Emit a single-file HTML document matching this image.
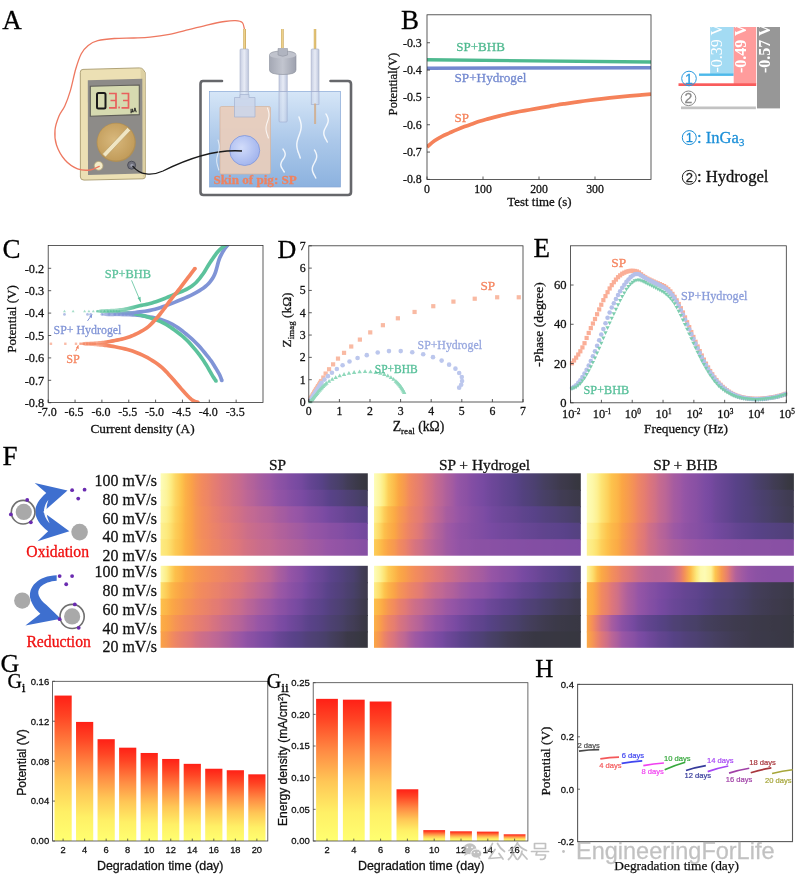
<!DOCTYPE html>
<html><head><meta charset="utf-8"><title>Figure</title>
<style>
html,body{margin:0;padding:0;background:#fff;}
body{width:799px;height:882px;overflow:hidden;font-family:"Liberation Serif",serif;}
svg{display:block;position:absolute;left:0;top:0;filter:blur(0.45px);}
text{white-space:pre;}
</style></head><body>
<svg width="799" height="882" viewBox="0 0 799 882">
<rect width="799" height="882" fill="#fff"/>
<defs><linearGradient id="water" x1="0" y1="0" x2="0" y2="1"><stop offset="0" stop-color="#d6e6f7"/><stop offset="0.5" stop-color="#adc9ea"/><stop offset="1" stop-color="#8cb2df"/></linearGradient><radialGradient id="bluec" cx="0.4" cy="0.4" r="0.7"><stop offset="0" stop-color="#d2dcfa"/><stop offset="1" stop-color="#9db0ec"/></radialGradient><linearGradient id="tube" x1="0" y1="0" x2="1" y2="0"><stop offset="0" stop-color="#c3cbe0"/><stop offset="0.5" stop-color="#e6eaf5"/><stop offset="1" stop-color="#b9c2da"/></linearGradient><linearGradient id="gold" x1="0" y1="0" x2="1" y2="0"><stop offset="0" stop-color="#c9a24a"/><stop offset="0.5" stop-color="#f0d690"/><stop offset="1" stop-color="#c09540"/></linearGradient><linearGradient id="cap" x1="0" y1="0" x2="1" y2="0"><stop offset="0" stop-color="#a4a8b4"/><stop offset="0.5" stop-color="#c2c5cf"/><stop offset="1" stop-color="#9da1ae"/></linearGradient><radialGradient id="dial" cx="0.45" cy="0.45" r="0.6"><stop offset="0" stop-color="#d8b87c"/><stop offset="1" stop-color="#c09a58"/></radialGradient></defs>
<text x="2.2" y="29" font-family='"Liberation Serif", serif' font-size="27" fill="#000" text-anchor="start" font-weight="normal"  stroke="#000" stroke-width="0.28">A</text>
<path d="M80.3 72.3 Q80.3 69.5 83 69.4 L139.3 67.9 Q142 67.9 143.3 69.6 L145.2 72.6 L145.4 176.3 Q145.4 178.7 143 178.8 L84 180.1 Q80.5 180.1 80.4 177 Z" fill="#ece0b4" stroke="#a89a6c" stroke-width="0.9"/>
<path d="M140.5 68.3 L145 72.8 L145.2 176 L142.8 178.2 Z" fill="#ddd0a2"/>
<path d="M87.8 80.2 L142.3 78.8 L142.5 173.6 L88 175 Z" fill="#8d8b88"/>
<path d="M90.3 86.3 L139.3 85 L139.3 114.6 L90.3 116.2 Z" fill="#d6dab0" stroke="#5f5e58" stroke-width="1.1"/>
<rect x="97" y="93" width="8.5" height="15.5" rx="1.5" fill="none" stroke="#1a1a1a" stroke-width="2"/>
<path d="M109 93.5 H116 V100.5 H110.5 M116 100.5 V107.8 H109" fill="none" stroke="#e8605c" stroke-width="1.7"/>
<rect x="118.3" y="106.6" width="1.6" height="1.8" fill="#e8605c"/>
<path d="M121.5 93.5 H128.5 V100.5 H123 M128.5 100.5 V107.8 H121.5" fill="none" stroke="#e8605c" stroke-width="1.7"/>
<text x="130.5" y="111.5" font-family='"Liberation Sans", sans-serif' font-size="4.6" fill="#222" text-anchor="start" font-weight="bold"  stroke="#222" stroke-width="0.28">µA</text>
<circle cx="116.2" cy="142.4" r="19.6" fill="#b08f55"/>
<circle cx="116" cy="142" r="18.6" fill="url(#dial)"/>
<path d="M102.5 154 L127.5 127.5 L130.5 130.5 L105.5 157 Z" fill="#f0e6c4" stroke="#b09460" stroke-width="0.5"/>
<circle cx="98.6" cy="165.8" r="4.4" fill="#f3ebc8" stroke="#b5a678" stroke-width="0.8"/>
<path d="M99.3 166.3C97.75 166.92 93.63 169.58 90 170C86.37 170.42 81.67 170.47 77.5 168.8C73.33 167.13 68.5 163.97 65 160C61.5 156.03 58.17 150 56.5 145C54.83 140 54.58 134.83 55 130C55.42 125.17 57.37 120 59 116C60.63 112 62.92 110.18 64.8 106C66.68 101.82 68.47 97.1 70.3 90.9C72.13 84.7 73.97 75 75.8 68.8C77.63 62.6 79.23 57.6 81.3 53.7C83.37 49.8 85.45 47.57 88.2 45.4C90.95 43.23 93.45 41.85 97.8 40.7C102.15 39.55 108.33 38.95 114.3 38.5C120.27 38.05 127.63 38.22 133.6 38C139.57 37.78 144.13 37.8 150.1 37.2C156.07 36.6 162.97 35.65 169.4 34.4C175.83 33.15 182.27 31.3 188.7 29.7C195.13 28.1 202.03 26.17 208 24.8C213.97 23.43 219.92 22.2 224.5 21.5C229.08 20.8 232.52 20.42 235.5 20.6C238.48 20.78 240.9 21.12 242.4 22.6C243.9 24.08 244.15 28.35 244.5 29.5" fill="none" stroke="#ee7860" stroke-width="1.3" stroke-linecap="round"/>
<circle cx="131.6" cy="165.2" r="4" fill="#70717c" stroke="#484a55" stroke-width="0.9"/><circle cx="132" cy="165.4" r="1.7" fill="#9a9cab"/>
<path d="M222 81 H203 Q200.5 81 200.5 84 V192 Q200.5 195 203.5 195 H348 Q351 195 351 192 V84 Q351 81 348 81 H330.5" fill="none" stroke="#66676b" stroke-width="2.6" stroke-linecap="round"/>
<rect x="209.5" y="91.5" width="131" height="95.5" fill="url(#water)" stroke="#86a7d6" stroke-width="0.7"/>
<rect x="220" y="106.5" width="50.5" height="67.5" rx="1.5" fill="#e9cdbb" fill-opacity="0.92" stroke="#d4b39d" stroke-width="0.7"/>
<rect x="243.3" y="29" width="2.6" height="20.5" fill="url(#gold)"/>
<rect x="240" y="49" width="8.6" height="42.5" rx="1" fill="url(#tube)" fill-opacity="0.95" stroke="#a8b1ca" stroke-width="0.6"/><rect x="240" y="91.5" width="8.6" height="7.5" fill="url(#tube)" fill-opacity="0.5" stroke="#a8b1ca" stroke-width="0.5"/>
<path d="M234.5 97.5 H240 V94.5 H249 V97.5 H255 V117 H234.5 Z" fill="#ccd6ea" fill-opacity="0.88" stroke="#a4b1d0" stroke-width="0.7" stroke-linejoin="round"/>
<circle cx="244.7" cy="150.5" r="15" fill="url(#bluec)" stroke="#7d96dc" stroke-width="0.8"/>
<path d="M132.5 165.8 C140 175.5 152 176 163 171 C185 160 215 149 242 151" fill="none" stroke="#1a1a1a" stroke-width="1.3"/>
<rect x="281.2" y="29" width="2.4" height="19" fill="url(#gold)"/>
<rect x="279" y="73" width="8.2" height="18.5" fill="url(#tube)" fill-opacity="0.95" stroke="#a5aec8" stroke-width="0.6"/><rect x="279" y="91.5" width="8.2" height="30.5" rx="1" fill="url(#tube)" fill-opacity="0.5" stroke="#9eacd0" stroke-width="0.6"/>
<path d="M269.5 55 Q269.5 51 283 51 Q296 51 296 55 V70 Q296 74.5 283 74.5 Q269.5 74.5 269.5 70 Z" fill="url(#cap)" stroke="#8a8e9a" stroke-width="0.6"/>
<ellipse cx="282.8" cy="55" rx="13.2" ry="3.6" fill="#c0c3cd"/>
<path d="M278 48.5 H287.5 V55 Q282.8 57.5 278 55 Z" fill="#b0b4c0" stroke="#8a8e9a" stroke-width="0.5"/>
<rect x="313.8" y="29" width="2.4" height="20.5" fill="url(#gold)"/>
<rect x="311.2" y="49" width="7.8" height="42.5" rx="1" fill="url(#tube)" fill-opacity="0.95" stroke="#a5aec8" stroke-width="0.6"/><rect x="311.2" y="91.5" width="7.8" height="13" fill="url(#tube)" fill-opacity="0.5" stroke="#9eacd0" stroke-width="0.6"/>
<rect x="314.1" y="103.5" width="2" height="20.5" fill="#d0b094" fill-opacity="0.95"/>
<path d="M299 117C299.2 117.57 299.86 119.28 300.2 120.42C300.53 121.56 300.85 122.69 301.01 123.83C301.17 124.97 301.24 126.11 301.17 127.25C301.11 128.39 300.9 129.53 300.63 130.67C300.37 131.81 299.96 132.94 299.57 134.08C299.18 135.22 298.7 136.36 298.32 137.5C297.94 138.64 297.54 139.78 297.29 140.92C297.04 142.06 296.85 143.19 296.81 144.33C296.77 145.47 296.86 146.61 297.04 147.75C297.22 148.89 297.55 150.03 297.9 151.17C298.25 152.31 298.72 153.44 299.12 154.58C299.51 155.72 300.1 157.43 300.29 158" fill="none" stroke="#fff" stroke-opacity="0.85" stroke-width="1.45" stroke-linecap="round"/>
<path d="M326 114C326.2 114.39 326.86 115.56 327.2 116.33C327.53 117.11 327.85 117.89 328.01 118.67C328.17 119.44 328.24 120.22 328.17 121C328.11 121.78 327.9 122.56 327.63 123.33C327.37 124.11 326.96 124.89 326.57 125.67C326.18 126.44 325.7 127.22 325.32 128C324.94 128.78 324.54 129.56 324.29 130.33C324.04 131.11 323.85 131.89 323.81 132.67C323.77 133.44 323.86 134.22 324.04 135C324.22 135.78 324.55 136.56 324.9 137.33C325.25 138.11 325.72 138.89 326.12 139.67C326.51 140.44 327.1 141.61 327.29 142" fill="none" stroke="#fff" stroke-opacity="0.85" stroke-width="1.45" stroke-linecap="round"/>
<path d="M283 149C283.2 149.32 283.86 150.28 284.2 150.92C284.53 151.56 284.85 152.19 285.01 152.83C285.17 153.47 285.24 154.11 285.17 154.75C285.11 155.39 284.9 156.03 284.63 156.67C284.37 157.31 283.96 157.94 283.57 158.58C283.18 159.22 282.7 159.86 282.32 160.5C281.94 161.14 281.54 161.78 281.29 162.42C281.04 163.06 280.85 163.69 280.81 164.33C280.77 164.97 280.86 165.61 281.04 166.25C281.22 166.89 281.55 167.53 281.9 168.17C282.25 168.81 282.72 169.44 283.12 170.08C283.51 170.72 284.1 171.68 284.29 172" fill="none" stroke="#fff" stroke-opacity="0.85" stroke-width="1.45" stroke-linecap="round"/>
<path d="M314.5 150C314.7 150.39 315.36 151.56 315.7 152.33C316.03 153.11 316.35 153.89 316.51 154.67C316.67 155.44 316.74 156.22 316.67 157C316.61 157.78 316.4 158.56 316.13 159.33C315.87 160.11 315.46 160.89 315.07 161.67C314.68 162.44 314.2 163.22 313.82 164C313.44 164.78 313.04 165.56 312.79 166.33C312.54 167.11 312.35 167.89 312.31 168.67C312.27 169.44 312.36 170.22 312.54 171C312.72 171.78 313.05 172.56 313.4 173.33C313.75 174.11 314.22 174.89 314.62 175.67C315.01 176.44 315.6 177.61 315.79 178" fill="none" stroke="#fff" stroke-opacity="0.85" stroke-width="1.45" stroke-linecap="round"/>
<path d="M267.5 108C267.64 108.42 268.09 109.67 268.32 110.5C268.55 111.33 268.76 112.17 268.87 113C268.98 113.83 269.02 114.67 268.98 115.5C268.94 116.33 268.8 117.17 268.61 118C268.43 118.83 268.15 119.67 267.89 120.5C267.63 121.33 267.3 122.17 267.04 123C266.78 123.83 266.51 124.67 266.33 125.5C266.16 126.33 266.04 127.17 266.01 128C265.98 128.83 266.04 129.67 266.16 130.5C266.29 131.33 266.51 132.17 266.75 133C266.99 133.83 267.31 134.67 267.58 135.5C267.85 136.33 268.25 137.58 268.38 138" fill="none" stroke="#fff" stroke-opacity="0.8" stroke-width="1.1" stroke-linecap="round"/>
<path d="M218 140C218.12 140.42 218.51 141.67 218.71 142.5C218.91 143.33 219.09 144.17 219.19 145C219.28 145.83 219.32 146.67 219.28 147.5C219.25 148.33 219.12 149.17 218.97 150C218.81 150.83 218.56 151.67 218.34 152.5C218.11 153.33 217.82 154.17 217.6 155C217.37 155.83 217.14 156.67 216.99 157.5C216.84 158.33 216.73 159.17 216.71 160C216.68 160.83 216.73 161.67 216.84 162.5C216.95 163.33 217.15 164.17 217.35 165C217.55 165.83 217.83 166.67 218.07 167.5C218.3 168.33 218.65 169.58 218.76 170" fill="none" stroke="#fff" stroke-opacity="0.65" stroke-width="1.1" stroke-linecap="round"/>
<text x="213.5" y="184.3" font-family='"Liberation Serif", serif' font-size="13.1" fill="#f0825f" text-anchor="start" font-weight="bold"  stroke="#f0825f" stroke-width="0.28">Skin of pig: SP</text>
<text x="401" y="29.3" font-family='"Liberation Serif", serif' font-size="27" fill="#000" text-anchor="start" font-weight="normal"  stroke="#000" stroke-width="0.28">B</text>
<clipPath id="clipB"><rect x="427" y="14.8" width="224" height="164.7"/></clipPath>
<g clip-path="url(#clipB)">
<path d="M427 147C428.25 145.97 432 142.58 434.5 140.8C437.01 139.02 439.5 137.62 442.01 136.3C444.52 134.98 447.06 134.02 449.57 132.9C452.08 131.78 454.57 130.65 457.07 129.6C459.57 128.55 462.07 127.55 464.58 126.6C467.08 125.65 469.58 124.78 472.08 123.9C474.58 123.02 477.07 122.1 479.58 121.3C482.09 120.5 484.63 119.8 487.14 119.1C489.65 118.4 492.15 117.73 494.65 117.1C497.15 116.47 499.65 115.9 502.15 115.3C504.65 114.7 507.15 114.05 509.66 113.5C512.16 112.95 514.65 112.48 517.16 112C519.67 111.52 522.01 111.08 524.72 110.6C527.43 110.12 530.55 109.6 533.4 109.1C536.25 108.6 539.09 108.07 541.8 107.6C544.51 107.13 547.12 106.73 549.64 106.3C552.16 105.87 554.42 105.42 556.92 105C559.42 104.58 560.85 104.37 564.65 103.8C568.45 103.23 574.69 102.3 579.71 101.6C584.73 100.9 589.76 100.22 594.78 99.6C599.79 98.98 604.78 98.43 609.78 97.9C614.79 97.37 619.79 96.87 624.79 96.4C629.79 95.93 635.43 95.47 639.8 95.1C644.17 94.73 649.13 94.35 651 94.2" fill="none" stroke="#f5825a" stroke-width="3.7"/>
<path d="M427 59.8 L651 62.0" fill="none" stroke="#4eb98f" stroke-width="3.4"/>
<path d="M427 68.2 L651 67.8" fill="none" stroke="#7288cf" stroke-width="3.4"/>
</g>
<rect x="427" y="14.8" width="224" height="164.7" fill="none" stroke="#333" stroke-width="0.8"/>
<path d="M427 42.75 h3" stroke="#333" stroke-width="0.8"/>
<text x="421.8" y="46.75" font-family='"Liberation Serif", serif' font-size="11.9" fill="#111" text-anchor="end" font-weight="normal"  stroke="#111" stroke-width="0.28">-0.3</text>
<path d="M427 70.08 h3" stroke="#333" stroke-width="0.8"/>
<text x="421.8" y="74.08" font-family='"Liberation Serif", serif' font-size="11.9" fill="#111" text-anchor="end" font-weight="normal"  stroke="#111" stroke-width="0.28">-0.4</text>
<path d="M427 97.41 h3" stroke="#333" stroke-width="0.8"/>
<text x="421.8" y="101.41" font-family='"Liberation Serif", serif' font-size="11.9" fill="#111" text-anchor="end" font-weight="normal"  stroke="#111" stroke-width="0.28">-0.5</text>
<path d="M427 124.74 h3" stroke="#333" stroke-width="0.8"/>
<text x="421.8" y="128.74" font-family='"Liberation Serif", serif' font-size="11.9" fill="#111" text-anchor="end" font-weight="normal"  stroke="#111" stroke-width="0.28">-0.6</text>
<path d="M427 152.07 h3" stroke="#333" stroke-width="0.8"/>
<text x="421.8" y="156.07" font-family='"Liberation Serif", serif' font-size="11.9" fill="#111" text-anchor="end" font-weight="normal"  stroke="#111" stroke-width="0.28">-0.7</text>
<path d="M427 179.4 h3" stroke="#333" stroke-width="0.8"/>
<text x="421.8" y="183.4" font-family='"Liberation Serif", serif' font-size="11.9" fill="#111" text-anchor="end" font-weight="normal"  stroke="#111" stroke-width="0.28">-0.8</text>
<path d="M427 179.5 v-3" stroke="#333" stroke-width="0.8"/>
<text x="427" y="193" font-family='"Liberation Serif", serif' font-size="11.8" fill="#111" text-anchor="middle" font-weight="normal"  stroke="#111" stroke-width="0.28">0</text>
<path d="M483 179.5 v-3" stroke="#333" stroke-width="0.8"/>
<text x="483" y="193" font-family='"Liberation Serif", serif' font-size="11.8" fill="#111" text-anchor="middle" font-weight="normal"  stroke="#111" stroke-width="0.28">100</text>
<path d="M539 179.5 v-3" stroke="#333" stroke-width="0.8"/>
<text x="539" y="193" font-family='"Liberation Serif", serif' font-size="11.8" fill="#111" text-anchor="middle" font-weight="normal"  stroke="#111" stroke-width="0.28">200</text>
<path d="M595 179.5 v-3" stroke="#333" stroke-width="0.8"/>
<text x="595" y="193" font-family='"Liberation Serif", serif' font-size="11.8" fill="#111" text-anchor="middle" font-weight="normal"  stroke="#111" stroke-width="0.28">300</text>
<text x="539.5" y="206.3" font-family='"Liberation Serif", serif' font-size="12.9" fill="#111" text-anchor="middle" font-weight="normal"  stroke="#111" stroke-width="0.28">Test time (s)</text>
<text x="397.3" y="84" font-family='"Liberation Serif", serif' font-size="12.7" fill="#111" text-anchor="middle" font-weight="normal" transform="rotate(-90 397.3 84)"  stroke="#111" stroke-width="0.28">Potential(V)</text>
<text x="456.3" y="50.8" font-family='"Liberation Serif", serif' font-size="13" fill="#4eb98f" text-anchor="start" font-weight="normal"  stroke="#4eb98f" stroke-width="0.28">SP+BHB</text>
<text x="454.5" y="81.5" font-family='"Liberation Serif", serif' font-size="13.2" fill="#7288cf" text-anchor="start" font-weight="normal"  stroke="#7288cf" stroke-width="0.28">SP+Hydrogel</text>
<text x="454.5" y="122.2" font-family='"Liberation Serif", serif' font-size="13" fill="#f5825a" text-anchor="start" font-weight="normal"  stroke="#f5825a" stroke-width="0.28">SP</text>
<rect x="710.1" y="27" width="23.6" height="47" fill="#a3dbf3"/>
<rect x="699" y="73.5" width="34.7" height="2.4" fill="#4db9ea"/>
<rect x="733.7" y="27" width="22.5" height="57" fill="#ff9c9c"/>
<rect x="678.5" y="83.3" width="77.7" height="2.7" fill="#f95c5c"/>
<rect x="757" y="27" width="23" height="81.4" fill="#979797"/>
<rect x="681" y="106.5" width="74.9" height="2.7" fill="#c2c2c2"/>
<clipPath id="clipBar"><rect x="700" y="27" width="90" height="90"/></clipPath>
<g clip-path="url(#clipBar)">
<text x="722.4" y="72.6" font-family='"Liberation Serif", serif' font-size="16" fill="#fff" text-anchor="start" font-weight="normal" transform="rotate(-90 722.4 72.6)" >-0.39 V</text>
<text x="746.1" y="73" font-family='"Liberation Serif", serif' font-size="16" fill="#fff" text-anchor="start" font-weight="bold" transform="rotate(-90 746.1 73)" >-0.49 V</text>
<text x="770.3" y="73" font-family='"Liberation Serif", serif' font-size="16" fill="#fff" text-anchor="start" font-weight="bold" transform="rotate(-90 770.3 73)" >-0.57 V</text>
</g>
<circle cx="689" cy="78.5" r="7.3" fill="none" stroke="#2a9be0" stroke-width="1"/>
<text x="689" y="83.6" font-family='"Liberation Sans", sans-serif' font-size="14" fill="#2a9be0" text-anchor="middle" font-weight="normal"  stroke="#2a9be0" stroke-width="0.28">1</text>
<circle cx="688.5" cy="98.3" r="7.3" fill="none" stroke="#8a8a8a" stroke-width="1"/>
<text x="688.5" y="103.4" font-family='"Liberation Sans", sans-serif' font-size="14" fill="#8a8a8a" text-anchor="middle" font-weight="normal"  stroke="#8a8a8a" stroke-width="0.28">2</text>
<circle cx="689.3" cy="137.6" r="7" fill="none" stroke="#1b8fd8" stroke-width="1"/>
<text x="689.3" y="142.3" font-family='"Liberation Sans", sans-serif' font-size="13" fill="#1b8fd8" text-anchor="middle" font-weight="normal"  stroke="#1b8fd8" stroke-width="0.28">1</text>
<text x="697" y="142.6" font-family='"Liberation Serif", serif' font-size="16.6" fill="#1b8fd8" stroke="#1b8fd8" stroke-width="0.28">: InGa<tspan font-size="10.8" dy="3">3</tspan></text>
<circle cx="689.3" cy="177.4" r="7" fill="none" stroke="#222" stroke-width="1"/>
<text x="689.3" y="182.1" font-family='"Liberation Sans", sans-serif' font-size="13" fill="#222" text-anchor="middle" font-weight="normal"  stroke="#222" stroke-width="0.28">2</text>
<text x="697" y="182.4" font-family='"Liberation Serif", serif' font-size="16.6" fill="#111" text-anchor="start" font-weight="normal"  stroke="#111" stroke-width="0.28">: Hydrogel</text>
<text x="2.5" y="257.5" font-family='"Liberation Serif", serif' font-size="27" fill="#000" text-anchor="start" font-weight="normal"  stroke="#000" stroke-width="0.28">C</text>
<clipPath id="clipC"><rect x="48.2" y="245.4" width="214.8" height="157.2"/></clipPath>
<g clip-path="url(#clipC)" fill="none" stroke-linecap="round" stroke-linejoin="round">
<linearGradient id="tg1" gradientUnits="userSpaceOnUse" x1="80.3" y1="0" x2="108" y2="0"><stop offset="0" stop-color="#f58560" stop-opacity="0.38"/><stop offset="0.55" stop-color="#f58560" stop-opacity="0.6"/><stop offset="1" stop-color="#f58560" stop-opacity="1"/></linearGradient>
<path d="M80.27 344.6L81.22 344.69L82.53 344.97L84.07 345.38L85.73 345.7L87.38 345.78L88.91 345.85L90.33 345.93L91.76 346.02L93.19 346.12L94.61 346.23L96 346.33L97.35 346.44L98.63 346.55L99.83 346.64L100.99 346.74L102.17 346.84L103.41 346.97L104.78 347.14L106.24 347.32L107.73 347.5L109.27 347.71L110.92 347.95L112.69 348.25L114.65 348.62L116.85 349.05L119.25 349.54L121.79 350.07L124.38 350.67L126.95 351.33L129.45 352.07L131.91 352.87L134.37 353.72L136.82 354.64L139.26 355.63L141.7 356.73L144.15 357.94L146.66 359.3L149.24 360.81L151.83 362.43L154.36 364.1L156.76 365.79L158.95 367.45L160.89 369.07L162.65 370.71L164.3 372.38L165.91 374.1L167.54 375.9L169.23 377.75L171 379.7L172.81 381.77L174.63 383.89L176.41 386L178.12 388L179.71 389.82L181.18 391.47L182.56 393.02L183.86 394.46L185.08 395.8L186.22 397.01L187.29 398.1L188.23 399.03L189.05 399.82L189.81 400.5L190.56 401.11L191.33 401.67L192.19 402.21L193.18 402.72L194.24 403.15L195.26 403.5L196.18 403.78L196.92 404L197.43 404.16L198.57 400.64L198 400.46L197.25 400.24L196.4 399.98L195.53 399.68L194.72 399.35L194.01 398.99L193.4 398.6L192.81 398.18L192.22 397.7L191.57 397.11L190.81 396.39L189.91 395.5L188.89 394.45L187.79 393.28L186.59 391.97L185.31 390.55L183.94 389.01L182.49 387.38L180.93 385.58L179.23 383.6L177.45 381.49L175.61 379.35L173.77 377.24L171.97 375.25L170.27 373.4L168.63 371.6L166.97 369.82L165.23 368.05L163.34 366.3L161.25 364.55L158.94 362.8L156.45 361.04L153.83 359.31L151.15 357.65L148.47 356.08L145.85 354.66L143.28 353.38L140.72 352.23L138.17 351.19L135.62 350.24L133.09 349.36L130.55 348.53L127.93 347.77L125.25 347.08L122.59 346.46L120 345.91L117.57 345.42L115.35 344.98L113.34 344.6L111.49 344.29L109.79 344.04L108.2 343.83L106.69 343.64L105.22 343.46L103.82 343.3L102.53 343.16L101.32 343.05L100.13 342.95L98.92 342.86L97.65 342.76L96.29 342.65L94.89 342.54L93.46 342.43L92.01 342.33L90.55 342.23L89.09 342.15L87.54 342.08L85.86 342.04L84.17 342.25L82.6 342.56L81.28 342.77L80.33 342.8Z" fill="url(#tg1)" stroke="none"/>
<circle cx="198" cy="402.4" r="1.85" fill="#f58560" stroke="none"/>
<linearGradient id="tg2" gradientUnits="userSpaceOnUse" x1="101.9" y1="0" x2="137" y2="0"><stop offset="0" stop-color="#8094d6" stop-opacity="0.38"/><stop offset="0.55" stop-color="#8094d6" stop-opacity="0.6"/><stop offset="1" stop-color="#8094d6" stop-opacity="1"/></linearGradient>
<path d="M101.89 315.3L103.01 315.4L104.58 315.73L106.43 316.16L108.4 316.32L110.31 316.34L111.99 316.35L113.38 316.35L114.58 316.34L115.71 316.32L116.89 316.32L118.27 316.32L119.97 316.35L122.06 316.39L124.44 316.42L127.01 316.47L129.66 316.55L132.31 316.67L134.85 316.84L137.36 317.08L139.93 317.36L142.49 317.68L145.02 318.03L147.46 318.42L149.77 318.82L151.92 319.23L153.93 319.65L155.85 320.09L157.72 320.58L159.59 321.12L161.5 321.75L163.46 322.45L165.42 323.19L167.37 323.99L169.31 324.87L171.24 325.83L173.17 326.9L175.1 328.08L177.05 329.38L179 330.78L180.97 332.27L182.95 333.82L184.93 335.43L186.91 337.08L188.89 338.76L190.86 340.51L192.83 342.33L194.79 344.24L196.75 346.26L198.79 348.52L200.95 351.03L203.11 353.64L205.18 356.21L207.05 358.59L208.63 360.62L209.83 362.23L210.73 363.54L211.44 364.64L212.06 365.68L212.69 366.76L213.42 367.97L214.24 369.28L215.07 370.62L215.88 371.96L216.65 373.27L217.35 374.51L217.94 375.62L218.44 376.68L218.87 377.74L219.25 378.76L219.57 379.7L219.84 380.51L220.06 381.12L223.54 379.88L223.34 379.3L223.07 378.5L222.73 377.52L222.32 376.4L221.83 375.2L221.26 373.98L220.6 372.73L219.86 371.42L219.06 370.06L218.22 368.69L217.38 367.33L216.58 366.03L215.87 364.87L215.24 363.79L214.59 362.69L213.81 361.48L212.83 360.07L211.57 358.38L209.97 356.31L208.07 353.9L205.98 351.3L203.78 348.64L201.57 346.07L199.45 343.74L197.41 341.63L195.37 339.65L193.34 337.77L191.31 335.97L189.29 334.24L187.27 332.57L185.25 330.93L183.23 329.34L181.2 327.8L179.15 326.34L177.1 324.97L175.03 323.7L172.96 322.56L170.89 321.53L168.83 320.6L166.78 319.75L164.74 318.97L162.7 318.25L160.68 317.59L158.71 317.01L156.73 316.5L154.73 316.03L152.64 315.6L150.43 315.18L148.06 314.77L145.56 314.37L142.98 314.01L140.36 313.68L137.73 313.39L135.15 313.16L132.52 312.98L129.8 312.85L127.1 312.78L124.51 312.72L122.12 312.69L120.03 312.65L118.31 312.62L116.89 312.62L115.68 312.63L114.54 312.64L113.37 312.65L112.01 312.65L110.34 312.64L108.43 312.62L106.47 312.74L104.61 313.13L103.03 313.42L101.91 313.5Z" fill="url(#tg2)" stroke="none"/>
<circle cx="221.8" cy="380.5" r="1.85" fill="#8094d6" stroke="none"/>
<linearGradient id="tg3" gradientUnits="userSpaceOnUse" x1="96.1" y1="0" x2="137" y2="0"><stop offset="0" stop-color="#5cc29c" stop-opacity="0.38"/><stop offset="0.55" stop-color="#5cc29c" stop-opacity="0.6"/><stop offset="1" stop-color="#5cc29c" stop-opacity="1"/></linearGradient>
<path d="M96.08 312.1L97.04 312.19L98.38 312.47L99.96 312.87L101.65 313.16L103.29 313.21L104.75 313.25L106.07 313.28L107.35 313.31L108.58 313.34L109.76 313.38L110.88 313.41L111.93 313.45L112.81 313.49L113.53 313.52L114.18 313.56L114.88 313.6L115.74 313.67L116.88 313.75L118.3 313.84L119.93 313.93L121.69 314.03L123.54 314.16L125.42 314.33L127.27 314.54L129.16 314.8L131.15 315.1L133.18 315.44L135.2 315.8L137.19 316.19L139.09 316.6L140.89 317.03L142.61 317.47L144.29 317.93L145.98 318.43L147.71 318.97L149.53 319.56L151.44 320.19L153.41 320.83L155.39 321.51L157.38 322.25L159.34 323.05L161.28 323.96L163.21 324.97L165.16 326.09L167.11 327.29L169.07 328.57L171.05 329.91L173.02 331.31L175.01 332.74L176.98 334.2L178.95 335.72L180.91 337.31L182.86 339.01L184.81 340.83L186.81 342.85L188.88 345.07L190.96 347.41L192.99 349.78L194.91 352.09L196.65 354.25L198.19 356.25L199.59 358.16L200.88 360.01L202.09 361.83L203.27 363.65L204.43 365.48L205.59 367.36L206.71 369.29L207.8 371.22L208.84 373.08L209.81 374.82L210.72 376.35L211.55 377.7L212.32 378.88L213.01 379.92L213.61 380.8L214.1 381.5L214.47 382.04L217.53 379.96L217.15 379.4L216.66 378.69L216.07 377.84L215.41 376.85L214.67 375.71L213.88 374.45L213.02 372.98L212.07 371.27L211.03 369.41L209.92 367.45L208.76 365.46L207.57 363.52L206.38 361.66L205.18 359.8L203.94 357.93L202.6 356.01L201.15 354.02L199.55 351.95L197.77 349.74L195.82 347.39L193.75 344.98L191.62 342.58L189.48 340.29L187.39 338.17L185.34 336.26L183.29 334.48L181.25 332.82L179.22 331.25L177.19 329.75L175.18 328.29L173.15 326.87L171.13 325.49L169.09 324.16L167.04 322.91L164.99 321.73L162.92 320.64L160.83 319.66L158.72 318.8L156.63 318.03L154.58 317.32L152.6 316.67L150.67 316.04L148.83 315.44L147.05 314.89L145.31 314.37L143.56 313.89L141.77 313.43L139.91 313L137.94 312.57L135.89 312.17L133.81 311.79L131.73 311.44L129.69 311.13L127.73 310.86L125.78 310.64L123.83 310.47L121.93 310.34L120.14 310.23L118.52 310.14L117.12 310.05L116 309.97L115.13 309.91L114.41 309.87L113.72 309.83L112.98 309.79L112.07 309.75L111.01 309.71L109.87 309.68L108.68 309.64L107.44 309.61L106.16 309.58L104.85 309.55L103.38 309.51L101.73 309.49L100.04 309.71L98.44 310.04L97.09 310.26L96.12 310.3Z" fill="url(#tg3)" stroke="none"/>
<circle cx="216" cy="381" r="1.85" fill="#5cc29c" stroke="none"/>
<linearGradient id="tg4" gradientUnits="userSpaceOnUse" x1="101.9" y1="0" x2="137" y2="0"><stop offset="0" stop-color="#8094d6" stop-opacity="0.38"/><stop offset="0.55" stop-color="#8094d6" stop-opacity="0.6"/><stop offset="1" stop-color="#8094d6" stop-opacity="1"/></linearGradient>
<path d="M101.91 315.3L103.03 315.38L104.6 315.68L106.46 316.08L108.43 316.2L110.35 316.18L112.03 316.15L113.4 316.13L114.59 316.11L115.74 316.09L116.98 316.04L118.4 315.97L120.14 315.84L122.25 315.67L124.65 315.45L127.24 315.2L129.93 314.93L132.62 314.64L135.21 314.34L137.72 314.05L140.24 313.77L142.78 313.47L145.34 313.12L147.91 312.71L150.49 312.21L153.05 311.61L155.6 310.95L158.14 310.22L160.67 309.43L163.19 308.61L165.71 307.75L168.24 306.84L170.77 305.87L173.3 304.86L175.81 303.83L178.32 302.77L180.82 301.7L183.35 300.63L185.94 299.55L188.53 298.43L191.1 297.28L193.6 296.08L195.99 294.82L198.25 293.54L200.46 292.23L202.59 290.87L204.64 289.45L206.58 287.94L208.37 286.34L210 284.7L211.47 283.01L212.82 281.25L214.06 279.39L215.2 277.41L216.29 275.26L217.27 272.81L218.1 270.12L218.83 267.37L219.5 264.69L220.16 262.23L220.84 260.13L221.57 258.33L222.32 256.68L223.08 255.19L223.83 253.82L224.54 252.57L225.19 251.44L225.77 250.48L226.29 249.71L226.78 249.06L227.23 248.48L227.67 247.94L228.07 247.42L228.39 247L228.62 246.7L228.81 246.47L228.96 246.29L229.1 246.13L229.22 245.98L226.38 243.62L226.28 243.74L226.15 243.89L225.96 244.11L225.73 244.39L225.45 244.75L225.13 245.18L224.77 245.64L224.34 246.17L223.84 246.81L223.27 247.58L222.65 248.5L222.01 249.56L221.33 250.73L220.6 252.02L219.81 253.46L218.99 255.07L218.17 256.87L217.36 258.87L216.61 261.18L215.92 263.76L215.25 266.44L214.54 269.1L213.78 271.58L212.91 273.74L211.95 275.66L210.92 277.44L209.81 279.1L208.61 280.66L207.29 282.17L205.83 283.66L204.21 285.09L202.45 286.47L200.54 287.79L198.52 289.08L196.4 290.34L194.21 291.58L191.94 292.77L189.54 293.92L187.04 295.04L184.49 296.14L181.92 297.22L179.38 298.3L176.88 299.36L174.39 300.41L171.9 301.44L169.43 302.42L166.96 303.37L164.49 304.25L162.01 305.1L159.54 305.91L157.08 306.67L154.62 307.38L152.16 308.02L149.71 308.59L147.26 309.07L144.8 309.46L142.32 309.8L139.82 310.09L137.3 310.37L134.79 310.66L132.21 310.96L129.54 311.25L126.87 311.52L124.31 311.77L121.93 311.98L119.86 312.16L118.17 312.28L116.81 312.35L115.64 312.39L114.53 312.41L113.34 312.43L111.97 312.45L110.29 312.48L108.4 312.5L106.44 312.66L104.59 313.08L103.02 313.4L101.89 313.5Z" fill="url(#tg4)" stroke="none"/>
<circle cx="227.8" cy="244.8" r="1.85" fill="#8094d6" stroke="none"/>
<linearGradient id="tg5" gradientUnits="userSpaceOnUse" x1="96.1" y1="0" x2="137" y2="0"><stop offset="0" stop-color="#5cc29c" stop-opacity="0.38"/><stop offset="0.55" stop-color="#5cc29c" stop-opacity="0.6"/><stop offset="1" stop-color="#5cc29c" stop-opacity="1"/></linearGradient>
<path d="M96.12 312.1L97.08 312.15L98.43 312.37L100.03 312.71L101.73 312.93L103.39 312.9L104.87 312.85L106.2 312.79L107.49 312.73L108.74 312.65L109.93 312.58L111.06 312.51L112.1 312.45L112.97 312.41L113.68 312.39L114.36 312.37L115.12 312.33L116.05 312.26L117.2 312.14L118.63 311.97L120.26 311.78L122.06 311.55L123.96 311.29L125.91 310.97L127.87 310.61L129.85 310.18L131.89 309.68L133.96 309.14L136.02 308.59L138.02 308.07L139.92 307.6L141.71 307.21L143.44 306.86L145.16 306.53L146.9 306.18L148.7 305.77L150.59 305.28L152.55 304.72L154.56 304.09L156.6 303.42L158.66 302.72L160.71 301.98L162.75 301.23L164.78 300.44L166.81 299.62L168.82 298.76L170.83 297.9L172.82 297.05L174.81 296.21L176.82 295.4L178.88 294.59L180.97 293.78L183.05 292.95L185.05 292.07L186.95 291.15L188.68 290.21L190.3 289.27L191.85 288.29L193.34 287.25L194.8 286.12L196.25 284.87L197.66 283.51L199.01 282.07L200.31 280.56L201.58 278.97L202.84 277.31L204.11 275.57L205.4 273.67L206.68 271.64L207.94 269.54L209.19 267.45L210.42 265.43L211.65 263.51L212.9 261.64L214.18 259.76L215.46 257.92L216.7 256.18L217.9 254.59L219.02 253.19L220.08 251.99L221.15 250.92L222.18 249.97L223.16 249.11L224.06 248.35L224.82 247.69L225.38 247.19L225.76 246.88L226.01 246.69L226.19 246.57L226.39 246.44L226.58 246.3L224.42 243.3L224.3 243.39L224.13 243.5L223.84 243.7L223.46 243.99L222.97 244.39L222.38 244.91L221.65 245.55L220.75 246.31L219.72 247.21L218.58 248.26L217.39 249.46L216.18 250.81L214.97 252.32L213.72 254L212.43 255.79L211.13 257.66L209.83 259.57L208.55 261.49L207.28 263.47L206.02 265.55L204.77 267.64L203.53 269.7L202.31 271.64L201.09 273.43L199.87 275.1L198.66 276.7L197.46 278.19L196.26 279.6L195.03 280.91L193.75 282.13L192.45 283.25L191.15 284.27L189.8 285.21L188.39 286.1L186.87 286.98L185.25 287.85L183.5 288.71L181.61 289.53L179.61 290.34L177.54 291.15L175.45 291.96L173.39 292.79L171.38 293.64L169.37 294.5L167.38 295.36L165.39 296.2L163.42 297.01L161.45 297.77L159.45 298.51L157.44 299.22L155.42 299.91L153.43 300.57L151.49 301.17L149.61 301.72L147.83 302.18L146.13 302.56L144.44 302.9L142.73 303.23L140.95 303.59L139.08 304L137.11 304.48L135.08 305.01L133.02 305.56L130.99 306.09L129.01 306.58L127.13 306.99L125.29 307.33L123.41 307.63L121.57 307.89L119.81 308.11L118.2 308.3L116.8 308.46L115.7 308.58L114.89 308.64L114.22 308.67L113.57 308.69L112.83 308.71L111.9 308.75L110.83 308.82L109.7 308.89L108.52 308.96L107.29 309.03L106.03 309.1L104.73 309.15L103.28 309.2L101.65 309.25L99.97 309.54L98.39 309.94L97.05 310.22L96.08 310.3Z" fill="url(#tg5)" stroke="none"/>
<circle cx="225.5" cy="244.8" r="1.85" fill="#5cc29c" stroke="none"/>
<linearGradient id="tg6" gradientUnits="userSpaceOnUse" x1="80.3" y1="0" x2="108" y2="0"><stop offset="0" stop-color="#f58560" stop-opacity="0.38"/><stop offset="0.55" stop-color="#f58560" stop-opacity="0.6"/><stop offset="1" stop-color="#f58560" stop-opacity="1"/></linearGradient>
<path d="M80.32 344.6L81.27 344.65L82.58 344.86L84.15 345.2L85.84 345.43L87.52 345.4L89.07 345.35L90.53 345.28L91.98 345.21L93.43 345.13L94.87 345.04L96.27 344.94L97.63 344.85L98.91 344.75L100.12 344.67L101.31 344.57L102.54 344.46L103.84 344.32L105.26 344.13L106.81 343.9L108.46 343.62L110.18 343.31L111.92 342.99L113.66 342.65L115.36 342.32L117.02 341.99L118.69 341.67L120.37 341.34L122.08 340.97L123.8 340.55L125.52 340.08L127.2 339.56L128.86 339.01L130.52 338.42L132.22 337.76L133.97 337.02L135.79 336.17L137.74 335.22L139.81 334.18L141.95 333.04L144.09 331.82L146.16 330.54L148.1 329.18L149.9 327.76L151.57 326.25L153.15 324.7L154.64 323.14L156.08 321.58L157.48 320.04L158.84 318.49L160.15 316.94L161.4 315.38L162.62 313.81L163.84 312.23L165.07 310.62L166.34 308.94L167.6 307.22L168.85 305.48L170.1 303.75L171.34 302.06L172.57 300.43L173.79 298.86L175.02 297.34L176.25 295.84L177.5 294.32L178.77 292.76L180.06 291.14L181.35 289.47L182.65 287.76L183.96 286.03L185.28 284.27L186.62 282.5L187.97 280.72L189.45 278.79L191.07 276.67L192.71 274.53L194.24 272.53L195.54 270.84L196.47 269.63L193.53 267.37L192.6 268.59L191.31 270.28L189.78 272.27L188.13 274.42L186.51 276.54L185.03 278.48L183.67 280.27L182.33 282.05L181.01 283.8L179.71 285.52L178.42 287.21L177.14 288.86L175.88 290.44L174.64 291.98L173.4 293.49L172.15 295.01L170.9 296.56L169.63 298.17L168.36 299.86L167.1 301.58L165.85 303.32L164.6 305.05L163.36 306.74L162.13 308.38L160.9 309.98L159.7 311.55L158.5 313.08L157.29 314.59L156.04 316.08L154.72 317.56L153.34 319.08L151.94 320.61L150.51 322.11L149.04 323.55L147.51 324.93L145.9 326.22L144.13 327.44L142.2 328.64L140.16 329.8L138.11 330.89L136.09 331.91L134.21 332.83L132.47 333.64L130.82 334.33L129.23 334.95L127.66 335.51L126.08 336.03L124.48 336.52L122.87 336.97L121.25 337.36L119.63 337.71L117.98 338.04L116.32 338.36L114.64 338.68L112.95 339.02L111.23 339.35L109.51 339.67L107.83 339.97L106.23 340.24L104.74 340.47L103.39 340.65L102.17 340.78L101 340.89L99.84 340.98L98.65 341.06L97.37 341.15L96.01 341.25L94.63 341.35L93.22 341.43L91.79 341.52L90.35 341.59L88.93 341.65L87.41 341.7L85.75 341.77L84.09 342.07L82.54 342.46L81.23 342.72L80.28 342.8Z" fill="url(#tg6)" stroke="none"/>
<circle cx="195" cy="268.5" r="1.85" fill="#f58560" stroke="none"/>
</g>
<rect x="49.74" y="342.57" width="2.4" height="2.4" fill="#f58560" fill-opacity="0.55"/>
<rect x="64.13" y="342.57" width="2.4" height="2.4" fill="#f58560" fill-opacity="0.55"/>
<rect x="74.78" y="342.57" width="2.4" height="2.4" fill="#f58560" fill-opacity="0.55"/>
<rect x="79.1" y="342.57" width="2.4" height="2.4" fill="#f58560" fill-opacity="0.55"/>
<rect x="82.55" y="342.57" width="2.4" height="2.4" fill="#f58560" fill-opacity="0.8"/>
<rect x="85.72" y="342.57" width="2.4" height="2.4" fill="#f58560" fill-opacity="0.8"/>
<rect x="88.6" y="342.57" width="2.4" height="2.4" fill="#f58560" fill-opacity="0.8"/>
<rect x="91.19" y="342.57" width="2.4" height="2.4" fill="#f58560" fill-opacity="0.8"/>
<rect x="93.49" y="342.57" width="2.4" height="2.4" fill="#f58560" fill-opacity="0.8"/>
<circle cx="64.47" cy="314.41" r="1.4" fill="#8094d6" fill-opacity="0.6"/>
<circle cx="87.5" cy="314.41" r="1.4" fill="#8094d6" fill-opacity="0.6"/>
<circle cx="90.66" cy="314.41" r="1.4" fill="#8094d6" fill-opacity="0.6"/>
<circle cx="101.89" cy="314.41" r="1.4" fill="#8094d6" fill-opacity="0.6"/>
<circle cx="109.08" cy="314.41" r="1.4" fill="#8094d6" fill-opacity="0.6"/>
<circle cx="114.84" cy="314.41" r="1.4" fill="#8094d6" fill-opacity="0.85"/>
<circle cx="119.16" cy="314.41" r="1.4" fill="#8094d6" fill-opacity="0.85"/>
<circle cx="122.9" cy="314.41" r="1.4" fill="#8094d6" fill-opacity="0.85"/>
<circle cx="126.36" cy="314.41" r="1.4" fill="#8094d6" fill-opacity="0.85"/>
<circle cx="129.81" cy="314.41" r="1.4" fill="#8094d6" fill-opacity="0.85"/>
<circle cx="132.69" cy="314.41" r="1.4" fill="#8094d6" fill-opacity="0.85"/>
<path d="M64.47 309.64 l1.5 2.6 h-3 Z" fill="#5cc29c" fill-opacity="0.55"/>
<path d="M73.1 309.64 l1.5 2.6 h-3 Z" fill="#5cc29c" fill-opacity="0.55"/>
<path d="M84.62 309.64 l1.5 2.6 h-3 Z" fill="#5cc29c" fill-opacity="0.55"/>
<path d="M88.93 309.64 l1.5 2.6 h-3 Z" fill="#5cc29c" fill-opacity="0.55"/>
<path d="M93.25 309.64 l1.5 2.6 h-3 Z" fill="#5cc29c" fill-opacity="0.55"/>
<path d="M97.57 309.64 l1.5 2.6 h-3 Z" fill="#5cc29c" fill-opacity="0.55"/>
<path d="M101.02 309.64 l1.5 2.6 h-3 Z" fill="#5cc29c" fill-opacity="0.55"/>
<path d="M104.48 309.64 l1.5 2.6 h-3 Z" fill="#5cc29c" fill-opacity="0.85"/>
<path d="M107.93 309.64 l1.5 2.6 h-3 Z" fill="#5cc29c" fill-opacity="0.85"/>
<path d="M110.81 309.64 l1.5 2.6 h-3 Z" fill="#5cc29c" fill-opacity="0.85"/>
<path d="M113.69 309.64 l1.5 2.6 h-3 Z" fill="#5cc29c" fill-opacity="0.85"/>
<path d="M116.57 309.64 l1.5 2.6 h-3 Z" fill="#5cc29c" fill-opacity="0.85"/>
<path d="M119.16 309.64 l1.5 2.6 h-3 Z" fill="#5cc29c" fill-opacity="0.85"/>
<rect x="48.2" y="245.4" width="214.8" height="157.2" fill="none" stroke="#333" stroke-width="0.8"/>
<path d="M48.2 268.3 h3" stroke="#333" stroke-width="0.8"/>
<text x="44.2" y="272.5" font-family='"Liberation Serif", serif' font-size="12.3" fill="#111" text-anchor="end" font-weight="normal"  stroke="#111" stroke-width="0.28">-0.2</text>
<path d="M48.2 290.7 h3" stroke="#333" stroke-width="0.8"/>
<text x="44.2" y="294.9" font-family='"Liberation Serif", serif' font-size="12.3" fill="#111" text-anchor="end" font-weight="normal"  stroke="#111" stroke-width="0.28">-0.3</text>
<path d="M48.2 313.1 h3" stroke="#333" stroke-width="0.8"/>
<text x="44.2" y="317.3" font-family='"Liberation Serif", serif' font-size="12.3" fill="#111" text-anchor="end" font-weight="normal"  stroke="#111" stroke-width="0.28">-0.4</text>
<path d="M48.2 335.5 h3" stroke="#333" stroke-width="0.8"/>
<text x="44.2" y="339.7" font-family='"Liberation Serif", serif' font-size="12.3" fill="#111" text-anchor="end" font-weight="normal"  stroke="#111" stroke-width="0.28">-0.5</text>
<path d="M48.2 357.9 h3" stroke="#333" stroke-width="0.8"/>
<text x="44.2" y="362.1" font-family='"Liberation Serif", serif' font-size="12.3" fill="#111" text-anchor="end" font-weight="normal"  stroke="#111" stroke-width="0.28">-0.6</text>
<path d="M48.2 380.3 h3" stroke="#333" stroke-width="0.8"/>
<text x="44.2" y="384.5" font-family='"Liberation Serif", serif' font-size="12.3" fill="#111" text-anchor="end" font-weight="normal"  stroke="#111" stroke-width="0.28">-0.7</text>
<path d="M48.2 402.7 h3" stroke="#333" stroke-width="0.8"/>
<text x="44.2" y="406.9" font-family='"Liberation Serif", serif' font-size="12.3" fill="#111" text-anchor="end" font-weight="normal"  stroke="#111" stroke-width="0.28">-0.8</text>
<path d="M48.2 402.6 v-3" stroke="#333" stroke-width="0.8"/>
<text x="47.2" y="415.6" font-family='"Liberation Serif", serif' font-size="12" fill="#111" text-anchor="middle" font-weight="normal"  stroke="#111" stroke-width="0.28">-7.0</text>
<path d="M75.05 402.6 v-3" stroke="#333" stroke-width="0.8"/>
<text x="74.05" y="415.6" font-family='"Liberation Serif", serif' font-size="12" fill="#111" text-anchor="middle" font-weight="normal"  stroke="#111" stroke-width="0.28">-6.5</text>
<path d="M101.9 402.6 v-3" stroke="#333" stroke-width="0.8"/>
<text x="100.9" y="415.6" font-family='"Liberation Serif", serif' font-size="12" fill="#111" text-anchor="middle" font-weight="normal"  stroke="#111" stroke-width="0.28">-6.0</text>
<path d="M128.75 402.6 v-3" stroke="#333" stroke-width="0.8"/>
<text x="127.75" y="415.6" font-family='"Liberation Serif", serif' font-size="12" fill="#111" text-anchor="middle" font-weight="normal"  stroke="#111" stroke-width="0.28">-5.5</text>
<path d="M155.6 402.6 v-3" stroke="#333" stroke-width="0.8"/>
<text x="154.6" y="415.6" font-family='"Liberation Serif", serif' font-size="12" fill="#111" text-anchor="middle" font-weight="normal"  stroke="#111" stroke-width="0.28">-5.0</text>
<path d="M182.45 402.6 v-3" stroke="#333" stroke-width="0.8"/>
<text x="181.45" y="415.6" font-family='"Liberation Serif", serif' font-size="12" fill="#111" text-anchor="middle" font-weight="normal"  stroke="#111" stroke-width="0.28">-4.5</text>
<path d="M209.3 402.6 v-3" stroke="#333" stroke-width="0.8"/>
<text x="208.3" y="415.6" font-family='"Liberation Serif", serif' font-size="12" fill="#111" text-anchor="middle" font-weight="normal"  stroke="#111" stroke-width="0.28">-4.0</text>
<path d="M236.15 402.6 v-3" stroke="#333" stroke-width="0.8"/>
<text x="235.15" y="415.6" font-family='"Liberation Serif", serif' font-size="12" fill="#111" text-anchor="middle" font-weight="normal"  stroke="#111" stroke-width="0.28">-3.5</text>
<text x="142.5" y="433.2" font-family='"Liberation Serif", serif' font-size="13.3" fill="#111" text-anchor="middle" font-weight="normal"  stroke="#111" stroke-width="0.28">Current density (A)</text>
<text x="15.6" y="319" font-family='"Liberation Serif", serif' font-size="13" fill="#111" text-anchor="middle" font-weight="normal" transform="rotate(-90 15.6 319)"  stroke="#111" stroke-width="0.28">Potential (V)</text>
<text x="104.8" y="277.5" font-family='"Liberation Serif", serif' font-size="12.4" fill="#5cc29c" text-anchor="start" font-weight="normal"  stroke="#5cc29c" stroke-width="0.28">SP+BHB</text>
<path d="M131.54 280.3 L140.75 302.18" stroke="#5cc29c" stroke-width="0.8" fill="none"/>
<path d="M140.75 302.18 l-3.1 -4.2 l2.9 -1.2 Z" fill="#5cc29c"/>
<text x="53.6" y="333.8" font-family='"Liberation Serif", serif' font-size="11.9" fill="#8094d6" text-anchor="start" font-weight="normal"  stroke="#8094d6" stroke-width="0.28">SP+ Hydrogel</text>
<path d="M87.5 320.89 L92.1 314.55" stroke="#8094d6" stroke-width="1" fill="none"/>
<path d="M92.1 314.55 l-0.3 3.6 l-2.6 -1.9 Z" fill="#8094d6"/>
<text x="66.3" y="363.3" font-family='"Liberation Serif", serif' font-size="12.2" fill="#f58560" text-anchor="start" font-weight="normal"  stroke="#f58560" stroke-width="0.28">SP</text>
<path d="M75.69 351.11 L78.28 345.35" stroke="#f58560" stroke-width="1" fill="none"/>
<path d="M78.28 345.35 l0.6 3.6 l-2.9 -1.2 Z" fill="#f58560"/>
<text x="277.6" y="257.6" font-family='"Liberation Serif", serif' font-size="26" fill="#000" text-anchor="start" font-weight="normal"  stroke="#000" stroke-width="0.28">D</text>
<clipPath id="clipD"><rect x="306.8" y="245.8" width="218.2" height="158.2"/></clipPath>
<g clip-path="url(#clipD)">
<rect x="516.67" y="295.18" width="4.2" height="4.2" fill="#f9baa3"/>
<rect x="495.08" y="295.18" width="4.2" height="4.2" fill="#f9baa3"/>
<rect x="472.63" y="296.62" width="4.2" height="4.2" fill="#f9baa3"/>
<rect x="451.33" y="299.5" width="4.2" height="4.2" fill="#f9baa3"/>
<rect x="431.18" y="304.11" width="4.2" height="4.2" fill="#f9baa3"/>
<rect x="412.47" y="309.86" width="4.2" height="4.2" fill="#f9baa3"/>
<rect x="395.77" y="316.2" width="4.2" height="4.2" fill="#f9baa3"/>
<rect x="380.8" y="323.1" width="4.2" height="4.2" fill="#f9baa3"/>
<rect x="368.14" y="330.3" width="4.2" height="4.2" fill="#f9baa3"/>
<rect x="357.77" y="337.5" width="4.2" height="4.2" fill="#f9baa3"/>
<rect x="349.14" y="344.41" width="4.2" height="4.2" fill="#f9baa3"/>
<rect x="341.94" y="350.74" width="4.2" height="4.2" fill="#f9baa3"/>
<rect x="335.9" y="356.5" width="4.2" height="4.2" fill="#f9baa3"/>
<rect x="331" y="362.25" width="4.2" height="4.2" fill="#f9baa3"/>
<rect x="326.97" y="367.15" width="4.2" height="4.2" fill="#f9baa3"/>
<rect x="323.52" y="371.46" width="4.2" height="4.2" fill="#f9baa3"/>
<rect x="321.22" y="375.49" width="4.2" height="4.2" fill="#f9baa3"/>
<rect x="318.91" y="378.95" width="4.2" height="4.2" fill="#f9baa3"/>
<rect x="317.91" y="380.67" width="4.2" height="4.2" fill="#f9baa3"/>
<rect x="316.9" y="382.4" width="4.2" height="4.2" fill="#f9baa3"/>
<rect x="315.89" y="383.99" width="4.2" height="4.2" fill="#f9baa3"/>
<rect x="314.88" y="385.57" width="4.2" height="4.2" fill="#f9baa3"/>
<rect x="313.88" y="387.15" width="4.2" height="4.2" fill="#f9baa3"/>
<rect x="312.87" y="388.73" width="4.2" height="4.2" fill="#f9baa3"/>
<rect x="312" y="390.32" width="4.2" height="4.2" fill="#f9baa3"/>
<rect x="311.14" y="391.9" width="4.2" height="4.2" fill="#f9baa3"/>
<rect x="310.28" y="393.34" width="4.2" height="4.2" fill="#f9baa3"/>
<rect x="309.41" y="394.78" width="4.2" height="4.2" fill="#f9baa3"/>
<rect x="308.69" y="396.22" width="4.2" height="4.2" fill="#f9baa3"/>
<rect x="307.97" y="397.66" width="4.2" height="4.2" fill="#f9baa3"/>
<circle cx="459.18" cy="387.67" r="2.3" fill="#bcc7ed"/>
<circle cx="461.2" cy="384.79" r="2.3" fill="#bcc7ed"/>
<circle cx="462.06" cy="381.05" r="2.3" fill="#bcc7ed"/>
<circle cx="461.77" cy="377.02" r="2.3" fill="#bcc7ed"/>
<circle cx="459.18" cy="372.99" r="2.3" fill="#bcc7ed"/>
<circle cx="455.44" cy="368.67" r="2.3" fill="#bcc7ed"/>
<circle cx="449.11" cy="364.64" r="2.3" fill="#bcc7ed"/>
<circle cx="441.62" cy="360.61" r="2.3" fill="#bcc7ed"/>
<circle cx="432.99" cy="357.16" r="2.3" fill="#bcc7ed"/>
<circle cx="423.2" cy="354.28" r="2.3" fill="#bcc7ed"/>
<circle cx="412.26" cy="352.26" r="2.3" fill="#bcc7ed"/>
<circle cx="400.75" cy="351.11" r="2.3" fill="#bcc7ed"/>
<circle cx="388.95" cy="351.11" r="2.3" fill="#bcc7ed"/>
<circle cx="377.72" cy="352.55" r="2.3" fill="#bcc7ed"/>
<circle cx="366.78" cy="355.14" r="2.3" fill="#bcc7ed"/>
<circle cx="357.57" cy="358.02" r="2.3" fill="#bcc7ed"/>
<circle cx="349.51" cy="361.47" r="2.3" fill="#bcc7ed"/>
<circle cx="342.6" cy="365.22" r="2.3" fill="#bcc7ed"/>
<circle cx="336.85" cy="368.96" r="2.3" fill="#bcc7ed"/>
<circle cx="331.95" cy="372.7" r="2.3" fill="#bcc7ed"/>
<circle cx="327.92" cy="376.15" r="2.3" fill="#bcc7ed"/>
<circle cx="324.47" cy="379.61" r="2.3" fill="#bcc7ed"/>
<circle cx="321.59" cy="382.77" r="2.3" fill="#bcc7ed"/>
<circle cx="320.58" cy="384.36" r="2.3" fill="#bcc7ed"/>
<circle cx="319.57" cy="385.94" r="2.3" fill="#bcc7ed"/>
<circle cx="318.57" cy="387.52" r="2.3" fill="#bcc7ed"/>
<circle cx="317.56" cy="389.11" r="2.3" fill="#bcc7ed"/>
<circle cx="316.55" cy="390.55" r="2.3" fill="#bcc7ed"/>
<circle cx="315.54" cy="391.99" r="2.3" fill="#bcc7ed"/>
<circle cx="314.68" cy="393.43" r="2.3" fill="#bcc7ed"/>
<circle cx="313.82" cy="394.86" r="2.3" fill="#bcc7ed"/>
<circle cx="312.95" cy="396.3" r="2.3" fill="#bcc7ed"/>
<circle cx="312.09" cy="397.74" r="2.3" fill="#bcc7ed"/>
<circle cx="311.23" cy="399.04" r="2.3" fill="#bcc7ed"/>
<circle cx="310.36" cy="400.33" r="2.3" fill="#bcc7ed"/>
<path d="M404.2 390.16 l2.2 3.9 h-4.4 Z" fill="#8fd8bb"/>
<path d="M403.48 388.87 l2.2 3.9 h-4.4 Z" fill="#8fd8bb"/>
<path d="M402.76 387.57 l2.2 3.9 h-4.4 Z" fill="#8fd8bb"/>
<path d="M402.04 386.42 l2.2 3.9 h-4.4 Z" fill="#8fd8bb"/>
<path d="M401.32 385.27 l2.2 3.9 h-4.4 Z" fill="#8fd8bb"/>
<path d="M400.46 384.12 l2.2 3.9 h-4.4 Z" fill="#8fd8bb"/>
<path d="M399.6 382.97 l2.2 3.9 h-4.4 Z" fill="#8fd8bb"/>
<path d="M398.73 381.96 l2.2 3.9 h-4.4 Z" fill="#8fd8bb"/>
<path d="M397.87 380.95 l2.2 3.9 h-4.4 Z" fill="#8fd8bb"/>
<path d="M396.86 379.94 l2.2 3.9 h-4.4 Z" fill="#8fd8bb"/>
<path d="M395.85 378.94 l2.2 3.9 h-4.4 Z" fill="#8fd8bb"/>
<path d="M393.55 376.92 l2.2 3.9 h-4.4 Z" fill="#8fd8bb"/>
<path d="M390.96 375.19 l2.2 3.9 h-4.4 Z" fill="#8fd8bb"/>
<path d="M387.8 373.47 l2.2 3.9 h-4.4 Z" fill="#8fd8bb"/>
<path d="M384.34 372.03 l2.2 3.9 h-4.4 Z" fill="#8fd8bb"/>
<path d="M380.31 370.88 l2.2 3.9 h-4.4 Z" fill="#8fd8bb"/>
<path d="M375.71 370.01 l2.2 3.9 h-4.4 Z" fill="#8fd8bb"/>
<path d="M370.52 369.44 l2.2 3.9 h-4.4 Z" fill="#8fd8bb"/>
<path d="M365.05 369.15 l2.2 3.9 h-4.4 Z" fill="#8fd8bb"/>
<path d="M359.59 369.44 l2.2 3.9 h-4.4 Z" fill="#8fd8bb"/>
<path d="M354.12 370.01 l2.2 3.9 h-4.4 Z" fill="#8fd8bb"/>
<path d="M348.93 370.88 l2.2 3.9 h-4.4 Z" fill="#8fd8bb"/>
<path d="M344.04 372.03 l2.2 3.9 h-4.4 Z" fill="#8fd8bb"/>
<path d="M339.72 373.47 l2.2 3.9 h-4.4 Z" fill="#8fd8bb"/>
<path d="M335.69 375.19 l2.2 3.9 h-4.4 Z" fill="#8fd8bb"/>
<path d="M332.24 376.92 l2.2 3.9 h-4.4 Z" fill="#8fd8bb"/>
<path d="M329.07 378.94 l2.2 3.9 h-4.4 Z" fill="#8fd8bb"/>
<path d="M326.48 380.95 l2.2 3.9 h-4.4 Z" fill="#8fd8bb"/>
<path d="M325.33 381.96 l2.2 3.9 h-4.4 Z" fill="#8fd8bb"/>
<path d="M324.18 382.97 l2.2 3.9 h-4.4 Z" fill="#8fd8bb"/>
<path d="M323.03 384.12 l2.2 3.9 h-4.4 Z" fill="#8fd8bb"/>
<path d="M321.88 385.27 l2.2 3.9 h-4.4 Z" fill="#8fd8bb"/>
<path d="M320.87 386.42 l2.2 3.9 h-4.4 Z" fill="#8fd8bb"/>
<path d="M319.86 387.57 l2.2 3.9 h-4.4 Z" fill="#8fd8bb"/>
<path d="M318.85 388.72 l2.2 3.9 h-4.4 Z" fill="#8fd8bb"/>
<path d="M317.85 389.87 l2.2 3.9 h-4.4 Z" fill="#8fd8bb"/>
<path d="M316.98 391.03 l2.2 3.9 h-4.4 Z" fill="#8fd8bb"/>
<path d="M316.12 392.18 l2.2 3.9 h-4.4 Z" fill="#8fd8bb"/>
<path d="M315.26 393.18 l2.2 3.9 h-4.4 Z" fill="#8fd8bb"/>
<path d="M314.39 394.19 l2.2 3.9 h-4.4 Z" fill="#8fd8bb"/>
<path d="M313.67 395.2 l2.2 3.9 h-4.4 Z" fill="#8fd8bb"/>
<path d="M312.95 396.21 l2.2 3.9 h-4.4 Z" fill="#8fd8bb"/>
<path d="M312.23 397.07 l2.2 3.9 h-4.4 Z" fill="#8fd8bb"/>
<path d="M311.51 397.93 l2.2 3.9 h-4.4 Z" fill="#8fd8bb"/>
<path d="M310.79 398.65 l2.2 3.9 h-4.4 Z" fill="#8fd8bb"/>
<path d="M310.07 399.37 l2.2 3.9 h-4.4 Z" fill="#8fd8bb"/>
</g>
<rect x="308.8" y="245.8" width="214.2" height="156.2" fill="none" stroke="#333" stroke-width="0.8"/>
<path d="M308.8 402 h3" stroke="#333" stroke-width="0.8"/>
<text x="305.6" y="406" font-family='"Liberation Serif", serif' font-size="11.8" fill="#111" text-anchor="end" font-weight="normal"  stroke="#111" stroke-width="0.28">0</text>
<path d="M308.8 402 v-3" stroke="#333" stroke-width="0.8"/>
<text x="308.8" y="414.6" font-family='"Liberation Serif", serif' font-size="11.8" fill="#111" text-anchor="middle" font-weight="normal"  stroke="#111" stroke-width="0.28">0</text>
<path d="M308.8 379.69 h3" stroke="#333" stroke-width="0.8"/>
<text x="305.6" y="383.69" font-family='"Liberation Serif", serif' font-size="11.8" fill="#111" text-anchor="end" font-weight="normal"  stroke="#111" stroke-width="0.28">1</text>
<path d="M339.4 402 v-3" stroke="#333" stroke-width="0.8"/>
<text x="339.4" y="414.6" font-family='"Liberation Serif", serif' font-size="11.8" fill="#111" text-anchor="middle" font-weight="normal"  stroke="#111" stroke-width="0.28">1</text>
<path d="M308.8 357.37 h3" stroke="#333" stroke-width="0.8"/>
<text x="305.6" y="361.37" font-family='"Liberation Serif", serif' font-size="11.8" fill="#111" text-anchor="end" font-weight="normal"  stroke="#111" stroke-width="0.28">2</text>
<path d="M370 402 v-3" stroke="#333" stroke-width="0.8"/>
<text x="370" y="414.6" font-family='"Liberation Serif", serif' font-size="11.8" fill="#111" text-anchor="middle" font-weight="normal"  stroke="#111" stroke-width="0.28">2</text>
<path d="M308.8 335.06 h3" stroke="#333" stroke-width="0.8"/>
<text x="305.6" y="339.06" font-family='"Liberation Serif", serif' font-size="11.8" fill="#111" text-anchor="end" font-weight="normal"  stroke="#111" stroke-width="0.28">3</text>
<path d="M400.6 402 v-3" stroke="#333" stroke-width="0.8"/>
<text x="400.6" y="414.6" font-family='"Liberation Serif", serif' font-size="11.8" fill="#111" text-anchor="middle" font-weight="normal"  stroke="#111" stroke-width="0.28">3</text>
<path d="M308.8 312.74 h3" stroke="#333" stroke-width="0.8"/>
<text x="305.6" y="316.74" font-family='"Liberation Serif", serif' font-size="11.8" fill="#111" text-anchor="end" font-weight="normal"  stroke="#111" stroke-width="0.28">4</text>
<path d="M431.2 402 v-3" stroke="#333" stroke-width="0.8"/>
<text x="431.2" y="414.6" font-family='"Liberation Serif", serif' font-size="11.8" fill="#111" text-anchor="middle" font-weight="normal"  stroke="#111" stroke-width="0.28">4</text>
<path d="M308.8 290.43 h3" stroke="#333" stroke-width="0.8"/>
<text x="305.6" y="294.43" font-family='"Liberation Serif", serif' font-size="11.8" fill="#111" text-anchor="end" font-weight="normal"  stroke="#111" stroke-width="0.28">5</text>
<path d="M461.8 402 v-3" stroke="#333" stroke-width="0.8"/>
<text x="461.8" y="414.6" font-family='"Liberation Serif", serif' font-size="11.8" fill="#111" text-anchor="middle" font-weight="normal"  stroke="#111" stroke-width="0.28">5</text>
<path d="M308.8 268.11 h3" stroke="#333" stroke-width="0.8"/>
<text x="305.6" y="272.11" font-family='"Liberation Serif", serif' font-size="11.8" fill="#111" text-anchor="end" font-weight="normal"  stroke="#111" stroke-width="0.28">6</text>
<path d="M492.4 402 v-3" stroke="#333" stroke-width="0.8"/>
<text x="492.4" y="414.6" font-family='"Liberation Serif", serif' font-size="11.8" fill="#111" text-anchor="middle" font-weight="normal"  stroke="#111" stroke-width="0.28">6</text>
<path d="M308.8 245.8 h3" stroke="#333" stroke-width="0.8"/>
<text x="305.6" y="249.8" font-family='"Liberation Serif", serif' font-size="11.8" fill="#111" text-anchor="end" font-weight="normal"  stroke="#111" stroke-width="0.28">7</text>
<path d="M523 402 v-3" stroke="#333" stroke-width="0.8"/>
<text x="523" y="414.6" font-family='"Liberation Serif", serif' font-size="11.8" fill="#111" text-anchor="middle" font-weight="normal"  stroke="#111" stroke-width="0.28">7</text>
<text x="418.5" y="431" font-family='"Liberation Serif", serif' font-size="13.7" fill="#111" text-anchor="middle" stroke="#111" stroke-width="0.28">Z<tspan font-size="9.2" dy="2.5">real</tspan><tspan dy="-2.5"> (kΩ)</tspan></text>
<text transform="translate(291.2 320) rotate(-90)" font-family='"Liberation Serif", serif' font-size="13.4" fill="#111" text-anchor="middle" stroke="#111" stroke-width="0.28">Z<tspan font-size="9" dy="2.5">imag</tspan><tspan dy="-2.5"> (kΩ)</tspan></text>
<text x="480.5" y="290.2" font-family='"Liberation Serif", serif' font-size="13.2" fill="#f58560" text-anchor="start" font-weight="normal"  stroke="#f58560" stroke-width="0.28">SP</text>
<text x="417.6" y="349.3" font-family='"Liberation Serif", serif' font-size="11.8" fill="#97a7df" text-anchor="start" font-weight="normal"  stroke="#97a7df" stroke-width="0.28">SP+Hydrogel</text>
<text x="374.8" y="372.5" font-family='"Liberation Serif", serif' font-size="11.5" fill="#55bf98" text-anchor="start" font-weight="normal"  stroke="#55bf98" stroke-width="0.28">SP+BHB</text>
<text x="533.5" y="257.3" font-family='"Liberation Serif", serif' font-size="27" fill="#000" text-anchor="start" font-weight="normal"  stroke="#000" stroke-width="0.28">E</text>
<clipPath id="clipE"><rect x="568.6" y="245.8" width="218.7" height="157"/></clipPath>
<g clip-path="url(#clipE)">
<rect x="569.87" y="361.14" width="4.2" height="4.2" fill="#faae97"/>
<rect x="571.96" y="358.35" width="4.2" height="4.2" fill="#faae97"/>
<rect x="574.05" y="355.56" width="4.2" height="4.2" fill="#faae97"/>
<rect x="576.15" y="352.4" width="4.2" height="4.2" fill="#faae97"/>
<rect x="578.24" y="349.18" width="4.2" height="4.2" fill="#faae97"/>
<rect x="580.33" y="345.34" width="4.2" height="4.2" fill="#faae97"/>
<rect x="582.43" y="341.1" width="4.2" height="4.2" fill="#faae97"/>
<rect x="584.52" y="335.87" width="4.2" height="4.2" fill="#faae97"/>
<rect x="586.62" y="330.86" width="4.2" height="4.2" fill="#faae97"/>
<rect x="588.71" y="326.03" width="4.2" height="4.2" fill="#faae97"/>
<rect x="590.8" y="321.43" width="4.2" height="4.2" fill="#faae97"/>
<rect x="592.9" y="316.92" width="4.2" height="4.2" fill="#faae97"/>
<rect x="594.99" y="312.13" width="4.2" height="4.2" fill="#faae97"/>
<rect x="597.09" y="307.3" width="4.2" height="4.2" fill="#faae97"/>
<rect x="599.18" y="302.63" width="4.2" height="4.2" fill="#faae97"/>
<rect x="601.27" y="298.05" width="4.2" height="4.2" fill="#faae97"/>
<rect x="603.37" y="294.02" width="4.2" height="4.2" fill="#faae97"/>
<rect x="605.46" y="290.09" width="4.2" height="4.2" fill="#faae97"/>
<rect x="607.56" y="286.38" width="4.2" height="4.2" fill="#faae97"/>
<rect x="609.65" y="283.02" width="4.2" height="4.2" fill="#faae97"/>
<rect x="611.74" y="280.12" width="4.2" height="4.2" fill="#faae97"/>
<rect x="613.84" y="277.5" width="4.2" height="4.2" fill="#faae97"/>
<rect x="615.93" y="275.08" width="4.2" height="4.2" fill="#faae97"/>
<rect x="618.03" y="273.24" width="4.2" height="4.2" fill="#faae97"/>
<rect x="620.12" y="271.63" width="4.2" height="4.2" fill="#faae97"/>
<rect x="622.21" y="270.57" width="4.2" height="4.2" fill="#faae97"/>
<rect x="624.31" y="269.61" width="4.2" height="4.2" fill="#faae97"/>
<rect x="626.4" y="269.12" width="4.2" height="4.2" fill="#faae97"/>
<rect x="628.5" y="268.71" width="4.2" height="4.2" fill="#faae97"/>
<rect x="630.59" y="268.71" width="4.2" height="4.2" fill="#faae97"/>
<rect x="632.68" y="268.85" width="4.2" height="4.2" fill="#faae97"/>
<rect x="634.78" y="269.33" width="4.2" height="4.2" fill="#faae97"/>
<rect x="636.87" y="270.38" width="4.2" height="4.2" fill="#faae97"/>
<rect x="638.96" y="272.17" width="4.2" height="4.2" fill="#faae97"/>
<rect x="641.06" y="273.8" width="4.2" height="4.2" fill="#faae97"/>
<rect x="643.15" y="275.19" width="4.2" height="4.2" fill="#faae97"/>
<rect x="645.25" y="276.47" width="4.2" height="4.2" fill="#faae97"/>
<rect x="647.34" y="277.45" width="4.2" height="4.2" fill="#faae97"/>
<rect x="649.43" y="278.42" width="4.2" height="4.2" fill="#faae97"/>
<rect x="651.53" y="279.4" width="4.2" height="4.2" fill="#faae97"/>
<rect x="653.62" y="280.38" width="4.2" height="4.2" fill="#faae97"/>
<rect x="655.72" y="281.21" width="4.2" height="4.2" fill="#faae97"/>
<rect x="657.81" y="282.05" width="4.2" height="4.2" fill="#faae97"/>
<rect x="659.9" y="283.01" width="4.2" height="4.2" fill="#faae97"/>
<rect x="662" y="283.99" width="4.2" height="4.2" fill="#faae97"/>
<rect x="664.09" y="285.46" width="4.2" height="4.2" fill="#faae97"/>
<rect x="666.19" y="287.14" width="4.2" height="4.2" fill="#faae97"/>
<rect x="668.28" y="289.29" width="4.2" height="4.2" fill="#faae97"/>
<rect x="670.37" y="291.8" width="4.2" height="4.2" fill="#faae97"/>
<rect x="672.47" y="294.74" width="4.2" height="4.2" fill="#faae97"/>
<rect x="674.56" y="298.23" width="4.2" height="4.2" fill="#faae97"/>
<rect x="676.66" y="301.91" width="4.2" height="4.2" fill="#faae97"/>
<rect x="678.75" y="306.1" width="4.2" height="4.2" fill="#faae97"/>
<rect x="680.84" y="310.39" width="4.2" height="4.2" fill="#faae97"/>
<rect x="682.94" y="315.28" width="4.2" height="4.2" fill="#faae97"/>
<rect x="685.03" y="320.16" width="4.2" height="4.2" fill="#faae97"/>
<rect x="687.13" y="325.05" width="4.2" height="4.2" fill="#faae97"/>
<rect x="689.22" y="329.93" width="4.2" height="4.2" fill="#faae97"/>
<rect x="691.31" y="334.82" width="4.2" height="4.2" fill="#faae97"/>
<rect x="693.41" y="339.7" width="4.2" height="4.2" fill="#faae97"/>
<rect x="695.5" y="344.39" width="4.2" height="4.2" fill="#faae97"/>
<rect x="697.59" y="349" width="4.2" height="4.2" fill="#faae97"/>
<rect x="699.69" y="353.37" width="4.2" height="4.2" fill="#faae97"/>
<rect x="701.78" y="357.55" width="4.2" height="4.2" fill="#faae97"/>
<rect x="703.88" y="361.56" width="4.2" height="4.2" fill="#faae97"/>
<rect x="705.97" y="365.33" width="4.2" height="4.2" fill="#faae97"/>
<rect x="708.06" y="368.94" width="4.2" height="4.2" fill="#faae97"/>
<rect x="710.16" y="372.15" width="4.2" height="4.2" fill="#faae97"/>
<rect x="712.25" y="375.28" width="4.2" height="4.2" fill="#faae97"/>
<rect x="714.35" y="377.93" width="4.2" height="4.2" fill="#faae97"/>
<rect x="716.44" y="380.59" width="4.2" height="4.2" fill="#faae97"/>
<rect x="718.53" y="382.68" width="4.2" height="4.2" fill="#faae97"/>
<rect x="720.63" y="384.77" width="4.2" height="4.2" fill="#faae97"/>
<rect x="722.72" y="386.51" width="4.2" height="4.2" fill="#faae97"/>
<rect x="724.82" y="388.18" width="4.2" height="4.2" fill="#faae97"/>
<rect x="726.91" y="389.56" width="4.2" height="4.2" fill="#faae97"/>
<rect x="729" y="390.82" width="4.2" height="4.2" fill="#faae97"/>
<rect x="731.1" y="391.91" width="4.2" height="4.2" fill="#faae97"/>
<rect x="733.19" y="392.89" width="4.2" height="4.2" fill="#faae97"/>
<rect x="735.29" y="393.75" width="4.2" height="4.2" fill="#faae97"/>
<rect x="737.38" y="394.45" width="4.2" height="4.2" fill="#faae97"/>
<rect x="739.47" y="395.06" width="4.2" height="4.2" fill="#faae97"/>
<rect x="741.57" y="395.48" width="4.2" height="4.2" fill="#faae97"/>
<rect x="743.66" y="395.88" width="4.2" height="4.2" fill="#faae97"/>
<rect x="745.76" y="396.16" width="4.2" height="4.2" fill="#faae97"/>
<rect x="747.85" y="396.44" width="4.2" height="4.2" fill="#faae97"/>
<rect x="749.94" y="396.58" width="4.2" height="4.2" fill="#faae97"/>
<rect x="752.04" y="396.72" width="4.2" height="4.2" fill="#faae97"/>
<rect x="754.13" y="396.74" width="4.2" height="4.2" fill="#faae97"/>
<rect x="756.22" y="396.74" width="4.2" height="4.2" fill="#faae97"/>
<rect x="758.32" y="396.64" width="4.2" height="4.2" fill="#faae97"/>
<rect x="760.41" y="396.5" width="4.2" height="4.2" fill="#faae97"/>
<rect x="762.51" y="396.28" width="4.2" height="4.2" fill="#faae97"/>
<rect x="764.6" y="396" width="4.2" height="4.2" fill="#faae97"/>
<rect x="766.69" y="395.72" width="4.2" height="4.2" fill="#faae97"/>
<rect x="768.79" y="395.44" width="4.2" height="4.2" fill="#faae97"/>
<rect x="770.88" y="395.12" width="4.2" height="4.2" fill="#faae97"/>
<rect x="772.98" y="394.71" width="4.2" height="4.2" fill="#faae97"/>
<rect x="775.07" y="394.27" width="4.2" height="4.2" fill="#faae97"/>
<rect x="777.16" y="393.71" width="4.2" height="4.2" fill="#faae97"/>
<rect x="779.26" y="393.15" width="4.2" height="4.2" fill="#faae97"/>
<rect x="781.35" y="392.45" width="4.2" height="4.2" fill="#faae97"/>
<rect x="783.45" y="391.75" width="4.2" height="4.2" fill="#faae97"/>
<circle cx="571.97" cy="388.07" r="2.3" fill="#b5c0ea"/>
<circle cx="574.06" cy="386.78" r="2.3" fill="#b5c0ea"/>
<circle cx="576.15" cy="385.33" r="2.3" fill="#b5c0ea"/>
<circle cx="578.25" cy="382.92" r="2.3" fill="#b5c0ea"/>
<circle cx="580.34" cy="380.27" r="2.3" fill="#b5c0ea"/>
<circle cx="582.43" cy="377.05" r="2.3" fill="#b5c0ea"/>
<circle cx="584.53" cy="373.55" r="2.3" fill="#b5c0ea"/>
<circle cx="586.62" cy="369.69" r="2.3" fill="#b5c0ea"/>
<circle cx="588.72" cy="365.45" r="2.3" fill="#b5c0ea"/>
<circle cx="590.81" cy="360.94" r="2.3" fill="#b5c0ea"/>
<circle cx="592.9" cy="356.2" r="2.3" fill="#b5c0ea"/>
<circle cx="595" cy="351.37" r="2.3" fill="#b5c0ea"/>
<circle cx="597.09" cy="345.85" r="2.3" fill="#b5c0ea"/>
<circle cx="599.19" cy="340.21" r="2.3" fill="#b5c0ea"/>
<circle cx="601.28" cy="334.57" r="2.3" fill="#b5c0ea"/>
<circle cx="603.37" cy="328.93" r="2.3" fill="#b5c0ea"/>
<circle cx="605.47" cy="323.3" r="2.3" fill="#b5c0ea"/>
<circle cx="607.56" cy="317.75" r="2.3" fill="#b5c0ea"/>
<circle cx="609.66" cy="312.44" r="2.3" fill="#b5c0ea"/>
<circle cx="611.75" cy="307.53" r="2.3" fill="#b5c0ea"/>
<circle cx="613.84" cy="303.19" r="2.3" fill="#b5c0ea"/>
<circle cx="615.94" cy="299.02" r="2.3" fill="#b5c0ea"/>
<circle cx="618.03" cy="294.99" r="2.3" fill="#b5c0ea"/>
<circle cx="620.13" cy="291.31" r="2.3" fill="#b5c0ea"/>
<circle cx="622.22" cy="287.77" r="2.3" fill="#b5c0ea"/>
<circle cx="624.31" cy="284.78" r="2.3" fill="#b5c0ea"/>
<circle cx="626.41" cy="281.88" r="2.3" fill="#b5c0ea"/>
<circle cx="628.5" cy="279.46" r="2.3" fill="#b5c0ea"/>
<circle cx="630.6" cy="277.16" r="2.3" fill="#b5c0ea"/>
<circle cx="632.69" cy="275.55" r="2.3" fill="#b5c0ea"/>
<circle cx="634.78" cy="274.31" r="2.3" fill="#b5c0ea"/>
<circle cx="636.88" cy="273.99" r="2.3" fill="#b5c0ea"/>
<circle cx="638.97" cy="274.31" r="2.3" fill="#b5c0ea"/>
<circle cx="641.06" cy="275.51" r="2.3" fill="#b5c0ea"/>
<circle cx="643.16" cy="276.73" r="2.3" fill="#b5c0ea"/>
<circle cx="645.25" cy="277.99" r="2.3" fill="#b5c0ea"/>
<circle cx="647.35" cy="279.21" r="2.3" fill="#b5c0ea"/>
<circle cx="649.44" cy="280.32" r="2.3" fill="#b5c0ea"/>
<circle cx="651.53" cy="281.42" r="2.3" fill="#b5c0ea"/>
<circle cx="653.63" cy="282.4" r="2.3" fill="#b5c0ea"/>
<circle cx="655.72" cy="283.37" r="2.3" fill="#b5c0ea"/>
<circle cx="657.82" cy="284.35" r="2.3" fill="#b5c0ea"/>
<circle cx="659.91" cy="285.33" r="2.3" fill="#b5c0ea"/>
<circle cx="662" cy="286.43" r="2.3" fill="#b5c0ea"/>
<circle cx="664.1" cy="287.54" r="2.3" fill="#b5c0ea"/>
<circle cx="666.19" cy="289.06" r="2.3" fill="#b5c0ea"/>
<circle cx="668.29" cy="290.73" r="2.3" fill="#b5c0ea"/>
<circle cx="670.38" cy="292.89" r="2.3" fill="#b5c0ea"/>
<circle cx="672.47" cy="295.4" r="2.3" fill="#b5c0ea"/>
<circle cx="674.57" cy="298.39" r="2.3" fill="#b5c0ea"/>
<circle cx="676.66" cy="302.02" r="2.3" fill="#b5c0ea"/>
<circle cx="678.76" cy="305.85" r="2.3" fill="#b5c0ea"/>
<circle cx="680.85" cy="310.18" r="2.3" fill="#b5c0ea"/>
<circle cx="682.94" cy="314.58" r="2.3" fill="#b5c0ea"/>
<circle cx="685.04" cy="319.47" r="2.3" fill="#b5c0ea"/>
<circle cx="687.13" cy="324.36" r="2.3" fill="#b5c0ea"/>
<circle cx="689.23" cy="329.24" r="2.3" fill="#b5c0ea"/>
<circle cx="691.32" cy="334.13" r="2.3" fill="#b5c0ea"/>
<circle cx="693.41" cy="338.89" r="2.3" fill="#b5c0ea"/>
<circle cx="695.51" cy="343.64" r="2.3" fill="#b5c0ea"/>
<circle cx="697.6" cy="348.29" r="2.3" fill="#b5c0ea"/>
<circle cx="699.69" cy="352.89" r="2.3" fill="#b5c0ea"/>
<circle cx="701.79" cy="357.18" r="2.3" fill="#b5c0ea"/>
<circle cx="703.88" cy="361.23" r="2.3" fill="#b5c0ea"/>
<circle cx="705.98" cy="365.1" r="2.3" fill="#b5c0ea"/>
<circle cx="708.07" cy="368.73" r="2.3" fill="#b5c0ea"/>
<circle cx="710.16" cy="372.2" r="2.3" fill="#b5c0ea"/>
<circle cx="712.26" cy="375.27" r="2.3" fill="#b5c0ea"/>
<circle cx="714.35" cy="378.26" r="2.3" fill="#b5c0ea"/>
<circle cx="716.45" cy="380.77" r="2.3" fill="#b5c0ea"/>
<circle cx="718.54" cy="383.28" r="2.3" fill="#b5c0ea"/>
<circle cx="720.63" cy="385.38" r="2.3" fill="#b5c0ea"/>
<circle cx="722.73" cy="387.47" r="2.3" fill="#b5c0ea"/>
<circle cx="724.82" cy="389.09" r="2.3" fill="#b5c0ea"/>
<circle cx="726.92" cy="390.62" r="2.3" fill="#b5c0ea"/>
<circle cx="729.01" cy="391.96" r="2.3" fill="#b5c0ea"/>
<circle cx="731.1" cy="393.22" r="2.3" fill="#b5c0ea"/>
<circle cx="733.2" cy="394.31" r="2.3" fill="#b5c0ea"/>
<circle cx="735.29" cy="395.29" r="2.3" fill="#b5c0ea"/>
<circle cx="737.39" cy="396.15" r="2.3" fill="#b5c0ea"/>
<circle cx="739.48" cy="396.85" r="2.3" fill="#b5c0ea"/>
<circle cx="741.57" cy="397.46" r="2.3" fill="#b5c0ea"/>
<circle cx="743.67" cy="397.88" r="2.3" fill="#b5c0ea"/>
<circle cx="745.76" cy="398.28" r="2.3" fill="#b5c0ea"/>
<circle cx="747.86" cy="398.56" r="2.3" fill="#b5c0ea"/>
<circle cx="749.95" cy="398.84" r="2.3" fill="#b5c0ea"/>
<circle cx="752.04" cy="398.98" r="2.3" fill="#b5c0ea"/>
<circle cx="754.14" cy="399.12" r="2.3" fill="#b5c0ea"/>
<circle cx="756.23" cy="399.14" r="2.3" fill="#b5c0ea"/>
<circle cx="758.32" cy="399.14" r="2.3" fill="#b5c0ea"/>
<circle cx="760.42" cy="399.04" r="2.3" fill="#b5c0ea"/>
<circle cx="762.51" cy="398.9" r="2.3" fill="#b5c0ea"/>
<circle cx="764.61" cy="398.68" r="2.3" fill="#b5c0ea"/>
<circle cx="766.7" cy="398.4" r="2.3" fill="#b5c0ea"/>
<circle cx="768.79" cy="398.12" r="2.3" fill="#b5c0ea"/>
<circle cx="770.89" cy="397.84" r="2.3" fill="#b5c0ea"/>
<circle cx="772.98" cy="397.52" r="2.3" fill="#b5c0ea"/>
<circle cx="775.08" cy="397.1" r="2.3" fill="#b5c0ea"/>
<circle cx="777.17" cy="396.67" r="2.3" fill="#b5c0ea"/>
<circle cx="779.26" cy="396.11" r="2.3" fill="#b5c0ea"/>
<circle cx="781.36" cy="395.55" r="2.3" fill="#b5c0ea"/>
<circle cx="783.45" cy="394.85" r="2.3" fill="#b5c0ea"/>
<circle cx="785.55" cy="394.15" r="2.3" fill="#b5c0ea"/>
<path d="M571.97 390.87 l2.15 -3.7 h-4.3 Z" fill="#7ccdae"/>
<path d="M574.06 390.06 l2.15 -3.7 h-4.3 Z" fill="#7ccdae"/>
<path d="M576.15 389.14 l2.15 -3.7 h-4.3 Z" fill="#7ccdae"/>
<path d="M578.25 387.53 l2.15 -3.7 h-4.3 Z" fill="#7ccdae"/>
<path d="M580.34 385.65 l2.15 -3.7 h-4.3 Z" fill="#7ccdae"/>
<path d="M582.43 383.07 l2.15 -3.7 h-4.3 Z" fill="#7ccdae"/>
<path d="M584.53 380.15 l2.15 -3.7 h-4.3 Z" fill="#7ccdae"/>
<path d="M586.62 376.76 l2.15 -3.7 h-4.3 Z" fill="#7ccdae"/>
<path d="M588.72 373.01 l2.15 -3.7 h-4.3 Z" fill="#7ccdae"/>
<path d="M590.81 368.99 l2.15 -3.7 h-4.3 Z" fill="#7ccdae"/>
<path d="M592.9 364.61 l2.15 -3.7 h-4.3 Z" fill="#7ccdae"/>
<path d="M595 360.1 l2.15 -3.7 h-4.3 Z" fill="#7ccdae"/>
<path d="M597.09 355.32 l2.15 -3.7 h-4.3 Z" fill="#7ccdae"/>
<path d="M599.19 350.49 l2.15 -3.7 h-4.3 Z" fill="#7ccdae"/>
<path d="M601.28 345.33 l2.15 -3.7 h-4.3 Z" fill="#7ccdae"/>
<path d="M603.37 340.18 l2.15 -3.7 h-4.3 Z" fill="#7ccdae"/>
<path d="M605.47 335.02 l2.15 -3.7 h-4.3 Z" fill="#7ccdae"/>
<path d="M607.56 329.96 l2.15 -3.7 h-4.3 Z" fill="#7ccdae"/>
<path d="M609.66 325.13 l2.15 -3.7 h-4.3 Z" fill="#7ccdae"/>
<path d="M611.75 320.43 l2.15 -3.7 h-4.3 Z" fill="#7ccdae"/>
<path d="M613.84 315.92 l2.15 -3.7 h-4.3 Z" fill="#7ccdae"/>
<path d="M615.94 311.41 l2.15 -3.7 h-4.3 Z" fill="#7ccdae"/>
<path d="M618.03 306.9 l2.15 -3.7 h-4.3 Z" fill="#7ccdae"/>
<path d="M620.13 302.74 l2.15 -3.7 h-4.3 Z" fill="#7ccdae"/>
<path d="M622.22 298.71 l2.15 -3.7 h-4.3 Z" fill="#7ccdae"/>
<path d="M624.31 295.1 l2.15 -3.7 h-4.3 Z" fill="#7ccdae"/>
<path d="M626.41 291.56 l2.15 -3.7 h-4.3 Z" fill="#7ccdae"/>
<path d="M628.5 288.82 l2.15 -3.7 h-4.3 Z" fill="#7ccdae"/>
<path d="M630.6 286.22 l2.15 -3.7 h-4.3 Z" fill="#7ccdae"/>
<path d="M632.69 284.45 l2.15 -3.7 h-4.3 Z" fill="#7ccdae"/>
<path d="M634.78 283 l2.15 -3.7 h-4.3 Z" fill="#7ccdae"/>
<path d="M636.88 282.35 l2.15 -3.7 h-4.3 Z" fill="#7ccdae"/>
<path d="M638.97 282.24 l2.15 -3.7 h-4.3 Z" fill="#7ccdae"/>
<path d="M641.06 282.84 l2.15 -3.7 h-4.3 Z" fill="#7ccdae"/>
<path d="M643.16 283.66 l2.15 -3.7 h-4.3 Z" fill="#7ccdae"/>
<path d="M645.25 284.78 l2.15 -3.7 h-4.3 Z" fill="#7ccdae"/>
<path d="M647.35 285.85 l2.15 -3.7 h-4.3 Z" fill="#7ccdae"/>
<path d="M649.44 286.83 l2.15 -3.7 h-4.3 Z" fill="#7ccdae"/>
<path d="M651.53 287.83 l2.15 -3.7 h-4.3 Z" fill="#7ccdae"/>
<path d="M653.63 288.94 l2.15 -3.7 h-4.3 Z" fill="#7ccdae"/>
<path d="M655.72 290.06 l2.15 -3.7 h-4.3 Z" fill="#7ccdae"/>
<path d="M657.82 291.18 l2.15 -3.7 h-4.3 Z" fill="#7ccdae"/>
<path d="M659.91 292.29 l2.15 -3.7 h-4.3 Z" fill="#7ccdae"/>
<path d="M662 293.53 l2.15 -3.7 h-4.3 Z" fill="#7ccdae"/>
<path d="M664.1 294.79 l2.15 -3.7 h-4.3 Z" fill="#7ccdae"/>
<path d="M666.19 296.44 l2.15 -3.7 h-4.3 Z" fill="#7ccdae"/>
<path d="M668.29 298.26 l2.15 -3.7 h-4.3 Z" fill="#7ccdae"/>
<path d="M670.38 300.47 l2.15 -3.7 h-4.3 Z" fill="#7ccdae"/>
<path d="M672.47 302.98 l2.15 -3.7 h-4.3 Z" fill="#7ccdae"/>
<path d="M674.57 305.98 l2.15 -3.7 h-4.3 Z" fill="#7ccdae"/>
<path d="M676.66 309.6 l2.15 -3.7 h-4.3 Z" fill="#7ccdae"/>
<path d="M678.76 313.43 l2.15 -3.7 h-4.3 Z" fill="#7ccdae"/>
<path d="M680.85 317.76 l2.15 -3.7 h-4.3 Z" fill="#7ccdae"/>
<path d="M682.94 322.13 l2.15 -3.7 h-4.3 Z" fill="#7ccdae"/>
<path d="M685.04 326.73 l2.15 -3.7 h-4.3 Z" fill="#7ccdae"/>
<path d="M687.13 331.34 l2.15 -3.7 h-4.3 Z" fill="#7ccdae"/>
<path d="M689.23 336.09 l2.15 -3.7 h-4.3 Z" fill="#7ccdae"/>
<path d="M691.32 340.83 l2.15 -3.7 h-4.3 Z" fill="#7ccdae"/>
<path d="M693.41 345.46 l2.15 -3.7 h-4.3 Z" fill="#7ccdae"/>
<path d="M695.51 350.07 l2.15 -3.7 h-4.3 Z" fill="#7ccdae"/>
<path d="M697.6 354.47 l2.15 -3.7 h-4.3 Z" fill="#7ccdae"/>
<path d="M699.69 358.8 l2.15 -3.7 h-4.3 Z" fill="#7ccdae"/>
<path d="M701.79 362.89 l2.15 -3.7 h-4.3 Z" fill="#7ccdae"/>
<path d="M703.88 366.8 l2.15 -3.7 h-4.3 Z" fill="#7ccdae"/>
<path d="M705.98 370.53 l2.15 -3.7 h-4.3 Z" fill="#7ccdae"/>
<path d="M708.07 374.02 l2.15 -3.7 h-4.3 Z" fill="#7ccdae"/>
<path d="M710.16 377.35 l2.15 -3.7 h-4.3 Z" fill="#7ccdae"/>
<path d="M712.26 380.28 l2.15 -3.7 h-4.3 Z" fill="#7ccdae"/>
<path d="M714.35 383.13 l2.15 -3.7 h-4.3 Z" fill="#7ccdae"/>
<path d="M716.45 385.5 l2.15 -3.7 h-4.3 Z" fill="#7ccdae"/>
<path d="M718.54 387.88 l2.15 -3.7 h-4.3 Z" fill="#7ccdae"/>
<path d="M720.63 389.69 l2.15 -3.7 h-4.3 Z" fill="#7ccdae"/>
<path d="M722.73 391.51 l2.15 -3.7 h-4.3 Z" fill="#7ccdae"/>
<path d="M724.82 392.96 l2.15 -3.7 h-4.3 Z" fill="#7ccdae"/>
<path d="M726.92 394.36 l2.15 -3.7 h-4.3 Z" fill="#7ccdae"/>
<path d="M729.01 395.56 l2.15 -3.7 h-4.3 Z" fill="#7ccdae"/>
<path d="M731.1 396.67 l2.15 -3.7 h-4.3 Z" fill="#7ccdae"/>
<path d="M733.2 397.63 l2.15 -3.7 h-4.3 Z" fill="#7ccdae"/>
<path d="M735.29 398.47 l2.15 -3.7 h-4.3 Z" fill="#7ccdae"/>
<path d="M737.39 399.18 l2.15 -3.7 h-4.3 Z" fill="#7ccdae"/>
<path d="M739.48 399.74 l2.15 -3.7 h-4.3 Z" fill="#7ccdae"/>
<path d="M741.57 400.26 l2.15 -3.7 h-4.3 Z" fill="#7ccdae"/>
<path d="M743.67 400.68 l2.15 -3.7 h-4.3 Z" fill="#7ccdae"/>
<path d="M745.76 401.06 l2.15 -3.7 h-4.3 Z" fill="#7ccdae"/>
<path d="M747.86 401.2 l2.15 -3.7 h-4.3 Z" fill="#7ccdae"/>
<path d="M749.95 401.34 l2.15 -3.7 h-4.3 Z" fill="#7ccdae"/>
<path d="M752.04 401.48 l2.15 -3.7 h-4.3 Z" fill="#7ccdae"/>
<path d="M754.14 401.62 l2.15 -3.7 h-4.3 Z" fill="#7ccdae"/>
<path d="M756.23 401.64 l2.15 -3.7 h-4.3 Z" fill="#7ccdae"/>
<path d="M758.32 401.64 l2.15 -3.7 h-4.3 Z" fill="#7ccdae"/>
<path d="M760.42 401.54 l2.15 -3.7 h-4.3 Z" fill="#7ccdae"/>
<path d="M762.51 401.4 l2.15 -3.7 h-4.3 Z" fill="#7ccdae"/>
<path d="M764.61 401.18 l2.15 -3.7 h-4.3 Z" fill="#7ccdae"/>
<path d="M766.7 400.9 l2.15 -3.7 h-4.3 Z" fill="#7ccdae"/>
<path d="M768.79 400.62 l2.15 -3.7 h-4.3 Z" fill="#7ccdae"/>
<path d="M770.89 400.34 l2.15 -3.7 h-4.3 Z" fill="#7ccdae"/>
<path d="M772.98 400.02 l2.15 -3.7 h-4.3 Z" fill="#7ccdae"/>
<path d="M775.08 399.6 l2.15 -3.7 h-4.3 Z" fill="#7ccdae"/>
<path d="M777.17 399.16 l2.15 -3.7 h-4.3 Z" fill="#7ccdae"/>
<path d="M779.26 398.61 l2.15 -3.7 h-4.3 Z" fill="#7ccdae"/>
<path d="M781.36 398.05 l2.15 -3.7 h-4.3 Z" fill="#7ccdae"/>
<path d="M783.45 397.35 l2.15 -3.7 h-4.3 Z" fill="#7ccdae"/>
<path d="M785.55 396.65 l2.15 -3.7 h-4.3 Z" fill="#7ccdae"/>
</g>
<rect x="570.6" y="245.8" width="215.7" height="157" fill="none" stroke="#333" stroke-width="0.8"/>
<path d="M570.6 402.8 h3" stroke="#333" stroke-width="0.8"/>
<text x="566.6" y="407" font-family='"Liberation Serif", serif' font-size="12.6" fill="#111" text-anchor="end" font-weight="normal"  stroke="#111" stroke-width="0.28">0</text>
<path d="M570.6 363.54 h3" stroke="#333" stroke-width="0.8"/>
<text x="566.6" y="367.74" font-family='"Liberation Serif", serif' font-size="12.6" fill="#111" text-anchor="end" font-weight="normal"  stroke="#111" stroke-width="0.28">20</text>
<path d="M570.6 324.28 h3" stroke="#333" stroke-width="0.8"/>
<text x="566.6" y="328.48" font-family='"Liberation Serif", serif' font-size="12.6" fill="#111" text-anchor="end" font-weight="normal"  stroke="#111" stroke-width="0.28">40</text>
<path d="M570.6 285.02 h3" stroke="#333" stroke-width="0.8"/>
<text x="566.6" y="289.22" font-family='"Liberation Serif", serif' font-size="12.6" fill="#111" text-anchor="end" font-weight="normal"  stroke="#111" stroke-width="0.28">60</text>
<path d="M570.6 402.8 v-3" stroke="#333" stroke-width="0.8"/>
<text x="571.2" y="418.2" font-family='"Liberation Serif", serif' font-size="12.4" fill="#111" text-anchor="middle" stroke="#111" stroke-width="0.28">10<tspan font-size="7.3" dy="-4.4">-2</tspan></text>
<path d="M601.41 402.8 v-3" stroke="#333" stroke-width="0.8"/>
<text x="602.01" y="418.2" font-family='"Liberation Serif", serif' font-size="12.4" fill="#111" text-anchor="middle" stroke="#111" stroke-width="0.28">10<tspan font-size="7.3" dy="-4.4">-1</tspan></text>
<path d="M632.23 402.8 v-3" stroke="#333" stroke-width="0.8"/>
<text x="632.83" y="418.2" font-family='"Liberation Serif", serif' font-size="12.4" fill="#111" text-anchor="middle" stroke="#111" stroke-width="0.28">10<tspan font-size="7.3" dy="-4.4">0</tspan></text>
<path d="M663.04 402.8 v-3" stroke="#333" stroke-width="0.8"/>
<text x="663.64" y="418.2" font-family='"Liberation Serif", serif' font-size="12.4" fill="#111" text-anchor="middle" stroke="#111" stroke-width="0.28">10<tspan font-size="7.3" dy="-4.4">1</tspan></text>
<path d="M693.86 402.8 v-3" stroke="#333" stroke-width="0.8"/>
<text x="694.46" y="418.2" font-family='"Liberation Serif", serif' font-size="12.4" fill="#111" text-anchor="middle" stroke="#111" stroke-width="0.28">10<tspan font-size="7.3" dy="-4.4">2</tspan></text>
<path d="M724.67 402.8 v-3" stroke="#333" stroke-width="0.8"/>
<text x="725.27" y="418.2" font-family='"Liberation Serif", serif' font-size="12.4" fill="#111" text-anchor="middle" stroke="#111" stroke-width="0.28">10<tspan font-size="7.3" dy="-4.4">3</tspan></text>
<path d="M755.49 402.8 v-3" stroke="#333" stroke-width="0.8"/>
<text x="756.09" y="418.2" font-family='"Liberation Serif", serif' font-size="12.4" fill="#111" text-anchor="middle" stroke="#111" stroke-width="0.28">10<tspan font-size="7.3" dy="-4.4">4</tspan></text>
<path d="M786.3 402.8 v-3" stroke="#333" stroke-width="0.8"/>
<text x="786.9" y="418.2" font-family='"Liberation Serif", serif' font-size="12.4" fill="#111" text-anchor="middle" stroke="#111" stroke-width="0.28">10<tspan font-size="7.3" dy="-4.4">5</tspan></text>
<text x="686" y="433.3" font-family='"Liberation Serif", serif' font-size="13.3" fill="#111" text-anchor="middle" font-weight="normal"  stroke="#111" stroke-width="0.28">Frequency (Hz)</text>
<text x="543.2" y="324.5" font-family='"Liberation Serif", serif' font-size="13.5" fill="#111" text-anchor="middle" font-weight="normal" transform="rotate(-90 543.2 324.5)"  stroke="#111" stroke-width="0.28">-Phase (degree)</text>
<text x="611.3" y="267.3" font-family='"Liberation Serif", serif' font-size="13.4" fill="#f58560" text-anchor="start" font-weight="normal"  stroke="#f58560" stroke-width="0.28">SP</text>
<text x="681" y="299.8" font-family='"Liberation Serif", serif' font-size="12.2" fill="#8a9cda" text-anchor="start" font-weight="normal"  stroke="#8a9cda" stroke-width="0.28">SP+Hydrogel</text>
<text x="583.6" y="394.2" font-family='"Liberation Serif", serif' font-size="12.2" fill="#55bf98" text-anchor="start" font-weight="normal"  stroke="#55bf98" stroke-width="0.28">SP+BHB</text>
<text x="2.5" y="465" font-family='"Liberation Serif", serif' font-size="27" fill="#000" text-anchor="start" font-weight="normal"  stroke="#000" stroke-width="0.28">F</text>
<text x="277.5" y="470" font-family='"Liberation Serif", serif' font-size="15.4" fill="#111" text-anchor="middle" font-weight="normal"  stroke="#111" stroke-width="0.28">SP</text>
<text x="484.5" y="469.8" font-family='"Liberation Serif", serif' font-size="15.4" fill="#111" text-anchor="middle" font-weight="normal"  stroke="#111" stroke-width="0.28">SP + Hydrogel</text>
<text x="685.5" y="469.8" font-family='"Liberation Serif", serif' font-size="15.4" fill="#111" text-anchor="middle" font-weight="normal"  stroke="#111" stroke-width="0.28">SP + BHB</text>
<text x="157" y="486" font-family='"Liberation Serif", serif' font-size="15.95" fill="#111" text-anchor="end" font-weight="normal"  stroke="#111" stroke-width="0.28">100 mV/s</text>
<text x="157" y="504.9" font-family='"Liberation Serif", serif' font-size="15.95" fill="#111" text-anchor="end" font-weight="normal"  stroke="#111" stroke-width="0.28">80 mV/s</text>
<text x="157" y="523.5" font-family='"Liberation Serif", serif' font-size="15.95" fill="#111" text-anchor="end" font-weight="normal"  stroke="#111" stroke-width="0.28">60 mV/s</text>
<text x="157" y="542.2" font-family='"Liberation Serif", serif' font-size="15.95" fill="#111" text-anchor="end" font-weight="normal"  stroke="#111" stroke-width="0.28">40 mV/s</text>
<text x="157" y="561" font-family='"Liberation Serif", serif' font-size="15.95" fill="#111" text-anchor="end" font-weight="normal"  stroke="#111" stroke-width="0.28">20 mV/s</text>
<text x="157" y="576.9" font-family='"Liberation Serif", serif' font-size="15.95" fill="#111" text-anchor="end" font-weight="normal"  stroke="#111" stroke-width="0.28">100 mV/s</text>
<text x="157" y="596" font-family='"Liberation Serif", serif' font-size="15.95" fill="#111" text-anchor="end" font-weight="normal"  stroke="#111" stroke-width="0.28">80 mV/s</text>
<text x="157" y="615.2" font-family='"Liberation Serif", serif' font-size="15.95" fill="#111" text-anchor="end" font-weight="normal"  stroke="#111" stroke-width="0.28">60 mV/s</text>
<text x="157" y="633.6" font-family='"Liberation Serif", serif' font-size="15.95" fill="#111" text-anchor="end" font-weight="normal"  stroke="#111" stroke-width="0.28">40 mV/s</text>
<text x="157" y="652.3" font-family='"Liberation Serif", serif' font-size="15.95" fill="#111" text-anchor="end" font-weight="normal"  stroke="#111" stroke-width="0.28">20 mV/s</text>
<linearGradient id="hg1" x1="0" y1="0" x2="1" y2="0"><stop offset="0" stop-color="#fdfdba"/><stop offset="0.03" stop-color="#fdf59f"/><stop offset="0.05" stop-color="#fdec83"/><stop offset="0.07" stop-color="#fdd966"/><stop offset="0.1" stop-color="#fdc44c"/><stop offset="0.12" stop-color="#fcb147"/><stop offset="0.15" stop-color="#faa148"/><stop offset="0.17" stop-color="#f69653"/><stop offset="0.2" stop-color="#f28a5e"/><stop offset="0.23" stop-color="#ec8466"/><stop offset="0.25" stop-color="#e77f6e"/><stop offset="0.28" stop-color="#e17976"/><stop offset="0.3" stop-color="#db757d"/><stop offset="0.33" stop-color="#d47282"/><stop offset="0.35" stop-color="#cd6f88"/><stop offset="0.38" stop-color="#c76b8e"/><stop offset="0.4" stop-color="#c06894"/><stop offset="0.42" stop-color="#b86597"/><stop offset="0.45" stop-color="#b1619b"/><stop offset="0.47" stop-color="#a95e9e"/><stop offset="0.5" stop-color="#a15aa2"/><stop offset="0.53" stop-color="#9a57a5"/><stop offset="0.55" stop-color="#9354a5"/><stop offset="0.57" stop-color="#8d52a5"/><stop offset="0.6" stop-color="#8750a4"/><stop offset="0.62" stop-color="#814da3"/><stop offset="0.65" stop-color="#7a4ba2"/><stop offset="0.68" stop-color="#74499e"/><stop offset="0.7" stop-color="#6c4799"/><stop offset="0.72" stop-color="#654593"/><stop offset="0.75" stop-color="#5e438d"/><stop offset="0.78" stop-color="#574286"/><stop offset="0.8" stop-color="#53417d"/><stop offset="0.82" stop-color="#4e4174"/><stop offset="0.85" stop-color="#4a406c"/><stop offset="0.88" stop-color="#463f62"/><stop offset="0.9" stop-color="#423d58"/><stop offset="0.93" stop-color="#3e3b4f"/><stop offset="0.95" stop-color="#3b3949"/><stop offset="0.97" stop-color="#393843"/><stop offset="1" stop-color="#36363e"/></linearGradient><rect x="160.6" y="473.3" width="207.2" height="17.48" fill="url(#hg1)"/>
<linearGradient id="hg2" x1="0" y1="0" x2="1" y2="0"><stop offset="0" stop-color="#fdfab2"/><stop offset="0.03" stop-color="#fdf399"/><stop offset="0.05" stop-color="#fdea7e"/><stop offset="0.07" stop-color="#fdd764"/><stop offset="0.1" stop-color="#fdc34c"/><stop offset="0.12" stop-color="#fcb147"/><stop offset="0.15" stop-color="#faa148"/><stop offset="0.17" stop-color="#f69653"/><stop offset="0.2" stop-color="#f28a5e"/><stop offset="0.23" stop-color="#ed8566"/><stop offset="0.25" stop-color="#e77f6d"/><stop offset="0.28" stop-color="#e27a75"/><stop offset="0.3" stop-color="#dc767b"/><stop offset="0.33" stop-color="#d67381"/><stop offset="0.35" stop-color="#cf7087"/><stop offset="0.38" stop-color="#c96c8c"/><stop offset="0.4" stop-color="#c36992"/><stop offset="0.42" stop-color="#bc6696"/><stop offset="0.45" stop-color="#b56399"/><stop offset="0.47" stop-color="#ad609c"/><stop offset="0.5" stop-color="#a65ca0"/><stop offset="0.53" stop-color="#9f59a3"/><stop offset="0.55" stop-color="#9856a6"/><stop offset="0.57" stop-color="#9254a5"/><stop offset="0.6" stop-color="#8d52a5"/><stop offset="0.62" stop-color="#8750a4"/><stop offset="0.65" stop-color="#814da3"/><stop offset="0.68" stop-color="#7b4ba2"/><stop offset="0.7" stop-color="#7649a0"/><stop offset="0.72" stop-color="#70489b"/><stop offset="0.75" stop-color="#6a4696"/><stop offset="0.78" stop-color="#644591"/><stop offset="0.8" stop-color="#5e438d"/><stop offset="0.82" stop-color="#584288"/><stop offset="0.85" stop-color="#554282"/><stop offset="0.88" stop-color="#52417b"/><stop offset="0.9" stop-color="#4f4175"/><stop offset="0.93" stop-color="#4c406f"/><stop offset="0.95" stop-color="#49406a"/><stop offset="0.97" stop-color="#463f64"/><stop offset="1" stop-color="#443e5d"/></linearGradient><rect x="160.6" y="489.78" width="207.2" height="17.48" fill="url(#hg2)"/>
<linearGradient id="hg3" x1="0" y1="0" x2="1" y2="0"><stop offset="0" stop-color="#fdf6a2"/><stop offset="0.03" stop-color="#fdef8c"/><stop offset="0.05" stop-color="#fde575"/><stop offset="0.07" stop-color="#fdd35e"/><stop offset="0.1" stop-color="#fdc14b"/><stop offset="0.12" stop-color="#fcb047"/><stop offset="0.15" stop-color="#faa248"/><stop offset="0.17" stop-color="#f69752"/><stop offset="0.2" stop-color="#f38d5b"/><stop offset="0.23" stop-color="#ef8763"/><stop offset="0.25" stop-color="#ea826a"/><stop offset="0.28" stop-color="#e57d71"/><stop offset="0.3" stop-color="#e17977"/><stop offset="0.33" stop-color="#db767c"/><stop offset="0.35" stop-color="#d67381"/><stop offset="0.38" stop-color="#d07086"/><stop offset="0.4" stop-color="#cb6d8b"/><stop offset="0.42" stop-color="#c66b8f"/><stop offset="0.45" stop-color="#c26993"/><stop offset="0.47" stop-color="#bd6795"/><stop offset="0.5" stop-color="#b86498"/><stop offset="0.53" stop-color="#b3629a"/><stop offset="0.55" stop-color="#ad609c"/><stop offset="0.57" stop-color="#a85d9f"/><stop offset="0.6" stop-color="#a35ba1"/><stop offset="0.62" stop-color="#9d58a4"/><stop offset="0.65" stop-color="#9856a6"/><stop offset="0.68" stop-color="#9354a5"/><stop offset="0.7" stop-color="#8d52a5"/><stop offset="0.72" stop-color="#8850a4"/><stop offset="0.75" stop-color="#834ea3"/><stop offset="0.78" stop-color="#7d4ca3"/><stop offset="0.8" stop-color="#784aa2"/><stop offset="0.82" stop-color="#73499e"/><stop offset="0.85" stop-color="#6e489a"/><stop offset="0.88" stop-color="#6a4696"/><stop offset="0.9" stop-color="#654592"/><stop offset="0.93" stop-color="#624490"/><stop offset="0.95" stop-color="#5e448d"/><stop offset="0.97" stop-color="#5b438b"/><stop offset="1" stop-color="#584288"/></linearGradient><rect x="160.6" y="506.26" width="207.2" height="17.48" fill="url(#hg3)"/>
<linearGradient id="hg4" x1="0" y1="0" x2="1" y2="0"><stop offset="0" stop-color="#fdf092"/><stop offset="0.03" stop-color="#fdea7e"/><stop offset="0.05" stop-color="#fddf6e"/><stop offset="0.07" stop-color="#fdcf59"/><stop offset="0.1" stop-color="#fdbf4b"/><stop offset="0.12" stop-color="#fcaf46"/><stop offset="0.15" stop-color="#faa248"/><stop offset="0.17" stop-color="#f69752"/><stop offset="0.2" stop-color="#f38d5b"/><stop offset="0.23" stop-color="#f08861"/><stop offset="0.25" stop-color="#ec8467"/><stop offset="0.28" stop-color="#e8806d"/><stop offset="0.3" stop-color="#e47c73"/><stop offset="0.33" stop-color="#e17977"/><stop offset="0.35" stop-color="#dc767c"/><stop offset="0.38" stop-color="#d67380"/><stop offset="0.4" stop-color="#d17185"/><stop offset="0.42" stop-color="#cc6e89"/><stop offset="0.45" stop-color="#c86c8d"/><stop offset="0.47" stop-color="#c56a90"/><stop offset="0.5" stop-color="#c16893"/><stop offset="0.53" stop-color="#bd6696"/><stop offset="0.55" stop-color="#b86498"/><stop offset="0.57" stop-color="#b3629a"/><stop offset="0.6" stop-color="#af609c"/><stop offset="0.62" stop-color="#aa5e9e"/><stop offset="0.65" stop-color="#a55ca0"/><stop offset="0.68" stop-color="#a05aa2"/><stop offset="0.7" stop-color="#9c58a4"/><stop offset="0.72" stop-color="#9756a6"/><stop offset="0.75" stop-color="#9454a5"/><stop offset="0.78" stop-color="#9053a5"/><stop offset="0.8" stop-color="#8d52a5"/><stop offset="0.82" stop-color="#8950a4"/><stop offset="0.85" stop-color="#864fa4"/><stop offset="0.88" stop-color="#824ea3"/><stop offset="0.9" stop-color="#7e4ca3"/><stop offset="0.93" stop-color="#7b4ba2"/><stop offset="0.95" stop-color="#784aa2"/><stop offset="0.97" stop-color="#75499f"/><stop offset="1" stop-color="#72489d"/></linearGradient><rect x="160.6" y="522.74" width="207.2" height="17.48" fill="url(#hg4)"/>
<linearGradient id="hg5" x1="0" y1="0" x2="1" y2="0"><stop offset="0" stop-color="#fdeb82"/><stop offset="0.03" stop-color="#fde474"/><stop offset="0.05" stop-color="#fdd966"/><stop offset="0.07" stop-color="#fdca54"/><stop offset="0.1" stop-color="#fcbd4a"/><stop offset="0.12" stop-color="#fcae46"/><stop offset="0.15" stop-color="#faa247"/><stop offset="0.17" stop-color="#f79950"/><stop offset="0.2" stop-color="#f49059"/><stop offset="0.23" stop-color="#f28a5e"/><stop offset="0.25" stop-color="#ee8663"/><stop offset="0.28" stop-color="#eb8368"/><stop offset="0.3" stop-color="#e77f6e"/><stop offset="0.33" stop-color="#e47c72"/><stop offset="0.35" stop-color="#e17977"/><stop offset="0.38" stop-color="#dc767c"/><stop offset="0.4" stop-color="#d67380"/><stop offset="0.42" stop-color="#d27184"/><stop offset="0.45" stop-color="#ce6f87"/><stop offset="0.47" stop-color="#ca6d8b"/><stop offset="0.5" stop-color="#c66b8e"/><stop offset="0.53" stop-color="#c36a91"/><stop offset="0.55" stop-color="#c06894"/><stop offset="0.57" stop-color="#bc6696"/><stop offset="0.6" stop-color="#b86498"/><stop offset="0.62" stop-color="#b46399"/><stop offset="0.65" stop-color="#b0619b"/><stop offset="0.68" stop-color="#ac5f9d"/><stop offset="0.7" stop-color="#a85d9f"/><stop offset="0.72" stop-color="#a45ba1"/><stop offset="0.75" stop-color="#a05aa2"/><stop offset="0.78" stop-color="#9c58a4"/><stop offset="0.8" stop-color="#9856a6"/><stop offset="0.82" stop-color="#9655a6"/><stop offset="0.85" stop-color="#9354a5"/><stop offset="0.88" stop-color="#9153a5"/><stop offset="0.9" stop-color="#8e52a5"/><stop offset="0.93" stop-color="#8c52a4"/><stop offset="0.95" stop-color="#8a51a4"/><stop offset="0.97" stop-color="#8750a4"/><stop offset="1" stop-color="#854fa4"/></linearGradient><rect x="160.6" y="539.22" width="207.2" height="16.48" fill="url(#hg5)"/>
<linearGradient id="hg6" x1="0" y1="0" x2="1" y2="0"><stop offset="0" stop-color="#fdfab2"/><stop offset="0.03" stop-color="#fdec85"/><stop offset="0.05" stop-color="#fdd663"/><stop offset="0.07" stop-color="#fdc04b"/><stop offset="0.1" stop-color="#fcb247"/><stop offset="0.12" stop-color="#fba545"/><stop offset="0.15" stop-color="#f99e4b"/><stop offset="0.17" stop-color="#f79851"/><stop offset="0.2" stop-color="#f59256"/><stop offset="0.23" stop-color="#f38e5a"/><stop offset="0.25" stop-color="#f28a5e"/><stop offset="0.28" stop-color="#ef8762"/><stop offset="0.3" stop-color="#ed8566"/><stop offset="0.33" stop-color="#e9816a"/><stop offset="0.35" stop-color="#e67e6f"/><stop offset="0.38" stop-color="#e37b73"/><stop offset="0.4" stop-color="#e07878"/><stop offset="0.42" stop-color="#da757e"/><stop offset="0.45" stop-color="#d37283"/><stop offset="0.47" stop-color="#cd6e89"/><stop offset="0.5" stop-color="#c66b8e"/><stop offset="0.53" stop-color="#be6795"/><stop offset="0.55" stop-color="#b46399"/><stop offset="0.57" stop-color="#aa5e9e"/><stop offset="0.6" stop-color="#a05aa2"/><stop offset="0.62" stop-color="#9655a6"/><stop offset="0.65" stop-color="#8e52a5"/><stop offset="0.68" stop-color="#864fa4"/><stop offset="0.7" stop-color="#7e4ca3"/><stop offset="0.72" stop-color="#764aa1"/><stop offset="0.75" stop-color="#6e489a"/><stop offset="0.78" stop-color="#684695"/><stop offset="0.8" stop-color="#624490"/><stop offset="0.82" stop-color="#5b438b"/><stop offset="0.85" stop-color="#564284"/><stop offset="0.88" stop-color="#52417c"/><stop offset="0.9" stop-color="#4e4175"/><stop offset="0.93" stop-color="#4b406e"/><stop offset="0.95" stop-color="#473f64"/><stop offset="0.97" stop-color="#423d58"/><stop offset="1" stop-color="#3e3a4d"/></linearGradient><rect x="160.6" y="565.8" width="207.2" height="17.4" fill="url(#hg6)"/>
<linearGradient id="hg7" x1="0" y1="0" x2="1" y2="0"><stop offset="0" stop-color="#fde06e"/><stop offset="0.03" stop-color="#fdcb55"/><stop offset="0.05" stop-color="#fcb949"/><stop offset="0.07" stop-color="#fcae46"/><stop offset="0.1" stop-color="#faa347"/><stop offset="0.12" stop-color="#f89d4c"/><stop offset="0.15" stop-color="#f69752"/><stop offset="0.17" stop-color="#f49058"/><stop offset="0.2" stop-color="#f28a5e"/><stop offset="0.23" stop-color="#ef8763"/><stop offset="0.25" stop-color="#ec8467"/><stop offset="0.28" stop-color="#e9816c"/><stop offset="0.3" stop-color="#e57d70"/><stop offset="0.33" stop-color="#e27a75"/><stop offset="0.35" stop-color="#de7779"/><stop offset="0.38" stop-color="#d9747e"/><stop offset="0.4" stop-color="#d37283"/><stop offset="0.42" stop-color="#cd6e89"/><stop offset="0.45" stop-color="#c66b8e"/><stop offset="0.47" stop-color="#c06894"/><stop offset="0.5" stop-color="#b86498"/><stop offset="0.53" stop-color="#af609c"/><stop offset="0.55" stop-color="#a65ca0"/><stop offset="0.57" stop-color="#9d58a4"/><stop offset="0.6" stop-color="#9555a6"/><stop offset="0.62" stop-color="#8e52a5"/><stop offset="0.65" stop-color="#864fa4"/><stop offset="0.68" stop-color="#7f4da3"/><stop offset="0.7" stop-color="#784aa2"/><stop offset="0.72" stop-color="#71489c"/><stop offset="0.75" stop-color="#6a4696"/><stop offset="0.78" stop-color="#624590"/><stop offset="0.8" stop-color="#5b438b"/><stop offset="0.82" stop-color="#574285"/><stop offset="0.85" stop-color="#53417e"/><stop offset="0.88" stop-color="#504177"/><stop offset="0.9" stop-color="#4c4070"/><stop offset="0.93" stop-color="#484069"/><stop offset="0.95" stop-color="#453f60"/><stop offset="0.97" stop-color="#423d56"/><stop offset="1" stop-color="#3e3a4d"/></linearGradient><rect x="160.6" y="582.2" width="207.2" height="17.4" fill="url(#hg7)"/>
<linearGradient id="hg8" x1="0" y1="0" x2="1" y2="0"><stop offset="0" stop-color="#fdc04b"/><stop offset="0.03" stop-color="#fcb548"/><stop offset="0.05" stop-color="#fbaa45"/><stop offset="0.07" stop-color="#faa248"/><stop offset="0.1" stop-color="#f79b4e"/><stop offset="0.12" stop-color="#f59454"/><stop offset="0.15" stop-color="#f38e5a"/><stop offset="0.17" stop-color="#f18960"/><stop offset="0.2" stop-color="#ed8566"/><stop offset="0.23" stop-color="#e9816b"/><stop offset="0.25" stop-color="#e57d70"/><stop offset="0.28" stop-color="#e27a75"/><stop offset="0.3" stop-color="#dd767b"/><stop offset="0.33" stop-color="#d67380"/><stop offset="0.35" stop-color="#d07086"/><stop offset="0.38" stop-color="#ca6d8c"/><stop offset="0.4" stop-color="#c36a91"/><stop offset="0.42" stop-color="#bc6696"/><stop offset="0.45" stop-color="#b46399"/><stop offset="0.47" stop-color="#ac5f9d"/><stop offset="0.5" stop-color="#a45ba1"/><stop offset="0.53" stop-color="#9c58a4"/><stop offset="0.55" stop-color="#9555a6"/><stop offset="0.57" stop-color="#8e52a5"/><stop offset="0.6" stop-color="#8850a4"/><stop offset="0.62" stop-color="#814da3"/><stop offset="0.65" stop-color="#7a4ba2"/><stop offset="0.68" stop-color="#72499d"/><stop offset="0.7" stop-color="#6b4798"/><stop offset="0.72" stop-color="#664593"/><stop offset="0.75" stop-color="#60448e"/><stop offset="0.78" stop-color="#5a438a"/><stop offset="0.8" stop-color="#564284"/><stop offset="0.82" stop-color="#53417d"/><stop offset="0.85" stop-color="#4f4176"/><stop offset="0.88" stop-color="#4c406f"/><stop offset="0.9" stop-color="#484068"/><stop offset="0.93" stop-color="#453e60"/><stop offset="0.95" stop-color="#423d58"/><stop offset="0.97" stop-color="#3f3b50"/><stop offset="1" stop-color="#3b3948"/></linearGradient><rect x="160.6" y="598.6" width="207.2" height="17.4" fill="url(#hg8)"/>
<linearGradient id="hg9" x1="0" y1="0" x2="1" y2="0"><stop offset="0" stop-color="#fcae46"/><stop offset="0.03" stop-color="#fba545"/><stop offset="0.05" stop-color="#f89e4c"/><stop offset="0.07" stop-color="#f69554"/><stop offset="0.1" stop-color="#f38d5b"/><stop offset="0.12" stop-color="#f08861"/><stop offset="0.15" stop-color="#ec8467"/><stop offset="0.17" stop-color="#e8806d"/><stop offset="0.2" stop-color="#e47c73"/><stop offset="0.23" stop-color="#df7879"/><stop offset="0.25" stop-color="#d8747f"/><stop offset="0.28" stop-color="#d17085"/><stop offset="0.3" stop-color="#ca6d8c"/><stop offset="0.33" stop-color="#c46a90"/><stop offset="0.35" stop-color="#be6795"/><stop offset="0.38" stop-color="#b76498"/><stop offset="0.4" stop-color="#b0619b"/><stop offset="0.42" stop-color="#a85d9f"/><stop offset="0.45" stop-color="#a05aa2"/><stop offset="0.47" stop-color="#9856a6"/><stop offset="0.5" stop-color="#9254a5"/><stop offset="0.53" stop-color="#8b51a4"/><stop offset="0.55" stop-color="#854fa4"/><stop offset="0.57" stop-color="#7e4ca3"/><stop offset="0.6" stop-color="#784aa2"/><stop offset="0.62" stop-color="#72489d"/><stop offset="0.65" stop-color="#6b4798"/><stop offset="0.68" stop-color="#654592"/><stop offset="0.7" stop-color="#5e448d"/><stop offset="0.72" stop-color="#5a4289"/><stop offset="0.75" stop-color="#564284"/><stop offset="0.78" stop-color="#53417e"/><stop offset="0.8" stop-color="#504178"/><stop offset="0.82" stop-color="#4d4172"/><stop offset="0.85" stop-color="#4a406c"/><stop offset="0.88" stop-color="#474065"/><stop offset="0.9" stop-color="#443e5d"/><stop offset="0.93" stop-color="#423d56"/><stop offset="0.95" stop-color="#3f3b50"/><stop offset="0.97" stop-color="#3c3949"/><stop offset="1" stop-color="#383843"/></linearGradient><rect x="160.6" y="615" width="207.2" height="17.4" fill="url(#hg9)"/>
<linearGradient id="hg10" x1="0" y1="0" x2="1" y2="0"><stop offset="0" stop-color="#faa347"/><stop offset="0.03" stop-color="#f69851"/><stop offset="0.05" stop-color="#f38d5b"/><stop offset="0.07" stop-color="#ee8664"/><stop offset="0.1" stop-color="#e77f6e"/><stop offset="0.12" stop-color="#e37b74"/><stop offset="0.15" stop-color="#dd767b"/><stop offset="0.17" stop-color="#d57282"/><stop offset="0.2" stop-color="#cd6e89"/><stop offset="0.23" stop-color="#c76c8e"/><stop offset="0.25" stop-color="#c26993"/><stop offset="0.28" stop-color="#bb6696"/><stop offset="0.3" stop-color="#b46399"/><stop offset="0.33" stop-color="#ac5f9d"/><stop offset="0.35" stop-color="#a45ba1"/><stop offset="0.38" stop-color="#9c58a4"/><stop offset="0.4" stop-color="#9555a6"/><stop offset="0.42" stop-color="#8e52a5"/><stop offset="0.45" stop-color="#8850a4"/><stop offset="0.47" stop-color="#824ea3"/><stop offset="0.5" stop-color="#7b4ba2"/><stop offset="0.53" stop-color="#75499f"/><stop offset="0.55" stop-color="#6e489a"/><stop offset="0.57" stop-color="#684695"/><stop offset="0.6" stop-color="#624490"/><stop offset="0.62" stop-color="#5d438c"/><stop offset="0.65" stop-color="#584288"/><stop offset="0.68" stop-color="#554282"/><stop offset="0.7" stop-color="#52417c"/><stop offset="0.72" stop-color="#504177"/><stop offset="0.75" stop-color="#4d4172"/><stop offset="0.78" stop-color="#4a406d"/><stop offset="0.8" stop-color="#484068"/><stop offset="0.82" stop-color="#453f60"/><stop offset="0.85" stop-color="#423d58"/><stop offset="0.88" stop-color="#3f3b50"/><stop offset="0.9" stop-color="#3b3948"/><stop offset="0.93" stop-color="#3a3846"/><stop offset="0.95" stop-color="#383843"/><stop offset="0.97" stop-color="#373740"/><stop offset="1" stop-color="#36363e"/></linearGradient><rect x="160.6" y="631.4" width="207.2" height="16.4" fill="url(#hg10)"/>
<linearGradient id="hg11" x1="0" y1="0" x2="1" y2="0"><stop offset="0" stop-color="#fdfdba"/><stop offset="0.03" stop-color="#fdf49c"/><stop offset="0.05" stop-color="#fde879"/><stop offset="0.07" stop-color="#fdce58"/><stop offset="0.1" stop-color="#fcb949"/><stop offset="0.12" stop-color="#fba644"/><stop offset="0.15" stop-color="#f69851"/><stop offset="0.17" stop-color="#f28a5e"/><stop offset="0.2" stop-color="#ea8269"/><stop offset="0.23" stop-color="#e37b74"/><stop offset="0.25" stop-color="#da757e"/><stop offset="0.28" stop-color="#cf6f87"/><stop offset="0.3" stop-color="#c46a90"/><stop offset="0.33" stop-color="#b96597"/><stop offset="0.35" stop-color="#ae609c"/><stop offset="0.38" stop-color="#a35ba1"/><stop offset="0.4" stop-color="#9856a6"/><stop offset="0.42" stop-color="#9154a5"/><stop offset="0.45" stop-color="#8b51a4"/><stop offset="0.47" stop-color="#844ea4"/><stop offset="0.5" stop-color="#7d4ca3"/><stop offset="0.53" stop-color="#774aa1"/><stop offset="0.55" stop-color="#72489d"/><stop offset="0.57" stop-color="#6d4799"/><stop offset="0.6" stop-color="#684695"/><stop offset="0.62" stop-color="#634591"/><stop offset="0.65" stop-color="#5e448d"/><stop offset="0.68" stop-color="#594289"/><stop offset="0.7" stop-color="#554283"/><stop offset="0.72" stop-color="#52417c"/><stop offset="0.75" stop-color="#4f4175"/><stop offset="0.78" stop-color="#4b406f"/><stop offset="0.8" stop-color="#484068"/><stop offset="0.82" stop-color="#463f61"/><stop offset="0.85" stop-color="#433e5a"/><stop offset="0.88" stop-color="#403c53"/><stop offset="0.9" stop-color="#3e3a4d"/><stop offset="0.93" stop-color="#3c3949"/><stop offset="0.95" stop-color="#3a3846"/><stop offset="0.97" stop-color="#383742"/><stop offset="1" stop-color="#36363e"/></linearGradient><rect x="374" y="473.3" width="206.8" height="17.48" fill="url(#hg11)"/>
<linearGradient id="hg12" x1="0" y1="0" x2="1" y2="0"><stop offset="0" stop-color="#fdfdba"/><stop offset="0.03" stop-color="#fdf49c"/><stop offset="0.05" stop-color="#fde879"/><stop offset="0.07" stop-color="#fdce58"/><stop offset="0.1" stop-color="#fcb949"/><stop offset="0.12" stop-color="#fba644"/><stop offset="0.15" stop-color="#f69851"/><stop offset="0.17" stop-color="#f28a5e"/><stop offset="0.2" stop-color="#ea8269"/><stop offset="0.23" stop-color="#e37b74"/><stop offset="0.25" stop-color="#da757e"/><stop offset="0.28" stop-color="#cf6f87"/><stop offset="0.3" stop-color="#c46a90"/><stop offset="0.33" stop-color="#b96597"/><stop offset="0.35" stop-color="#ae609c"/><stop offset="0.38" stop-color="#a35ba1"/><stop offset="0.4" stop-color="#9856a6"/><stop offset="0.42" stop-color="#9154a5"/><stop offset="0.45" stop-color="#8b51a4"/><stop offset="0.47" stop-color="#844ea4"/><stop offset="0.5" stop-color="#7d4ca3"/><stop offset="0.53" stop-color="#774aa1"/><stop offset="0.55" stop-color="#72499d"/><stop offset="0.57" stop-color="#6e479a"/><stop offset="0.6" stop-color="#694696"/><stop offset="0.62" stop-color="#644592"/><stop offset="0.65" stop-color="#5f448e"/><stop offset="0.68" stop-color="#5b438a"/><stop offset="0.7" stop-color="#574285"/><stop offset="0.72" stop-color="#53417f"/><stop offset="0.75" stop-color="#504179"/><stop offset="0.78" stop-color="#4d4172"/><stop offset="0.8" stop-color="#4a406c"/><stop offset="0.82" stop-color="#484067"/><stop offset="0.85" stop-color="#463f61"/><stop offset="0.88" stop-color="#433e5b"/><stop offset="0.9" stop-color="#413c55"/><stop offset="0.93" stop-color="#403c51"/><stop offset="0.95" stop-color="#3e3b4e"/><stop offset="0.97" stop-color="#3d3a4b"/><stop offset="1" stop-color="#3b3948"/></linearGradient><rect x="374" y="489.78" width="206.8" height="17.48" fill="url(#hg12)"/>
<linearGradient id="hg13" x1="0" y1="0" x2="1" y2="0"><stop offset="0" stop-color="#fdf39a"/><stop offset="0.03" stop-color="#fde474"/><stop offset="0.05" stop-color="#fdcd58"/><stop offset="0.07" stop-color="#fcbb4a"/><stop offset="0.1" stop-color="#fbaa45"/><stop offset="0.12" stop-color="#f89c4d"/><stop offset="0.15" stop-color="#f49059"/><stop offset="0.17" stop-color="#ee8663"/><stop offset="0.2" stop-color="#e77f6e"/><stop offset="0.23" stop-color="#e17977"/><stop offset="0.25" stop-color="#d67381"/><stop offset="0.28" stop-color="#cb6d8b"/><stop offset="0.3" stop-color="#c16893"/><stop offset="0.33" stop-color="#b46399"/><stop offset="0.35" stop-color="#a85d9f"/><stop offset="0.38" stop-color="#a15aa2"/><stop offset="0.4" stop-color="#9a57a5"/><stop offset="0.42" stop-color="#9454a5"/><stop offset="0.45" stop-color="#8e52a5"/><stop offset="0.47" stop-color="#8850a4"/><stop offset="0.5" stop-color="#824ea3"/><stop offset="0.53" stop-color="#7d4ca3"/><stop offset="0.55" stop-color="#784aa2"/><stop offset="0.57" stop-color="#73499e"/><stop offset="0.6" stop-color="#6e489a"/><stop offset="0.62" stop-color="#6b4798"/><stop offset="0.65" stop-color="#684695"/><stop offset="0.68" stop-color="#654592"/><stop offset="0.7" stop-color="#624490"/><stop offset="0.72" stop-color="#5e448d"/><stop offset="0.75" stop-color="#5b438b"/><stop offset="0.78" stop-color="#584288"/><stop offset="0.8" stop-color="#564284"/><stop offset="0.82" stop-color="#544280"/><stop offset="0.85" stop-color="#52417c"/><stop offset="0.88" stop-color="#504178"/><stop offset="0.9" stop-color="#4e4174"/><stop offset="0.93" stop-color="#4c4070"/><stop offset="0.95" stop-color="#4a406c"/><stop offset="0.97" stop-color="#484068"/><stop offset="1" stop-color="#463f62"/></linearGradient><rect x="374" y="506.26" width="206.8" height="17.48" fill="url(#hg13)"/>
<linearGradient id="hg14" x1="0" y1="0" x2="1" y2="0"><stop offset="0" stop-color="#fdec82"/><stop offset="0.03" stop-color="#fdd663"/><stop offset="0.05" stop-color="#fdc04b"/><stop offset="0.07" stop-color="#fcb348"/><stop offset="0.1" stop-color="#fba644"/><stop offset="0.12" stop-color="#f69851"/><stop offset="0.15" stop-color="#f28a5e"/><stop offset="0.17" stop-color="#eb8368"/><stop offset="0.2" stop-color="#e47c73"/><stop offset="0.23" stop-color="#da757d"/><stop offset="0.25" stop-color="#cd6f88"/><stop offset="0.28" stop-color="#c16993"/><stop offset="0.3" stop-color="#b66498"/><stop offset="0.33" stop-color="#ab5f9d"/><stop offset="0.35" stop-color="#a05aa2"/><stop offset="0.38" stop-color="#9956a6"/><stop offset="0.4" stop-color="#9354a5"/><stop offset="0.42" stop-color="#8e52a5"/><stop offset="0.45" stop-color="#8a51a4"/><stop offset="0.47" stop-color="#864fa4"/><stop offset="0.5" stop-color="#824ea3"/><stop offset="0.53" stop-color="#7e4ca3"/><stop offset="0.55" stop-color="#7b4ba2"/><stop offset="0.57" stop-color="#784aa2"/><stop offset="0.6" stop-color="#75499f"/><stop offset="0.62" stop-color="#72499d"/><stop offset="0.65" stop-color="#70489c"/><stop offset="0.68" stop-color="#6e479a"/><stop offset="0.7" stop-color="#6b4798"/><stop offset="0.72" stop-color="#694696"/><stop offset="0.75" stop-color="#664694"/><stop offset="0.78" stop-color="#644592"/><stop offset="0.8" stop-color="#624490"/><stop offset="0.82" stop-color="#60448e"/><stop offset="0.85" stop-color="#5e448d"/><stop offset="0.88" stop-color="#5d438c"/><stop offset="0.9" stop-color="#5b438b"/><stop offset="0.93" stop-color="#594289"/><stop offset="0.95" stop-color="#574286"/><stop offset="0.97" stop-color="#564283"/><stop offset="1" stop-color="#544280"/></linearGradient><rect x="374" y="522.74" width="206.8" height="17.48" fill="url(#hg14)"/>
<linearGradient id="hg15" x1="0" y1="0" x2="1" y2="0"><stop offset="0" stop-color="#fdcd58"/><stop offset="0.03" stop-color="#fcbd4a"/><stop offset="0.05" stop-color="#fcae46"/><stop offset="0.07" stop-color="#faa248"/><stop offset="0.1" stop-color="#f69851"/><stop offset="0.12" stop-color="#f28b5d"/><stop offset="0.15" stop-color="#eb8368"/><stop offset="0.17" stop-color="#e37b74"/><stop offset="0.2" stop-color="#d67380"/><stop offset="0.23" stop-color="#cd6f88"/><stop offset="0.25" stop-color="#c46a90"/><stop offset="0.28" stop-color="#ba6597"/><stop offset="0.3" stop-color="#b2619b"/><stop offset="0.33" stop-color="#a95e9e"/><stop offset="0.35" stop-color="#a05aa2"/><stop offset="0.38" stop-color="#9a57a5"/><stop offset="0.4" stop-color="#9555a6"/><stop offset="0.42" stop-color="#9153a5"/><stop offset="0.45" stop-color="#8f53a5"/><stop offset="0.47" stop-color="#8d52a5"/><stop offset="0.5" stop-color="#8b51a4"/><stop offset="0.53" stop-color="#8a51a4"/><stop offset="0.55" stop-color="#8a51a4"/><stop offset="0.57" stop-color="#8950a4"/><stop offset="0.6" stop-color="#8850a4"/><stop offset="0.62" stop-color="#8750a4"/><stop offset="0.65" stop-color="#864fa4"/><stop offset="0.68" stop-color="#864fa4"/><stop offset="0.7" stop-color="#854fa4"/><stop offset="0.72" stop-color="#844fa4"/><stop offset="0.75" stop-color="#844ea3"/><stop offset="0.78" stop-color="#834ea3"/><stop offset="0.8" stop-color="#834ea3"/><stop offset="0.82" stop-color="#824ea3"/><stop offset="0.85" stop-color="#824ea3"/><stop offset="0.88" stop-color="#814da3"/><stop offset="0.9" stop-color="#814da3"/><stop offset="0.93" stop-color="#804da3"/><stop offset="0.95" stop-color="#7f4da3"/><stop offset="0.97" stop-color="#7f4da3"/><stop offset="1" stop-color="#7e4ca3"/></linearGradient><rect x="374" y="539.22" width="206.8" height="16.48" fill="url(#hg15)"/>
<linearGradient id="hg16" x1="0" y1="0" x2="1" y2="0"><stop offset="0" stop-color="#fdfdba"/><stop offset="0.03" stop-color="#fdf296"/><stop offset="0.05" stop-color="#fde373"/><stop offset="0.07" stop-color="#fdcc56"/><stop offset="0.1" stop-color="#fcb949"/><stop offset="0.12" stop-color="#fbaa45"/><stop offset="0.15" stop-color="#f99f4a"/><stop offset="0.17" stop-color="#f69653"/><stop offset="0.2" stop-color="#f38c5c"/><stop offset="0.23" stop-color="#ee8664"/><stop offset="0.25" stop-color="#e9816b"/><stop offset="0.28" stop-color="#e47c73"/><stop offset="0.3" stop-color="#df7879"/><stop offset="0.33" stop-color="#d8747f"/><stop offset="0.35" stop-color="#d17085"/><stop offset="0.38" stop-color="#ca6d8b"/><stop offset="0.4" stop-color="#c46a90"/><stop offset="0.42" stop-color="#be6795"/><stop offset="0.45" stop-color="#b76498"/><stop offset="0.47" stop-color="#b0619b"/><stop offset="0.5" stop-color="#aa5e9e"/><stop offset="0.53" stop-color="#a35ba1"/><stop offset="0.55" stop-color="#9c58a4"/><stop offset="0.57" stop-color="#9655a6"/><stop offset="0.6" stop-color="#9153a5"/><stop offset="0.62" stop-color="#8c51a4"/><stop offset="0.65" stop-color="#8750a4"/><stop offset="0.68" stop-color="#824ea3"/><stop offset="0.7" stop-color="#7d4ca3"/><stop offset="0.72" stop-color="#784aa2"/><stop offset="0.75" stop-color="#72499e"/><stop offset="0.78" stop-color="#6e4799"/><stop offset="0.8" stop-color="#694696"/><stop offset="0.82" stop-color="#654592"/><stop offset="0.85" stop-color="#60448f"/><stop offset="0.88" stop-color="#5c438b"/><stop offset="0.9" stop-color="#584288"/><stop offset="0.93" stop-color="#554282"/><stop offset="0.95" stop-color="#52417d"/><stop offset="0.97" stop-color="#504177"/><stop offset="1" stop-color="#4d4172"/></linearGradient><rect x="374" y="565.8" width="206.8" height="17.4" fill="url(#hg16)"/>
<linearGradient id="hg17" x1="0" y1="0" x2="1" y2="0"><stop offset="0" stop-color="#fdee8a"/><stop offset="0.03" stop-color="#fddb68"/><stop offset="0.05" stop-color="#fdc44c"/><stop offset="0.07" stop-color="#fcb347"/><stop offset="0.1" stop-color="#faa347"/><stop offset="0.12" stop-color="#f69653"/><stop offset="0.15" stop-color="#f28c5d"/><stop offset="0.17" stop-color="#ed8565"/><stop offset="0.2" stop-color="#e77f6e"/><stop offset="0.23" stop-color="#e17977"/><stop offset="0.25" stop-color="#d77480"/><stop offset="0.28" stop-color="#cd6e89"/><stop offset="0.3" stop-color="#c66b8e"/><stop offset="0.33" stop-color="#c06894"/><stop offset="0.35" stop-color="#b86498"/><stop offset="0.38" stop-color="#b1619b"/><stop offset="0.4" stop-color="#aa5e9e"/><stop offset="0.42" stop-color="#a25ba1"/><stop offset="0.45" stop-color="#9b58a4"/><stop offset="0.47" stop-color="#9655a6"/><stop offset="0.5" stop-color="#9153a5"/><stop offset="0.53" stop-color="#8d52a5"/><stop offset="0.55" stop-color="#8850a4"/><stop offset="0.57" stop-color="#824ea3"/><stop offset="0.6" stop-color="#7c4ca3"/><stop offset="0.62" stop-color="#774aa1"/><stop offset="0.65" stop-color="#71489c"/><stop offset="0.68" stop-color="#6c4798"/><stop offset="0.7" stop-color="#674695"/><stop offset="0.72" stop-color="#634591"/><stop offset="0.75" stop-color="#5f448d"/><stop offset="0.78" stop-color="#5a438a"/><stop offset="0.8" stop-color="#574285"/><stop offset="0.82" stop-color="#544280"/><stop offset="0.85" stop-color="#51417b"/><stop offset="0.88" stop-color="#4f4175"/><stop offset="0.9" stop-color="#4c4170"/><stop offset="0.93" stop-color="#4a406c"/><stop offset="0.95" stop-color="#484067"/><stop offset="0.97" stop-color="#453f61"/><stop offset="1" stop-color="#433e5c"/></linearGradient><rect x="374" y="582.2" width="206.8" height="17.4" fill="url(#hg17)"/>
<linearGradient id="hg18" x1="0" y1="0" x2="1" y2="0"><stop offset="0" stop-color="#fdc04b"/><stop offset="0.03" stop-color="#fcb147"/><stop offset="0.05" stop-color="#faa347"/><stop offset="0.07" stop-color="#f69653"/><stop offset="0.1" stop-color="#f28a5e"/><stop offset="0.12" stop-color="#e9816a"/><stop offset="0.15" stop-color="#e27a75"/><stop offset="0.17" stop-color="#d8747f"/><stop offset="0.2" stop-color="#cc6e89"/><stop offset="0.23" stop-color="#c56a90"/><stop offset="0.25" stop-color="#bd6795"/><stop offset="0.28" stop-color="#b46399"/><stop offset="0.3" stop-color="#ac5f9d"/><stop offset="0.33" stop-color="#a45ba1"/><stop offset="0.35" stop-color="#9c58a4"/><stop offset="0.38" stop-color="#9555a6"/><stop offset="0.4" stop-color="#9053a5"/><stop offset="0.42" stop-color="#8a51a4"/><stop offset="0.45" stop-color="#844fa4"/><stop offset="0.47" stop-color="#7f4da3"/><stop offset="0.5" stop-color="#794aa2"/><stop offset="0.53" stop-color="#74499f"/><stop offset="0.55" stop-color="#6e489a"/><stop offset="0.57" stop-color="#6a4797"/><stop offset="0.6" stop-color="#664593"/><stop offset="0.62" stop-color="#614490"/><stop offset="0.65" stop-color="#5d438c"/><stop offset="0.68" stop-color="#594288"/><stop offset="0.7" stop-color="#564283"/><stop offset="0.72" stop-color="#53417e"/><stop offset="0.75" stop-color="#504178"/><stop offset="0.78" stop-color="#4e4173"/><stop offset="0.8" stop-color="#4b406f"/><stop offset="0.82" stop-color="#49406a"/><stop offset="0.85" stop-color="#473f65"/><stop offset="0.88" stop-color="#443e5e"/><stop offset="0.9" stop-color="#433d5a"/><stop offset="0.93" stop-color="#423d56"/><stop offset="0.95" stop-color="#403c53"/><stop offset="0.97" stop-color="#3f3b4f"/><stop offset="1" stop-color="#3d3a4c"/></linearGradient><rect x="374" y="598.6" width="206.8" height="17.4" fill="url(#hg18)"/>
<linearGradient id="hg19" x1="0" y1="0" x2="1" y2="0"><stop offset="0" stop-color="#fcb147"/><stop offset="0.03" stop-color="#f99e4b"/><stop offset="0.05" stop-color="#f48f59"/><stop offset="0.07" stop-color="#ed8565"/><stop offset="0.1" stop-color="#e57d71"/><stop offset="0.12" stop-color="#da757d"/><stop offset="0.15" stop-color="#cf7087"/><stop offset="0.17" stop-color="#c66b8f"/><stop offset="0.2" stop-color="#bb6696"/><stop offset="0.23" stop-color="#b1619b"/><stop offset="0.25" stop-color="#a65ca0"/><stop offset="0.28" stop-color="#9c58a4"/><stop offset="0.3" stop-color="#9454a5"/><stop offset="0.33" stop-color="#8d52a5"/><stop offset="0.35" stop-color="#854fa4"/><stop offset="0.38" stop-color="#7e4ca3"/><stop offset="0.4" stop-color="#784aa2"/><stop offset="0.42" stop-color="#72489d"/><stop offset="0.45" stop-color="#6b4798"/><stop offset="0.47" stop-color="#664593"/><stop offset="0.5" stop-color="#61448f"/><stop offset="0.53" stop-color="#5d438c"/><stop offset="0.55" stop-color="#584288"/><stop offset="0.57" stop-color="#554283"/><stop offset="0.6" stop-color="#53417d"/><stop offset="0.62" stop-color="#504178"/><stop offset="0.65" stop-color="#4d4172"/><stop offset="0.68" stop-color="#4b406d"/><stop offset="0.7" stop-color="#484069"/><stop offset="0.72" stop-color="#463f63"/><stop offset="0.75" stop-color="#443e5c"/><stop offset="0.78" stop-color="#423d57"/><stop offset="0.8" stop-color="#403c53"/><stop offset="0.82" stop-color="#3f3b50"/><stop offset="0.85" stop-color="#3d3a4c"/><stop offset="0.88" stop-color="#3b3949"/><stop offset="0.9" stop-color="#3b3947"/><stop offset="0.93" stop-color="#3a3846"/><stop offset="0.95" stop-color="#393845"/><stop offset="0.97" stop-color="#393844"/><stop offset="1" stop-color="#383743"/></linearGradient><rect x="374" y="615" width="206.8" height="17.4" fill="url(#hg19)"/>
<linearGradient id="hg20" x1="0" y1="0" x2="1" y2="0"><stop offset="0" stop-color="#fba644"/><stop offset="0.03" stop-color="#f59356"/><stop offset="0.05" stop-color="#ec8466"/><stop offset="0.07" stop-color="#e37b74"/><stop offset="0.1" stop-color="#d77380"/><stop offset="0.12" stop-color="#ca6d8b"/><stop offset="0.15" stop-color="#bd6795"/><stop offset="0.17" stop-color="#ae609c"/><stop offset="0.2" stop-color="#9f59a3"/><stop offset="0.23" stop-color="#9555a6"/><stop offset="0.25" stop-color="#8d52a5"/><stop offset="0.28" stop-color="#854fa4"/><stop offset="0.3" stop-color="#7e4ca3"/><stop offset="0.33" stop-color="#764aa1"/><stop offset="0.35" stop-color="#6f489b"/><stop offset="0.38" stop-color="#684695"/><stop offset="0.4" stop-color="#634591"/><stop offset="0.42" stop-color="#5d438c"/><stop offset="0.45" stop-color="#584287"/><stop offset="0.47" stop-color="#544280"/><stop offset="0.5" stop-color="#51417a"/><stop offset="0.53" stop-color="#4d4173"/><stop offset="0.55" stop-color="#4a406c"/><stop offset="0.57" stop-color="#484067"/><stop offset="0.6" stop-color="#453f61"/><stop offset="0.62" stop-color="#433e5b"/><stop offset="0.65" stop-color="#413c54"/><stop offset="0.68" stop-color="#3f3b50"/><stop offset="0.7" stop-color="#3d3a4d"/><stop offset="0.72" stop-color="#3c3949"/><stop offset="0.75" stop-color="#3a3846"/><stop offset="0.78" stop-color="#383743"/><stop offset="0.8" stop-color="#383743"/><stop offset="0.82" stop-color="#383742"/><stop offset="0.85" stop-color="#383742"/><stop offset="0.88" stop-color="#383741"/><stop offset="0.9" stop-color="#383741"/><stop offset="0.93" stop-color="#373741"/><stop offset="0.95" stop-color="#373740"/><stop offset="0.97" stop-color="#373740"/><stop offset="1" stop-color="#373640"/></linearGradient><rect x="374" y="631.4" width="206.8" height="16.4" fill="url(#hg20)"/>
<linearGradient id="hg21" x1="0" y1="0" x2="1" y2="0"><stop offset="0" stop-color="#fdfdba"/><stop offset="0.03" stop-color="#fdf7a6"/><stop offset="0.05" stop-color="#fdf092"/><stop offset="0.07" stop-color="#fde474"/><stop offset="0.1" stop-color="#fdd25d"/><stop offset="0.12" stop-color="#fdc24c"/><stop offset="0.15" stop-color="#fcb548"/><stop offset="0.17" stop-color="#fba644"/><stop offset="0.2" stop-color="#f79b4e"/><stop offset="0.23" stop-color="#f38e5a"/><stop offset="0.25" stop-color="#ed8566"/><stop offset="0.28" stop-color="#e57d70"/><stop offset="0.3" stop-color="#dd767b"/><stop offset="0.33" stop-color="#d17185"/><stop offset="0.35" stop-color="#c66b8f"/><stop offset="0.38" stop-color="#bb6696"/><stop offset="0.4" stop-color="#b1619b"/><stop offset="0.42" stop-color="#a65ca0"/><stop offset="0.45" stop-color="#9e58a4"/><stop offset="0.47" stop-color="#9555a6"/><stop offset="0.5" stop-color="#8e52a5"/><stop offset="0.53" stop-color="#8850a4"/><stop offset="0.55" stop-color="#824ea3"/><stop offset="0.57" stop-color="#7c4ca3"/><stop offset="0.6" stop-color="#7649a0"/><stop offset="0.62" stop-color="#6f489a"/><stop offset="0.65" stop-color="#684695"/><stop offset="0.68" stop-color="#624490"/><stop offset="0.7" stop-color="#5d438c"/><stop offset="0.72" stop-color="#584288"/><stop offset="0.75" stop-color="#554281"/><stop offset="0.78" stop-color="#51417a"/><stop offset="0.8" stop-color="#4d4173"/><stop offset="0.82" stop-color="#4a406c"/><stop offset="0.85" stop-color="#473f64"/><stop offset="0.88" stop-color="#443e5c"/><stop offset="0.9" stop-color="#413c55"/><stop offset="0.93" stop-color="#3e3b4e"/><stop offset="0.95" stop-color="#3b3949"/><stop offset="0.97" stop-color="#393843"/><stop offset="1" stop-color="#36363e"/></linearGradient><rect x="586.8" y="473.3" width="207.1" height="17.48" fill="url(#hg21)"/>
<linearGradient id="hg22" x1="0" y1="0" x2="1" y2="0"><stop offset="0" stop-color="#fdfdba"/><stop offset="0.03" stop-color="#fdf7a6"/><stop offset="0.05" stop-color="#fdf092"/><stop offset="0.07" stop-color="#fde474"/><stop offset="0.1" stop-color="#fdd25d"/><stop offset="0.12" stop-color="#fdc24c"/><stop offset="0.15" stop-color="#fcb548"/><stop offset="0.17" stop-color="#fba644"/><stop offset="0.2" stop-color="#f79b4e"/><stop offset="0.23" stop-color="#f38e5a"/><stop offset="0.25" stop-color="#ed8566"/><stop offset="0.28" stop-color="#e57d70"/><stop offset="0.3" stop-color="#dd767b"/><stop offset="0.33" stop-color="#d17185"/><stop offset="0.35" stop-color="#c66b8f"/><stop offset="0.38" stop-color="#bb6696"/><stop offset="0.4" stop-color="#b1619b"/><stop offset="0.42" stop-color="#a65ca0"/><stop offset="0.45" stop-color="#9e58a4"/><stop offset="0.47" stop-color="#9555a6"/><stop offset="0.5" stop-color="#8e52a5"/><stop offset="0.53" stop-color="#8850a4"/><stop offset="0.55" stop-color="#824ea3"/><stop offset="0.57" stop-color="#7c4ca3"/><stop offset="0.6" stop-color="#7649a0"/><stop offset="0.62" stop-color="#6f489a"/><stop offset="0.65" stop-color="#684695"/><stop offset="0.68" stop-color="#624490"/><stop offset="0.7" stop-color="#5d438c"/><stop offset="0.72" stop-color="#584288"/><stop offset="0.75" stop-color="#554282"/><stop offset="0.78" stop-color="#52417d"/><stop offset="0.8" stop-color="#504178"/><stop offset="0.82" stop-color="#4d4173"/><stop offset="0.85" stop-color="#4a406d"/><stop offset="0.88" stop-color="#484067"/><stop offset="0.9" stop-color="#463f61"/><stop offset="0.93" stop-color="#433e5b"/><stop offset="0.95" stop-color="#423d57"/><stop offset="0.97" stop-color="#403c53"/><stop offset="1" stop-color="#3f3b50"/></linearGradient><rect x="586.8" y="489.78" width="207.1" height="17.48" fill="url(#hg22)"/>
<linearGradient id="hg23" x1="0" y1="0" x2="1" y2="0"><stop offset="0" stop-color="#fdfdba"/><stop offset="0.03" stop-color="#fdf7a6"/><stop offset="0.05" stop-color="#fdf092"/><stop offset="0.07" stop-color="#fde474"/><stop offset="0.1" stop-color="#fdd25d"/><stop offset="0.12" stop-color="#fdc24c"/><stop offset="0.15" stop-color="#fcb548"/><stop offset="0.17" stop-color="#fba644"/><stop offset="0.2" stop-color="#f79b4e"/><stop offset="0.23" stop-color="#f38e5a"/><stop offset="0.25" stop-color="#ed8566"/><stop offset="0.28" stop-color="#e57d70"/><stop offset="0.3" stop-color="#dd767b"/><stop offset="0.33" stop-color="#d17185"/><stop offset="0.35" stop-color="#c66b8f"/><stop offset="0.38" stop-color="#bb6696"/><stop offset="0.4" stop-color="#b1619b"/><stop offset="0.42" stop-color="#a65ca0"/><stop offset="0.45" stop-color="#9e58a4"/><stop offset="0.47" stop-color="#9555a6"/><stop offset="0.5" stop-color="#8e52a5"/><stop offset="0.53" stop-color="#8850a4"/><stop offset="0.55" stop-color="#824ea3"/><stop offset="0.57" stop-color="#7c4ca3"/><stop offset="0.6" stop-color="#7649a0"/><stop offset="0.62" stop-color="#6f489a"/><stop offset="0.65" stop-color="#684695"/><stop offset="0.68" stop-color="#624490"/><stop offset="0.7" stop-color="#5d438c"/><stop offset="0.72" stop-color="#584288"/><stop offset="0.75" stop-color="#554282"/><stop offset="0.78" stop-color="#53417e"/><stop offset="0.8" stop-color="#51417a"/><stop offset="0.82" stop-color="#4e4175"/><stop offset="0.85" stop-color="#4b406f"/><stop offset="0.88" stop-color="#494069"/><stop offset="0.9" stop-color="#463f64"/><stop offset="0.93" stop-color="#443e5e"/><stop offset="0.95" stop-color="#433d5a"/><stop offset="0.97" stop-color="#413d56"/><stop offset="1" stop-color="#403c52"/></linearGradient><rect x="586.8" y="506.26" width="207.1" height="17.48" fill="url(#hg23)"/>
<linearGradient id="hg24" x1="0" y1="0" x2="1" y2="0"><stop offset="0" stop-color="#fdf6a2"/><stop offset="0.03" stop-color="#fdef8e"/><stop offset="0.05" stop-color="#fde97a"/><stop offset="0.07" stop-color="#fdd663"/><stop offset="0.1" stop-color="#fdc44c"/><stop offset="0.12" stop-color="#fcb949"/><stop offset="0.15" stop-color="#fcae46"/><stop offset="0.17" stop-color="#f99f4a"/><stop offset="0.2" stop-color="#f59256"/><stop offset="0.23" stop-color="#ef8762"/><stop offset="0.25" stop-color="#e77f6e"/><stop offset="0.28" stop-color="#de7779"/><stop offset="0.3" stop-color="#d07086"/><stop offset="0.33" stop-color="#c66b8f"/><stop offset="0.35" stop-color="#bb6696"/><stop offset="0.38" stop-color="#b1619b"/><stop offset="0.4" stop-color="#a75d9f"/><stop offset="0.42" stop-color="#9e59a3"/><stop offset="0.45" stop-color="#9756a6"/><stop offset="0.47" stop-color="#9153a5"/><stop offset="0.5" stop-color="#8b51a4"/><stop offset="0.53" stop-color="#8750a4"/><stop offset="0.55" stop-color="#834ea3"/><stop offset="0.57" stop-color="#7f4da3"/><stop offset="0.6" stop-color="#7a4ba2"/><stop offset="0.62" stop-color="#7549a0"/><stop offset="0.65" stop-color="#70489c"/><stop offset="0.68" stop-color="#6c4798"/><stop offset="0.7" stop-color="#684695"/><stop offset="0.72" stop-color="#644592"/><stop offset="0.75" stop-color="#60448f"/><stop offset="0.78" stop-color="#5d438c"/><stop offset="0.8" stop-color="#5a438a"/><stop offset="0.82" stop-color="#584288"/><stop offset="0.85" stop-color="#564285"/><stop offset="0.88" stop-color="#554282"/><stop offset="0.9" stop-color="#544280"/><stop offset="0.93" stop-color="#53417e"/><stop offset="0.95" stop-color="#52417c"/><stop offset="0.97" stop-color="#51417a"/><stop offset="1" stop-color="#504178"/></linearGradient><rect x="586.8" y="522.74" width="207.1" height="17.48" fill="url(#hg24)"/>
<linearGradient id="hg25" x1="0" y1="0" x2="1" y2="0"><stop offset="0" stop-color="#fdf092"/><stop offset="0.03" stop-color="#fdea7e"/><stop offset="0.05" stop-color="#fde06e"/><stop offset="0.07" stop-color="#fdd05a"/><stop offset="0.1" stop-color="#fdc04b"/><stop offset="0.12" stop-color="#fcb548"/><stop offset="0.15" stop-color="#fbaa45"/><stop offset="0.17" stop-color="#f89c4d"/><stop offset="0.2" stop-color="#f49059"/><stop offset="0.23" stop-color="#ee8664"/><stop offset="0.25" stop-color="#e57d70"/><stop offset="0.28" stop-color="#dd767b"/><stop offset="0.3" stop-color="#d07086"/><stop offset="0.33" stop-color="#c86c8d"/><stop offset="0.35" stop-color="#c06894"/><stop offset="0.38" stop-color="#b86498"/><stop offset="0.4" stop-color="#b1619b"/><stop offset="0.42" stop-color="#ab5f9d"/><stop offset="0.45" stop-color="#a65ca0"/><stop offset="0.47" stop-color="#a15aa2"/><stop offset="0.5" stop-color="#9c58a4"/><stop offset="0.53" stop-color="#9956a6"/><stop offset="0.55" stop-color="#9655a6"/><stop offset="0.57" stop-color="#9454a6"/><stop offset="0.6" stop-color="#9254a5"/><stop offset="0.62" stop-color="#9153a5"/><stop offset="0.65" stop-color="#8f53a5"/><stop offset="0.68" stop-color="#8e52a5"/><stop offset="0.7" stop-color="#8d52a5"/><stop offset="0.72" stop-color="#8c52a5"/><stop offset="0.75" stop-color="#8b51a4"/><stop offset="0.78" stop-color="#8b51a4"/><stop offset="0.8" stop-color="#8b51a4"/><stop offset="0.82" stop-color="#8a51a4"/><stop offset="0.85" stop-color="#8a51a4"/><stop offset="0.88" stop-color="#8a51a4"/><stop offset="0.9" stop-color="#8950a4"/><stop offset="0.93" stop-color="#8950a4"/><stop offset="0.95" stop-color="#8950a4"/><stop offset="0.97" stop-color="#8850a4"/><stop offset="1" stop-color="#8850a4"/></linearGradient><rect x="586.8" y="539.22" width="207.1" height="16.48" fill="url(#hg25)"/>
<linearGradient id="hg26" x1="0" y1="0" x2="1" y2="0"><stop offset="0" stop-color="#fdf6a2"/><stop offset="0.03" stop-color="#fddd6c"/><stop offset="0.05" stop-color="#fdbf4b"/><stop offset="0.07" stop-color="#fbaa45"/><stop offset="0.1" stop-color="#f79b4e"/><stop offset="0.12" stop-color="#f38f5a"/><stop offset="0.15" stop-color="#ed8565"/><stop offset="0.17" stop-color="#e57d71"/><stop offset="0.2" stop-color="#dd777a"/><stop offset="0.23" stop-color="#d27184"/><stop offset="0.25" stop-color="#ca6d8c"/><stop offset="0.28" stop-color="#c26993"/><stop offset="0.3" stop-color="#bd6795"/><stop offset="0.33" stop-color="#b96597"/><stop offset="0.35" stop-color="#b96597"/><stop offset="0.38" stop-color="#bb6696"/><stop offset="0.4" stop-color="#c16893"/><stop offset="0.42" stop-color="#cb6d8b"/><stop offset="0.45" stop-color="#e27a76"/><stop offset="0.47" stop-color="#f38e5a"/><stop offset="0.5" stop-color="#fcba49"/><stop offset="0.53" stop-color="#fdea7e"/><stop offset="0.55" stop-color="#fdf9ac"/><stop offset="0.57" stop-color="#fdfbb4"/><stop offset="0.6" stop-color="#fdf298"/><stop offset="0.62" stop-color="#fdc64f"/><stop offset="0.65" stop-color="#f79950"/><stop offset="0.68" stop-color="#e57d71"/><stop offset="0.7" stop-color="#ca6d8b"/><stop offset="0.72" stop-color="#b1619b"/><stop offset="0.75" stop-color="#a05aa2"/><stop offset="0.78" stop-color="#9454a6"/><stop offset="0.8" stop-color="#9053a5"/><stop offset="0.82" stop-color="#8c52a4"/><stop offset="0.85" stop-color="#8a51a4"/><stop offset="0.88" stop-color="#8950a4"/><stop offset="0.9" stop-color="#8850a4"/><stop offset="0.93" stop-color="#8850a4"/><stop offset="0.95" stop-color="#8850a4"/><stop offset="0.97" stop-color="#8850a4"/><stop offset="1" stop-color="#8850a4"/></linearGradient><rect x="586.8" y="565.8" width="207.1" height="17.4" fill="url(#hg26)"/>
<linearGradient id="hg27" x1="0" y1="0" x2="1" y2="0"><stop offset="0" stop-color="#fcb548"/><stop offset="0.03" stop-color="#fbaa45"/><stop offset="0.05" stop-color="#f89b4e"/><stop offset="0.07" stop-color="#f28a5e"/><stop offset="0.1" stop-color="#e8806d"/><stop offset="0.12" stop-color="#de777a"/><stop offset="0.15" stop-color="#cf7087"/><stop offset="0.17" stop-color="#c06894"/><stop offset="0.2" stop-color="#ac5f9d"/><stop offset="0.23" stop-color="#a05aa2"/><stop offset="0.25" stop-color="#9555a6"/><stop offset="0.28" stop-color="#8e52a5"/><stop offset="0.3" stop-color="#8750a4"/><stop offset="0.33" stop-color="#814ea3"/><stop offset="0.35" stop-color="#7c4ba2"/><stop offset="0.38" stop-color="#7649a0"/><stop offset="0.4" stop-color="#72489d"/><stop offset="0.42" stop-color="#6e479a"/><stop offset="0.45" stop-color="#6a4696"/><stop offset="0.47" stop-color="#664593"/><stop offset="0.5" stop-color="#624590"/><stop offset="0.53" stop-color="#5f448d"/><stop offset="0.55" stop-color="#5b438b"/><stop offset="0.57" stop-color="#584287"/><stop offset="0.6" stop-color="#554282"/><stop offset="0.62" stop-color="#52417d"/><stop offset="0.65" stop-color="#504179"/><stop offset="0.68" stop-color="#4f4175"/><stop offset="0.7" stop-color="#4d4172"/><stop offset="0.72" stop-color="#4b406d"/><stop offset="0.75" stop-color="#484069"/><stop offset="0.78" stop-color="#463f63"/><stop offset="0.8" stop-color="#443e5d"/><stop offset="0.82" stop-color="#433d5a"/><stop offset="0.85" stop-color="#423d56"/><stop offset="0.88" stop-color="#403c53"/><stop offset="0.9" stop-color="#3f3b50"/><stop offset="0.93" stop-color="#3e3b4e"/><stop offset="0.95" stop-color="#3d3a4c"/><stop offset="0.97" stop-color="#3c3a4a"/><stop offset="1" stop-color="#3b3948"/></linearGradient><rect x="586.8" y="582.2" width="207.1" height="17.4" fill="url(#hg27)"/>
<linearGradient id="hg28" x1="0" y1="0" x2="1" y2="0"><stop offset="0" stop-color="#fcb548"/><stop offset="0.03" stop-color="#fbaa45"/><stop offset="0.05" stop-color="#f89b4e"/><stop offset="0.07" stop-color="#f28a5e"/><stop offset="0.1" stop-color="#e8806d"/><stop offset="0.12" stop-color="#de777a"/><stop offset="0.15" stop-color="#cf7087"/><stop offset="0.17" stop-color="#c06894"/><stop offset="0.2" stop-color="#ac5f9d"/><stop offset="0.23" stop-color="#a05aa2"/><stop offset="0.25" stop-color="#9555a6"/><stop offset="0.28" stop-color="#8d52a5"/><stop offset="0.3" stop-color="#864fa4"/><stop offset="0.33" stop-color="#7f4da3"/><stop offset="0.35" stop-color="#794aa2"/><stop offset="0.38" stop-color="#73499e"/><stop offset="0.4" stop-color="#6e489a"/><stop offset="0.42" stop-color="#6a4797"/><stop offset="0.45" stop-color="#664694"/><stop offset="0.47" stop-color="#634591"/><stop offset="0.5" stop-color="#5f448e"/><stop offset="0.53" stop-color="#5c438b"/><stop offset="0.55" stop-color="#584288"/><stop offset="0.57" stop-color="#564283"/><stop offset="0.6" stop-color="#53417e"/><stop offset="0.62" stop-color="#504179"/><stop offset="0.65" stop-color="#4e4175"/><stop offset="0.68" stop-color="#4d4171"/><stop offset="0.7" stop-color="#4b406e"/><stop offset="0.72" stop-color="#49406a"/><stop offset="0.75" stop-color="#473f65"/><stop offset="0.78" stop-color="#453e60"/><stop offset="0.8" stop-color="#433e5a"/><stop offset="0.82" stop-color="#423d57"/><stop offset="0.85" stop-color="#403c53"/><stop offset="0.88" stop-color="#3f3b50"/><stop offset="0.9" stop-color="#3e3a4d"/><stop offset="0.93" stop-color="#3d3a4b"/><stop offset="0.95" stop-color="#3c3949"/><stop offset="0.97" stop-color="#3b3947"/><stop offset="1" stop-color="#3a3846"/></linearGradient><rect x="586.8" y="598.6" width="207.1" height="17.4" fill="url(#hg28)"/>
<linearGradient id="hg29" x1="0" y1="0" x2="1" y2="0"><stop offset="0" stop-color="#fba644"/><stop offset="0.03" stop-color="#f38c5c"/><stop offset="0.05" stop-color="#e47c72"/><stop offset="0.07" stop-color="#d17085"/><stop offset="0.1" stop-color="#bc6696"/><stop offset="0.12" stop-color="#a85d9f"/><stop offset="0.15" stop-color="#9655a6"/><stop offset="0.17" stop-color="#8a51a4"/><stop offset="0.2" stop-color="#7f4da3"/><stop offset="0.23" stop-color="#74499f"/><stop offset="0.25" stop-color="#6c4798"/><stop offset="0.28" stop-color="#654592"/><stop offset="0.3" stop-color="#60448e"/><stop offset="0.33" stop-color="#5b438a"/><stop offset="0.35" stop-color="#574286"/><stop offset="0.38" stop-color="#544280"/><stop offset="0.4" stop-color="#51417b"/><stop offset="0.42" stop-color="#4f4175"/><stop offset="0.45" stop-color="#4d4172"/><stop offset="0.47" stop-color="#4b406e"/><stop offset="0.5" stop-color="#49406a"/><stop offset="0.53" stop-color="#484067"/><stop offset="0.55" stop-color="#463f62"/><stop offset="0.57" stop-color="#443e5e"/><stop offset="0.6" stop-color="#433e5a"/><stop offset="0.62" stop-color="#423d58"/><stop offset="0.65" stop-color="#413c55"/><stop offset="0.68" stop-color="#403c52"/><stop offset="0.7" stop-color="#3f3b50"/><stop offset="0.72" stop-color="#3e3b4e"/><stop offset="0.75" stop-color="#3e3a4d"/><stop offset="0.78" stop-color="#3d3a4c"/><stop offset="0.8" stop-color="#3c3a4a"/><stop offset="0.82" stop-color="#3c3949"/><stop offset="0.85" stop-color="#3b3948"/><stop offset="0.88" stop-color="#3b3947"/><stop offset="0.9" stop-color="#3a3846"/><stop offset="0.93" stop-color="#3a3846"/><stop offset="0.95" stop-color="#393845"/><stop offset="0.97" stop-color="#393844"/><stop offset="1" stop-color="#383843"/></linearGradient><rect x="586.8" y="615" width="207.1" height="17.4" fill="url(#hg29)"/>
<linearGradient id="hg30" x1="0" y1="0" x2="1" y2="0"><stop offset="0" stop-color="#fbaa45"/><stop offset="0.03" stop-color="#f59455"/><stop offset="0.05" stop-color="#ec8467"/><stop offset="0.07" stop-color="#e07877"/><stop offset="0.1" stop-color="#cd6e89"/><stop offset="0.12" stop-color="#bc6696"/><stop offset="0.15" stop-color="#aa5e9e"/><stop offset="0.17" stop-color="#9b57a5"/><stop offset="0.2" stop-color="#9053a5"/><stop offset="0.23" stop-color="#8750a4"/><stop offset="0.25" stop-color="#7e4ca3"/><stop offset="0.28" stop-color="#764aa1"/><stop offset="0.3" stop-color="#70489b"/><stop offset="0.33" stop-color="#694696"/><stop offset="0.35" stop-color="#634591"/><stop offset="0.38" stop-color="#5f448d"/><stop offset="0.4" stop-color="#5a438a"/><stop offset="0.42" stop-color="#564285"/><stop offset="0.45" stop-color="#544280"/><stop offset="0.47" stop-color="#52417b"/><stop offset="0.5" stop-color="#4f4176"/><stop offset="0.53" stop-color="#4d4172"/><stop offset="0.55" stop-color="#4b406e"/><stop offset="0.57" stop-color="#49406a"/><stop offset="0.6" stop-color="#474065"/><stop offset="0.62" stop-color="#463f61"/><stop offset="0.65" stop-color="#443e5d"/><stop offset="0.68" stop-color="#423d59"/><stop offset="0.7" stop-color="#413c55"/><stop offset="0.72" stop-color="#403c52"/><stop offset="0.75" stop-color="#3f3b50"/><stop offset="0.78" stop-color="#3e3a4d"/><stop offset="0.8" stop-color="#3c3a4a"/><stop offset="0.82" stop-color="#3c394a"/><stop offset="0.85" stop-color="#3b3949"/><stop offset="0.88" stop-color="#3b3948"/><stop offset="0.9" stop-color="#3a3947"/><stop offset="0.93" stop-color="#3a3846"/><stop offset="0.95" stop-color="#393845"/><stop offset="0.97" stop-color="#393844"/><stop offset="1" stop-color="#383843"/></linearGradient><rect x="586.8" y="631.4" width="207.1" height="16.4" fill="url(#hg30)"/>
<path d="M67.5 490.62 L34.75 483.12 L46.25 493.12 C38.75 499.38 35 506.25 35.25 511.88 C35.5 518.12 40 525 48.12 531.25 L37.5 541.25 L69.38 531.25 L43.12 511.88 Z" fill="#3e6fcf"/>
<path d="M48.38 499.75 Q39 511.88 49.62 523.5 Q44 511.88 48.38 499.75 Z" fill="#fff" fill-opacity="0.95"/>
<circle cx="23.1" cy="512.2" r="11.8" fill="#fff" stroke="#707070" stroke-width="1.6"/>
<circle cx="23.8" cy="511.9" r="8.1" fill="#a9a9a9"/>
<circle cx="79.59" cy="532.11" r="8.3" fill="#a9a9a9"/>
<circle cx="27.21" cy="499.91" r="1.9" fill="#6a2bb0"/>
<circle cx="10.88" cy="514.42" r="1.9" fill="#6a2bb0"/>
<circle cx="30.84" cy="522.36" r="1.9" fill="#6a2bb0"/>
<circle cx="72.11" cy="490.16" r="1.9" fill="#6a2bb0"/>
<circle cx="84.58" cy="489.71" r="1.9" fill="#6a2bb0"/>
<circle cx="78.23" cy="498.55" r="1.9" fill="#6a2bb0"/>
<text x="26.3" y="556.6" font-family='"Liberation Serif", serif' font-size="15.7" fill="#f01010" text-anchor="start" font-weight="normal" stroke="#f01010" stroke-width="0.3">Oxidation</text>
<path d="M56.69 575.19 C38.55 575.65 27.21 586.98 30.61 599.46 C32.2 605.12 36.28 610.11 40.36 613.74 L25.4 625.53 L60.77 618.73 L46.49 605.12 C39 598.78 35.83 592.65 40.36 586.98 C44.22 582.9 50.34 581.09 56.69 580.63 Z" fill="#3e6fcf"/>
<circle cx="22.22" cy="600.59" r="8.1" fill="#a9a9a9"/>
<circle cx="72.11" cy="616.46" r="12.1" fill="#fff" stroke="#707070" stroke-width="1.6"/>
<circle cx="72.11" cy="616.46" r="8.1" fill="#a9a9a9"/>
<circle cx="74.83" cy="604.44" r="1.9" fill="#6a2bb0"/>
<circle cx="59.64" cy="619.18" r="1.9" fill="#6a2bb0"/>
<circle cx="78.68" cy="627.8" r="1.9" fill="#6a2bb0"/>
<circle cx="59.64" cy="576.1" r="1.9" fill="#6a2bb0"/>
<circle cx="72.11" cy="576.1" r="1.9" fill="#6a2bb0"/>
<circle cx="66.21" cy="584.26" r="1.9" fill="#6a2bb0"/>
<text x="26.4" y="647.2" font-family='"Liberation Serif", serif' font-size="15.7" fill="#f01010" text-anchor="start" font-weight="normal" stroke="#f01010" stroke-width="0.3">Reduction</text>
<text x="0.4" y="672.3" font-family='"Liberation Serif", serif' font-size="26" fill="#000" text-anchor="start" font-weight="normal"  stroke="#000" stroke-width="0.28">G</text>
<text x="7.4" y="687.6" font-family='"Liberation Serif", serif' font-size="20" fill="#000" stroke="#000" stroke-width="0.28">G<tspan font-size="13.5" dy="4.6">i</tspan></text>
<linearGradient id="ga0" x1="0" y1="0" x2="0" y2="1"><stop offset="0" stop-color="#ff2016"/><stop offset="0.14" stop-color="#ff4424"/><stop offset="0.37" stop-color="#ff8c44"/><stop offset="0.58" stop-color="#ffc656"/><stop offset="0.8" stop-color="#fff066"/><stop offset="1" stop-color="#ffff70"/></linearGradient>
<rect x="54.5" y="695.57" width="17.2" height="145.43" fill="url(#ga0)"/>
<linearGradient id="ga1" x1="0" y1="0" x2="0" y2="1"><stop offset="0" stop-color="#ff2016"/><stop offset="0.14" stop-color="#ff4424"/><stop offset="0.37" stop-color="#ff8c44"/><stop offset="0.58" stop-color="#ffc656"/><stop offset="0.8" stop-color="#fff066"/><stop offset="1" stop-color="#ffff70"/></linearGradient>
<rect x="76.03" y="721.92" width="17.2" height="119.08" fill="url(#ga1)"/>
<linearGradient id="ga2" x1="0" y1="0" x2="0" y2="1"><stop offset="0" stop-color="#ff2016"/><stop offset="0.14" stop-color="#ff4424"/><stop offset="0.37" stop-color="#ff8c44"/><stop offset="0.58" stop-color="#ffc656"/><stop offset="0.8" stop-color="#fff066"/><stop offset="1" stop-color="#ffff70"/></linearGradient>
<rect x="97.56" y="739.19" width="17.2" height="101.81" fill="url(#ga2)"/>
<linearGradient id="ga3" x1="0" y1="0" x2="0" y2="1"><stop offset="0" stop-color="#ff2016"/><stop offset="0.14" stop-color="#ff4424"/><stop offset="0.37" stop-color="#ff8c44"/><stop offset="0.58" stop-color="#ffc656"/><stop offset="0.8" stop-color="#fff066"/><stop offset="1" stop-color="#ffff70"/></linearGradient>
<rect x="119.09" y="747.68" width="17.2" height="93.32" fill="url(#ga3)"/>
<linearGradient id="ga4" x1="0" y1="0" x2="0" y2="1"><stop offset="0" stop-color="#ff2016"/><stop offset="0.14" stop-color="#ff4424"/><stop offset="0.37" stop-color="#ff8c44"/><stop offset="0.58" stop-color="#ffc656"/><stop offset="0.8" stop-color="#fff066"/><stop offset="1" stop-color="#ffff70"/></linearGradient>
<rect x="140.62" y="752.97" width="17.2" height="88.03" fill="url(#ga4)"/>
<linearGradient id="ga5" x1="0" y1="0" x2="0" y2="1"><stop offset="0" stop-color="#ff2016"/><stop offset="0.14" stop-color="#ff4424"/><stop offset="0.37" stop-color="#ff8c44"/><stop offset="0.58" stop-color="#ffc656"/><stop offset="0.8" stop-color="#fff066"/><stop offset="1" stop-color="#ffff70"/></linearGradient>
<rect x="162.15" y="758.95" width="17.2" height="82.05" fill="url(#ga5)"/>
<linearGradient id="ga6" x1="0" y1="0" x2="0" y2="1"><stop offset="0" stop-color="#ff2016"/><stop offset="0.14" stop-color="#ff4424"/><stop offset="0.37" stop-color="#ff8c44"/><stop offset="0.58" stop-color="#ffc656"/><stop offset="0.8" stop-color="#fff066"/><stop offset="1" stop-color="#ffff70"/></linearGradient>
<rect x="183.68" y="763.84" width="17.2" height="77.16" fill="url(#ga6)"/>
<linearGradient id="ga7" x1="0" y1="0" x2="0" y2="1"><stop offset="0" stop-color="#ff2016"/><stop offset="0.14" stop-color="#ff4424"/><stop offset="0.37" stop-color="#ff8c44"/><stop offset="0.58" stop-color="#ffc656"/><stop offset="0.8" stop-color="#fff066"/><stop offset="1" stop-color="#ffff70"/></linearGradient>
<rect x="205.21" y="768.74" width="17.2" height="72.26" fill="url(#ga7)"/>
<linearGradient id="ga8" x1="0" y1="0" x2="0" y2="1"><stop offset="0" stop-color="#ff2016"/><stop offset="0.14" stop-color="#ff4424"/><stop offset="0.37" stop-color="#ff8c44"/><stop offset="0.58" stop-color="#ffc656"/><stop offset="0.8" stop-color="#fff066"/><stop offset="1" stop-color="#ffff70"/></linearGradient>
<rect x="226.74" y="770.23" width="17.2" height="70.77" fill="url(#ga8)"/>
<linearGradient id="ga9" x1="0" y1="0" x2="0" y2="1"><stop offset="0" stop-color="#ff2016"/><stop offset="0.14" stop-color="#ff4424"/><stop offset="0.37" stop-color="#ff8c44"/><stop offset="0.58" stop-color="#ffc656"/><stop offset="0.8" stop-color="#fff066"/><stop offset="1" stop-color="#ffff70"/></linearGradient>
<rect x="248.27" y="774.33" width="17.2" height="66.67" fill="url(#ga9)"/>
<rect x="52.6" y="681.3" width="215.2" height="159.7" fill="none" stroke="#444" stroke-width="0.8"/>
<path d="M52.6 841 h2.4" stroke="#444" stroke-width="0.8"/>
<text x="49.2" y="844.4" font-family='"Liberation Sans", sans-serif' font-size="9.5" fill="#111" text-anchor="end" font-weight="normal"  stroke="#111" stroke-width="0.28">0.00</text>
<path d="M52.6 801.08 h2.4" stroke="#444" stroke-width="0.8"/>
<text x="49.2" y="804.48" font-family='"Liberation Sans", sans-serif' font-size="9.5" fill="#111" text-anchor="end" font-weight="normal"  stroke="#111" stroke-width="0.28">0.04</text>
<path d="M52.6 761.15 h2.4" stroke="#444" stroke-width="0.8"/>
<text x="49.2" y="764.55" font-family='"Liberation Sans", sans-serif' font-size="9.5" fill="#111" text-anchor="end" font-weight="normal"  stroke="#111" stroke-width="0.28">0.08</text>
<path d="M52.6 721.22 h2.4" stroke="#444" stroke-width="0.8"/>
<text x="49.2" y="724.62" font-family='"Liberation Sans", sans-serif' font-size="9.5" fill="#111" text-anchor="end" font-weight="normal"  stroke="#111" stroke-width="0.28">0.12</text>
<path d="M52.6 681.3 h2.4" stroke="#444" stroke-width="0.8"/>
<text x="49.2" y="684.7" font-family='"Liberation Sans", sans-serif' font-size="9.5" fill="#111" text-anchor="end" font-weight="normal"  stroke="#111" stroke-width="0.28">0.16</text>
<path d="M63.1 841 v-2.4" stroke="#444" stroke-width="0.8"/>
<text x="63.1" y="852.6" font-family='"Liberation Sans", sans-serif' font-size="9.3" fill="#111" text-anchor="middle" font-weight="normal"  stroke="#111" stroke-width="0.28">2</text>
<path d="M84.63 841 v-2.4" stroke="#444" stroke-width="0.8"/>
<text x="84.63" y="852.6" font-family='"Liberation Sans", sans-serif' font-size="9.3" fill="#111" text-anchor="middle" font-weight="normal"  stroke="#111" stroke-width="0.28">4</text>
<path d="M106.16 841 v-2.4" stroke="#444" stroke-width="0.8"/>
<text x="106.16" y="852.6" font-family='"Liberation Sans", sans-serif' font-size="9.3" fill="#111" text-anchor="middle" font-weight="normal"  stroke="#111" stroke-width="0.28">6</text>
<path d="M127.69 841 v-2.4" stroke="#444" stroke-width="0.8"/>
<text x="127.69" y="852.6" font-family='"Liberation Sans", sans-serif' font-size="9.3" fill="#111" text-anchor="middle" font-weight="normal"  stroke="#111" stroke-width="0.28">8</text>
<path d="M149.22 841 v-2.4" stroke="#444" stroke-width="0.8"/>
<text x="149.22" y="852.6" font-family='"Liberation Sans", sans-serif' font-size="9.3" fill="#111" text-anchor="middle" font-weight="normal"  stroke="#111" stroke-width="0.28">10</text>
<path d="M170.75 841 v-2.4" stroke="#444" stroke-width="0.8"/>
<text x="170.75" y="852.6" font-family='"Liberation Sans", sans-serif' font-size="9.3" fill="#111" text-anchor="middle" font-weight="normal"  stroke="#111" stroke-width="0.28">12</text>
<path d="M192.28 841 v-2.4" stroke="#444" stroke-width="0.8"/>
<text x="192.28" y="852.6" font-family='"Liberation Sans", sans-serif' font-size="9.3" fill="#111" text-anchor="middle" font-weight="normal"  stroke="#111" stroke-width="0.28">14</text>
<path d="M213.81 841 v-2.4" stroke="#444" stroke-width="0.8"/>
<text x="213.81" y="852.6" font-family='"Liberation Sans", sans-serif' font-size="9.3" fill="#111" text-anchor="middle" font-weight="normal"  stroke="#111" stroke-width="0.28">16</text>
<path d="M235.34 841 v-2.4" stroke="#444" stroke-width="0.8"/>
<text x="235.34" y="852.6" font-family='"Liberation Sans", sans-serif' font-size="9.3" fill="#111" text-anchor="middle" font-weight="normal"  stroke="#111" stroke-width="0.28">18</text>
<path d="M256.87 841 v-2.4" stroke="#444" stroke-width="0.8"/>
<text x="256.87" y="852.6" font-family='"Liberation Sans", sans-serif' font-size="9.3" fill="#111" text-anchor="middle" font-weight="normal"  stroke="#111" stroke-width="0.28">20</text>
<text x="160.2" y="870.4" font-family='"Liberation Sans", sans-serif' font-size="12.45" fill="#111" text-anchor="middle" font-weight="normal"  stroke="#111" stroke-width="0.28">Degradation time (day)</text>
<text x="26.4" y="762.5" font-family='"Liberation Sans", sans-serif' font-size="12.1" fill="#111" text-anchor="middle" font-weight="normal" transform="rotate(-90 26.4 762.5)"  stroke="#111" stroke-width="0.28">Potential (V)</text>
<text x="266.8" y="687.6" font-family='"Liberation Serif", serif' font-size="20" fill="#000" stroke="#000" stroke-width="0.28">G<tspan font-size="13.5" dy="4.6">ii</tspan></text>
<linearGradient id="gb0" x1="0" y1="0" x2="0" y2="1"><stop offset="0" stop-color="#ff2016"/><stop offset="0.14" stop-color="#ff4424"/><stop offset="0.37" stop-color="#ff8c44"/><stop offset="0.58" stop-color="#ffc656"/><stop offset="0.8" stop-color="#fff066"/><stop offset="1" stop-color="#ffff70"/></linearGradient>
<rect x="316.1" y="698.85" width="21.8" height="142.15" fill="url(#gb0)"/>
<linearGradient id="gb1" x1="0" y1="0" x2="0" y2="1"><stop offset="0" stop-color="#ff2016"/><stop offset="0.14" stop-color="#ff4424"/><stop offset="0.37" stop-color="#ff8c44"/><stop offset="0.58" stop-color="#ffc656"/><stop offset="0.8" stop-color="#fff066"/><stop offset="1" stop-color="#ffff70"/></linearGradient>
<rect x="342.9" y="699.67" width="21.8" height="141.33" fill="url(#gb1)"/>
<linearGradient id="gb2" x1="0" y1="0" x2="0" y2="1"><stop offset="0" stop-color="#ff2016"/><stop offset="0.14" stop-color="#ff4424"/><stop offset="0.37" stop-color="#ff8c44"/><stop offset="0.58" stop-color="#ffc656"/><stop offset="0.8" stop-color="#fff066"/><stop offset="1" stop-color="#ffff70"/></linearGradient>
<rect x="369.7" y="701.51" width="21.8" height="139.49" fill="url(#gb2)"/>
<linearGradient id="gb3" x1="0" y1="0" x2="0" y2="1"><stop offset="0" stop-color="#ff2016"/><stop offset="0.14" stop-color="#ff4424"/><stop offset="0.37" stop-color="#ff8c44"/><stop offset="0.58" stop-color="#ffc656"/><stop offset="0.8" stop-color="#fff066"/><stop offset="1" stop-color="#ffff70"/></linearGradient>
<rect x="396.5" y="789.27" width="21.8" height="51.73" fill="url(#gb3)"/>
<linearGradient id="gb4" x1="0" y1="0" x2="0" y2="1"><stop offset="0" stop-color="#ff2016"/><stop offset="0.14" stop-color="#ff4424"/><stop offset="0.37" stop-color="#ff8c44"/><stop offset="0.58" stop-color="#ffc656"/><stop offset="0.8" stop-color="#fff066"/><stop offset="1" stop-color="#ffff70"/></linearGradient>
<rect x="423.3" y="830.11" width="21.8" height="10.89" fill="url(#gb4)"/>
<linearGradient id="gb5" x1="0" y1="0" x2="0" y2="1"><stop offset="0" stop-color="#ff2016"/><stop offset="0.14" stop-color="#ff4424"/><stop offset="0.37" stop-color="#ff8c44"/><stop offset="0.58" stop-color="#ffc656"/><stop offset="0.8" stop-color="#fff066"/><stop offset="1" stop-color="#ffff70"/></linearGradient>
<rect x="450.1" y="831.31" width="21.8" height="9.69" fill="url(#gb5)"/>
<linearGradient id="gb6" x1="0" y1="0" x2="0" y2="1"><stop offset="0" stop-color="#ff2016"/><stop offset="0.14" stop-color="#ff4424"/><stop offset="0.37" stop-color="#ff8c44"/><stop offset="0.58" stop-color="#ffc656"/><stop offset="0.8" stop-color="#fff066"/><stop offset="1" stop-color="#ffff70"/></linearGradient>
<rect x="476.9" y="831.63" width="21.8" height="9.37" fill="url(#gb6)"/>
<linearGradient id="gb7" x1="0" y1="0" x2="0" y2="1"><stop offset="0" stop-color="#ff2016"/><stop offset="0.14" stop-color="#ff4424"/><stop offset="0.37" stop-color="#ff8c44"/><stop offset="0.58" stop-color="#ffc656"/><stop offset="0.8" stop-color="#fff066"/><stop offset="1" stop-color="#ffff70"/></linearGradient>
<rect x="503.7" y="834.29" width="21.8" height="6.71" fill="url(#gb7)"/>
<rect x="313.2" y="682.7" width="214.7" height="158.3" fill="none" stroke="#444" stroke-width="0.8"/>
<path d="M313.2 841 h2.4" stroke="#444" stroke-width="0.8"/>
<text x="309.8" y="844.4" font-family='"Liberation Sans", sans-serif' font-size="9.5" fill="#111" text-anchor="end" font-weight="normal"  stroke="#111" stroke-width="0.28">0.00</text>
<path d="M313.2 809.34 h2.4" stroke="#444" stroke-width="0.8"/>
<text x="309.8" y="812.74" font-family='"Liberation Sans", sans-serif' font-size="9.5" fill="#111" text-anchor="end" font-weight="normal"  stroke="#111" stroke-width="0.28">0.05</text>
<path d="M313.2 777.68 h2.4" stroke="#444" stroke-width="0.8"/>
<text x="309.8" y="781.08" font-family='"Liberation Sans", sans-serif' font-size="9.5" fill="#111" text-anchor="end" font-weight="normal"  stroke="#111" stroke-width="0.28">0.10</text>
<path d="M313.2 746.02 h2.4" stroke="#444" stroke-width="0.8"/>
<text x="309.8" y="749.42" font-family='"Liberation Sans", sans-serif' font-size="9.5" fill="#111" text-anchor="end" font-weight="normal"  stroke="#111" stroke-width="0.28">0.15</text>
<path d="M313.2 714.36 h2.4" stroke="#444" stroke-width="0.8"/>
<text x="309.8" y="717.76" font-family='"Liberation Sans", sans-serif' font-size="9.5" fill="#111" text-anchor="end" font-weight="normal"  stroke="#111" stroke-width="0.28">0.20</text>
<path d="M313.2 682.7 h2.4" stroke="#444" stroke-width="0.8"/>
<text x="309.8" y="686.1" font-family='"Liberation Sans", sans-serif' font-size="9.5" fill="#111" text-anchor="end" font-weight="normal"  stroke="#111" stroke-width="0.28">0.25</text>
<path d="M327 841 v-2.4" stroke="#444" stroke-width="0.8"/>
<text x="327" y="852.6" font-family='"Liberation Sans", sans-serif' font-size="9.3" fill="#111" text-anchor="middle" font-weight="normal"  stroke="#111" stroke-width="0.28">2</text>
<path d="M353.8 841 v-2.4" stroke="#444" stroke-width="0.8"/>
<text x="353.8" y="852.6" font-family='"Liberation Sans", sans-serif' font-size="9.3" fill="#111" text-anchor="middle" font-weight="normal"  stroke="#111" stroke-width="0.28">4</text>
<path d="M380.6 841 v-2.4" stroke="#444" stroke-width="0.8"/>
<text x="380.6" y="852.6" font-family='"Liberation Sans", sans-serif' font-size="9.3" fill="#111" text-anchor="middle" font-weight="normal"  stroke="#111" stroke-width="0.28">6</text>
<path d="M407.4 841 v-2.4" stroke="#444" stroke-width="0.8"/>
<text x="407.4" y="852.6" font-family='"Liberation Sans", sans-serif' font-size="9.3" fill="#111" text-anchor="middle" font-weight="normal"  stroke="#111" stroke-width="0.28">8</text>
<path d="M434.2 841 v-2.4" stroke="#444" stroke-width="0.8"/>
<text x="434.2" y="852.6" font-family='"Liberation Sans", sans-serif' font-size="9.3" fill="#111" text-anchor="middle" font-weight="normal"  stroke="#111" stroke-width="0.28">10</text>
<path d="M461 841 v-2.4" stroke="#444" stroke-width="0.8"/>
<text x="461" y="852.6" font-family='"Liberation Sans", sans-serif' font-size="9.3" fill="#111" text-anchor="middle" font-weight="normal"  stroke="#111" stroke-width="0.28">12</text>
<path d="M487.8 841 v-2.4" stroke="#444" stroke-width="0.8"/>
<text x="487.8" y="852.6" font-family='"Liberation Sans", sans-serif' font-size="9.3" fill="#111" text-anchor="middle" font-weight="normal"  stroke="#111" stroke-width="0.28">14</text>
<path d="M514.6 841 v-2.4" stroke="#444" stroke-width="0.8"/>
<text x="514.6" y="852.6" font-family='"Liberation Sans", sans-serif' font-size="9.3" fill="#111" text-anchor="middle" font-weight="normal"  stroke="#111" stroke-width="0.28">16</text>
<text x="421.2" y="870.4" font-family='"Liberation Sans", sans-serif' font-size="12.45" fill="#111" text-anchor="middle" font-weight="normal"  stroke="#111" stroke-width="0.28">Degradation time (day)</text>
<text transform="translate(286.9 759.5) rotate(-90)" font-family='"Liberation Sans", sans-serif' font-size="12.1" fill="#111" text-anchor="middle" stroke="#111" stroke-width="0.28">Energy density (mA/cm<tspan font-size="7.5" dy="-4">2</tspan><tspan dy="4">)</tspan></text>
<text x="535.2" y="677.4" font-family='"Liberation Serif", serif' font-size="25" fill="#000" text-anchor="start" font-weight="normal"  stroke="#000" stroke-width="0.28">H</text>
<rect x="577.6" y="684.4" width="214.9" height="157.2" fill="none" stroke="#5a5a5a" stroke-width="1.1"/>
<path d="M577.6 684.4 h2.4" stroke="#444" stroke-width="0.8"/>
<text x="574" y="687.8" font-family='"Liberation Sans", sans-serif' font-size="9.5" fill="#111" text-anchor="end" font-weight="normal"  stroke="#111" stroke-width="0.28">0.4</text>
<path d="M577.6 736.8 h2.4" stroke="#444" stroke-width="0.8"/>
<text x="574" y="740.2" font-family='"Liberation Sans", sans-serif' font-size="9.5" fill="#111" text-anchor="end" font-weight="normal"  stroke="#111" stroke-width="0.28">0.2</text>
<path d="M577.6 789.2 h2.4" stroke="#444" stroke-width="0.8"/>
<text x="574" y="792.6" font-family='"Liberation Sans", sans-serif' font-size="9.5" fill="#111" text-anchor="end" font-weight="normal"  stroke="#111" stroke-width="0.28">0.0</text>
<path d="M577.6 841.6 h2.4" stroke="#444" stroke-width="0.8"/>
<text x="574" y="845" font-family='"Liberation Sans", sans-serif' font-size="9.5" fill="#111" text-anchor="end" font-weight="normal"  stroke="#111" stroke-width="0.28">-0.2</text>
<path d="M578.97 751.05 Q589.07 749.5 599.18 749.55" fill="none" stroke="#4a4a4a" stroke-width="1.7"/>
<text x="577.47" y="748.05" font-family='"Liberation Sans", sans-serif' font-size="7.6" fill="#4a4a4a" text-anchor="start" font-weight="normal" stroke="#4a4a4a" stroke-width="0.2">2 days</text>
<path d="M600.3 758.91 Q609.66 757.17 619.01 757.04" fill="none" stroke="#f4585a" stroke-width="1.7"/>
<text x="599.18" y="768.26" font-family='"Liberation Sans", sans-serif' font-size="7.6" fill="#f4585a" text-anchor="start" font-weight="normal" stroke="#f4585a" stroke-width="0.2">4 days</text>
<path d="M621.63 763.4 Q631.92 761.29 642.22 760.78" fill="none" stroke="#4046f0" stroke-width="1.7"/>
<text x="621.63" y="757.78" font-family='"Liberation Sans", sans-serif' font-size="7.6" fill="#4046f0" text-anchor="start" font-weight="normal" stroke="#4046f0" stroke-width="0.2">6 days</text>
<path d="M643.34 765.64 Q653.63 763.53 663.92 763.02" fill="none" stroke="#f040f0" stroke-width="1.7"/>
<text x="641.47" y="773.5" font-family='"Liberation Sans", sans-serif' font-size="7.6" fill="#f040f0" text-anchor="start" font-weight="normal" stroke="#f040f0" stroke-width="0.2">8 days</text>
<path d="M664.67 769.76 Q674.96 765.22 685.25 762.28" fill="none" stroke="#36a83c" stroke-width="1.7"/>
<text x="663.92" y="760.78" font-family='"Liberation Sans", sans-serif' font-size="7.6" fill="#36a83c" text-anchor="start" font-weight="normal" stroke="#36a83c" stroke-width="0.2">10 days</text>
<path d="M686 770.51 Q695.92 767.28 705.84 765.64" fill="none" stroke="#353a9a" stroke-width="1.7"/>
<text x="684.51" y="778.37" font-family='"Liberation Sans", sans-serif' font-size="7.6" fill="#353a9a" text-anchor="start" font-weight="normal" stroke="#353a9a" stroke-width="0.2">12 days</text>
<path d="M707.71 771.63 Q718 768.02 728.29 766.02" fill="none" stroke="#a646f4" stroke-width="1.7"/>
<text x="706.96" y="763.4" font-family='"Liberation Sans", sans-serif' font-size="7.6" fill="#a646f4" text-anchor="start" font-weight="normal" stroke="#a646f4" stroke-width="0.2">14 days</text>
<path d="M729.04 773.13 Q739.15 769.9 749.25 768.26" fill="none" stroke="#a040a6" stroke-width="1.7"/>
<text x="725.67" y="782.11" font-family='"Liberation Sans", sans-serif' font-size="7.6" fill="#a040a6" text-anchor="start" font-weight="normal" stroke="#a040a6" stroke-width="0.2">16 days</text>
<path d="M750.75 772.75 Q761.04 769.52 771.33 767.89" fill="none" stroke="#a8363c" stroke-width="1.7"/>
<text x="749.25" y="764.9" font-family='"Liberation Sans", sans-serif' font-size="7.6" fill="#a8363c" text-anchor="start" font-weight="normal" stroke="#a8363c" stroke-width="0.2">18 days</text>
<path d="M772.08 773.5 Q782.37 770.83 792.66 769.76" fill="none" stroke="#a6a63a" stroke-width="1.7"/>
<text x="764.97" y="783.23" font-family='"Liberation Sans", sans-serif' font-size="7.6" fill="#a6a63a" text-anchor="start" font-weight="normal" stroke="#a6a63a" stroke-width="0.2">20 days</text>
<text x="676.6" y="870.4" font-family='"Liberation Serif", serif' font-size="13.35" fill="#111" text-anchor="middle" font-weight="normal" stroke="#111" stroke-width="0.25">Degradation time (day)</text>
<text x="549.8" y="761" font-family='"Liberation Serif", serif' font-size="13.3" fill="#111" text-anchor="middle" font-weight="normal" transform="rotate(-90 549.8 761)"  stroke="#111" stroke-width="0.28">Potential (V)</text>
<g opacity="0.7">
<ellipse cx="469.8" cy="848.8" rx="6.6" ry="5.5" fill="#a8a8a8"/>
<path d="M465.5 852.5 l-1.5 3.6 l4 -2 Z" fill="#a8a8a8"/>
<ellipse cx="476.3" cy="853.6" rx="5.4" ry="4.5" fill="#a8a8a8" stroke="#fff" stroke-width="0.9"/>
<path d="M479.5 856.8 l1.2 2.6 l-3.3 -1.6 Z" fill="#a8a8a8"/>
<circle cx="467.3" cy="847.3" r="0.9" fill="#fff"/><circle cx="472" cy="847.3" r="0.9" fill="#fff"/>
<circle cx="474.4" cy="852.6" r="0.75" fill="#fff"/><circle cx="478.2" cy="852.6" r="0.75" fill="#fff"/>
<g fill="none" stroke="#a8a8a8" stroke-width="1.7" stroke-linecap="round" stroke-linejoin="round">
<path d="M492.5 843.5 Q490.5 848.5 486.5 851.5"/><path d="M497.5 843.5 Q500 848.5 504.5 851.5"/>
<path d="M495 849.5 L489 858.5 L501.5 857.5"/><path d="M499 853.5 L503 859"/>
<path d="M517.5 842.5 Q516 847.5 509 850.5"/><path d="M517.5 843.5 Q520 848 526.5 850.5"/>
<path d="M513 851 Q512.5 856 508.5 859.5"/><path d="M513 853.5 L516.5 859"/>
<path d="M522 851 Q521.5 856 517.8 859.5"/><path d="M522 853.5 L527 859"/>
<path d="M534.5 843.5 H545.5 V848.5 H534.5 Z"/><path d="M531.5 851.5 H548.5"/>
<path d="M537 851.5 L536 855 H545.5 Q545.5 859 542.5 859.5 L540.5 859.3"/>
</g>
<circle cx="563.5" cy="851.5" r="1.4" fill="#a8a8a8"/>
<text x="576" y="858.9" font-family='"Liberation Sans", sans-serif' font-size="24.5" fill="#a8a8a8" text-anchor="start" font-weight="normal" textLength="198.5" lengthAdjust="spacingAndGlyphs" stroke="#a8a8a8" stroke-width="0.28">EngineeringForLife</text>
</g>
</svg>
</body></html>
